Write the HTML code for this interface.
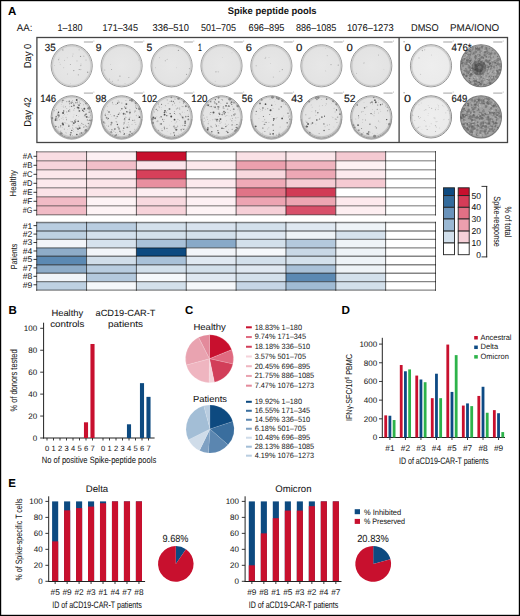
<!DOCTYPE html>
<html><head><meta charset="utf-8"><style>
html,body{margin:0;padding:0;background:#fff;width:520px;height:616px;overflow:hidden;}
svg{display:block;font-family:"Liberation Sans", sans-serif;text-rendering:geometricPrecision;}
</style></head><body>
<svg width="520" height="616" viewBox="0 0 520 616">
<defs><radialGradient id="pg"><stop offset="0" stop-color="#e7e7e7"/><stop offset="0.85" stop-color="#e3e3e3"/><stop offset="1" stop-color="#dadada"/></radialGradient><radialGradient id="pg2"><stop offset="0" stop-color="#eeeeee"/><stop offset="0.85" stop-color="#ebebeb"/><stop offset="1" stop-color="#e0e0e0"/></radialGradient><filter id="bl" x="-10%" y="-10%" width="120%" height="120%"><feGaussianBlur stdDeviation="0.5"/></filter><filter id="bl2" x="-10%" y="-10%" width="120%" height="120%"><feGaussianBlur stdDeviation="0.6"/></filter></defs>
<rect x="0" y="0" width="520" height="616" fill="#fff"/>
<rect x="0.60" y="0.60" width="518.80" height="614.80" fill="none" stroke="#000" stroke-width="1.2" />
<text x="7.90" y="15.10" font-size="11.5" text-anchor="start" fill="#000" font-weight="bold" >A</text>
<text x="227.70" y="14.20" font-size="9.6" text-anchor="start" fill="#151515" font-weight="bold" textLength="88.9" lengthAdjust="spacingAndGlyphs" >Spike peptide pools</text>
<text x="16.80" y="30.60" font-size="9.9" text-anchor="start" fill="#151515" stroke="#151515" stroke-width="0.05" textLength="15.6" lengthAdjust="spacingAndGlyphs" >AA:</text>
<text x="70.00" y="31.00" font-size="9.9" text-anchor="middle" fill="#151515" stroke="#151515" stroke-width="0.05" textLength="25" lengthAdjust="spacingAndGlyphs" >1–180</text>
<text x="120.25" y="31.00" font-size="9.9" text-anchor="middle" fill="#151515" stroke="#151515" stroke-width="0.05" textLength="35.5" lengthAdjust="spacingAndGlyphs" >171–345</text>
<text x="170.75" y="31.00" font-size="9.9" text-anchor="middle" fill="#151515" stroke="#151515" stroke-width="0.05" textLength="36.5" lengthAdjust="spacingAndGlyphs" >336–510</text>
<text x="218.50" y="31.00" font-size="9.9" text-anchor="middle" fill="#151515" stroke="#151515" stroke-width="0.05" textLength="35" lengthAdjust="spacingAndGlyphs" >501–705</text>
<text x="266.50" y="31.00" font-size="9.9" text-anchor="middle" fill="#151515" stroke="#151515" stroke-width="0.05" textLength="35.8" lengthAdjust="spacingAndGlyphs" >696–895</text>
<text x="316.20" y="31.00" font-size="9.9" text-anchor="middle" fill="#151515" stroke="#151515" stroke-width="0.05" textLength="40.4" lengthAdjust="spacingAndGlyphs" >886–1085</text>
<text x="370.30" y="31.00" font-size="9.9" text-anchor="middle" fill="#151515" stroke="#151515" stroke-width="0.05" textLength="46.8" lengthAdjust="spacingAndGlyphs" >1076–1273</text>
<text x="424.80" y="31.00" font-size="9.9" text-anchor="middle" fill="#151515" stroke="#151515" stroke-width="0.05" textLength="27.6" lengthAdjust="spacingAndGlyphs" >DMSO</text>
<text x="474.60" y="31.00" font-size="9.9" text-anchor="middle" fill="#151515" stroke="#151515" stroke-width="0.05" textLength="49.2" lengthAdjust="spacingAndGlyphs" >PMA/IONO</text>
<rect x="36.90" y="37.50" width="470.60" height="105.00" fill="none" stroke="#444" stroke-width="1.3" />
<line x1="399.10" y1="37.50" x2="399.10" y2="142.50" stroke="#444" stroke-width="1.3"/>
<text x="31.20" y="56.00" font-size="10" text-anchor="middle" fill="#151515" stroke="#151515" stroke-width="0.05" textLength="24.5" lengthAdjust="spacingAndGlyphs" transform="rotate(-90 31.20 56.00)" >Day 0</text>
<text x="31.20" y="112.00" font-size="10" text-anchor="middle" fill="#151515" stroke="#151515" stroke-width="0.05" textLength="29.5" lengthAdjust="spacingAndGlyphs" transform="rotate(-90 31.20 112.00)" >Day 42</text>
<ellipse cx="71.70" cy="65.80" rx="20.55" ry="21.05" fill="url(#pg)" stroke="#969696" stroke-width="1.0"/>
<ellipse cx="71.70" cy="65.80" rx="19.45" ry="19.95" fill="none" stroke="#cbcbcb" stroke-width="1.3"/>
<g filter="url(#bl)"><circle cx="67.19" cy="57.71" r="0.47" fill="rgb(182,182,182)"/><circle cx="67.50" cy="74.02" r="0.45" fill="rgb(167,167,167)"/><circle cx="63.73" cy="67.79" r="0.48" fill="rgb(177,177,177)"/><circle cx="59.05" cy="58.03" r="0.51" fill="rgb(192,192,192)"/><circle cx="83.80" cy="56.20" r="0.64" fill="rgb(188,188,188)"/><circle cx="73.76" cy="70.62" r="0.69" fill="rgb(158,158,158)"/><circle cx="73.06" cy="53.99" r="0.47" fill="rgb(177,177,177)"/><circle cx="59.76" cy="62.34" r="0.39" fill="rgb(193,193,193)"/><circle cx="64.63" cy="60.21" r="0.42" fill="rgb(154,154,154)"/><circle cx="79.11" cy="49.84" r="0.62" fill="rgb(185,185,185)"/><circle cx="70.31" cy="83.65" r="0.38" fill="rgb(190,190,190)"/><circle cx="62.82" cy="49.94" r="0.65" fill="rgb(152,152,152)"/><circle cx="58.67" cy="59.64" r="0.60" fill="rgb(169,169,169)"/><circle cx="54.33" cy="65.57" r="0.36" fill="rgb(161,161,161)"/><circle cx="80.54" cy="56.39" r="0.66" fill="rgb(151,151,151)"/><circle cx="86.02" cy="59.98" r="0.57" fill="rgb(176,176,176)"/><circle cx="60.24" cy="64.22" r="0.55" fill="rgb(195,195,195)"/><circle cx="80.85" cy="65.57" r="0.58" fill="rgb(167,167,167)"/><circle cx="72.56" cy="56.03" r="0.62" fill="rgb(195,195,195)"/><circle cx="79.24" cy="69.52" r="0.59" fill="rgb(155,155,155)"/><circle cx="78.33" cy="74.83" r="0.57" fill="rgb(165,165,165)"/><circle cx="76.98" cy="60.99" r="0.62" fill="rgb(194,194,194)"/><circle cx="81.01" cy="63.96" r="0.43" fill="rgb(163,163,163)"/><circle cx="87.69" cy="72.22" r="0.67" fill="rgb(155,155,155)"/><circle cx="70.39" cy="64.50" r="0.60" fill="rgb(169,169,169)"/><circle cx="80.81" cy="69.57" r="0.57" fill="rgb(182,182,182)"/></g>
<line x1="83.90" y1="42.00" x2="93.00" y2="42.00" stroke="#aaaaaa" stroke-width="1.1"/>
<circle cx="93.90" cy="41.00" r="0.50" fill="#aaa" />
<ellipse cx="71.70" cy="116.90" rx="20.55" ry="21.05" fill="url(#pg)" stroke="#8a8a8a" stroke-width="1.0"/>
<ellipse cx="71.70" cy="116.90" rx="19.45" ry="19.95" fill="none" stroke="#c0c0c0" stroke-width="1.3"/>
<g filter="url(#bl)"><circle cx="62.41" cy="112.73" r="0.54" fill="rgb(143,143,143)"/><circle cx="69.55" cy="103.79" r="0.53" fill="rgb(122,122,122)"/><circle cx="84.81" cy="115.13" r="0.60" fill="rgb(108,108,108)"/><circle cx="88.26" cy="120.64" r="0.45" fill="rgb(119,119,119)"/><circle cx="86.15" cy="114.13" r="0.90" fill="rgb(142,142,142)"/><circle cx="73.90" cy="123.03" r="0.90" fill="rgb(77,77,77)"/><circle cx="70.44" cy="134.79" r="0.84" fill="rgb(125,125,125)"/><circle cx="83.73" cy="111.32" r="0.58" fill="rgb(96,96,96)"/><circle cx="77.10" cy="128.51" r="0.48" fill="rgb(77,77,77)"/><circle cx="77.60" cy="102.11" r="0.61" fill="rgb(137,137,137)"/><circle cx="85.18" cy="116.60" r="0.46" fill="rgb(98,98,98)"/><circle cx="81.45" cy="133.05" r="0.95" fill="rgb(138,138,138)"/><circle cx="78.21" cy="129.28" r="0.67" fill="rgb(139,139,139)"/><circle cx="77.57" cy="107.39" r="0.95" fill="rgb(140,140,140)"/><circle cx="85.47" cy="114.76" r="0.55" fill="rgb(105,105,105)"/><circle cx="68.74" cy="111.03" r="0.67" fill="rgb(84,84,84)"/><circle cx="88.10" cy="108.46" r="0.88" fill="rgb(124,124,124)"/><circle cx="88.39" cy="123.52" r="0.73" fill="rgb(140,140,140)"/><circle cx="83.78" cy="127.02" r="0.62" fill="rgb(132,132,132)"/><circle cx="55.83" cy="126.56" r="0.71" fill="rgb(110,110,110)"/><circle cx="71.82" cy="130.37" r="0.67" fill="rgb(71,71,71)"/><circle cx="80.19" cy="103.60" r="0.51" fill="rgb(127,127,127)"/><circle cx="69.33" cy="101.49" r="0.87" fill="rgb(136,136,136)"/><circle cx="78.76" cy="108.00" r="0.74" fill="rgb(70,70,70)"/><circle cx="62.68" cy="123.56" r="0.94" fill="rgb(93,93,93)"/><circle cx="69.70" cy="109.46" r="0.46" fill="rgb(137,137,137)"/><circle cx="58.02" cy="115.12" r="0.81" fill="rgb(99,99,99)"/><circle cx="79.85" cy="133.84" r="0.61" fill="rgb(144,144,144)"/><circle cx="70.94" cy="132.86" r="0.76" fill="rgb(83,83,83)"/><circle cx="78.11" cy="107.70" r="0.80" fill="rgb(73,73,73)"/><circle cx="60.75" cy="125.86" r="0.56" fill="rgb(91,91,91)"/><circle cx="79.01" cy="105.26" r="0.91" fill="rgb(122,122,122)"/><circle cx="76.59" cy="115.46" r="0.47" fill="rgb(88,88,88)"/><circle cx="82.69" cy="110.36" r="0.80" fill="rgb(96,96,96)"/><circle cx="71.25" cy="103.01" r="0.76" fill="rgb(95,95,95)"/><circle cx="79.39" cy="110.90" r="0.88" fill="rgb(111,111,111)"/><circle cx="72.17" cy="121.66" r="0.77" fill="rgb(143,143,143)"/><circle cx="68.83" cy="126.08" r="0.86" fill="rgb(123,123,123)"/><circle cx="58.50" cy="112.36" r="0.79" fill="rgb(72,72,72)"/><circle cx="72.81" cy="124.99" r="0.52" fill="rgb(145,145,145)"/><circle cx="87.38" cy="119.93" r="0.64" fill="rgb(139,139,139)"/><circle cx="74.67" cy="120.89" r="0.55" fill="rgb(100,100,100)"/><circle cx="55.80" cy="118.53" r="0.94" fill="rgb(145,145,145)"/><circle cx="63.65" cy="110.90" r="0.76" fill="rgb(111,111,111)"/><circle cx="89.14" cy="112.19" r="0.61" fill="rgb(106,106,106)"/><circle cx="55.53" cy="119.99" r="0.99" fill="rgb(95,95,95)"/><circle cx="75.88" cy="102.82" r="0.78" fill="rgb(140,140,140)"/><circle cx="79.38" cy="101.99" r="0.48" fill="rgb(138,138,138)"/><circle cx="78.17" cy="121.26" r="0.80" fill="rgb(77,77,77)"/><circle cx="71.65" cy="106.32" r="0.67" fill="rgb(100,100,100)"/><circle cx="79.75" cy="128.08" r="0.87" fill="rgb(79,79,79)"/><circle cx="75.27" cy="122.11" r="0.75" fill="rgb(72,72,72)"/><circle cx="89.70" cy="120.33" r="0.71" fill="rgb(132,132,132)"/><circle cx="58.91" cy="115.83" r="0.88" fill="rgb(113,113,113)"/><circle cx="56.25" cy="116.61" r="0.90" fill="rgb(139,139,139)"/><circle cx="62.91" cy="100.39" r="0.67" fill="rgb(106,106,106)"/><circle cx="86.72" cy="116.88" r="0.93" fill="rgb(91,91,91)"/><circle cx="73.95" cy="105.33" r="0.72" fill="rgb(114,114,114)"/><circle cx="63.14" cy="112.99" r="0.99" fill="rgb(92,92,92)"/><circle cx="84.35" cy="108.80" r="0.94" fill="rgb(85,85,85)"/><circle cx="77.92" cy="128.73" r="0.98" fill="rgb(123,123,123)"/><circle cx="73.96" cy="105.77" r="0.82" fill="rgb(131,131,131)"/><circle cx="76.83" cy="134.47" r="0.78" fill="rgb(78,78,78)"/><circle cx="63.13" cy="124.60" r="0.90" fill="rgb(83,83,83)"/><circle cx="76.70" cy="99.99" r="0.94" fill="rgb(81,81,81)"/><circle cx="72.32" cy="128.14" r="0.35" fill="rgb(158,158,158)"/><circle cx="63.69" cy="107.16" r="0.63" fill="rgb(199,199,199)"/><circle cx="56.73" cy="109.54" r="0.48" fill="rgb(154,154,154)"/><circle cx="72.64" cy="127.47" r="0.36" fill="rgb(164,164,164)"/><circle cx="74.96" cy="101.31" r="0.41" fill="rgb(200,200,200)"/><circle cx="70.39" cy="132.23" r="0.37" fill="rgb(175,175,175)"/><circle cx="69.77" cy="125.05" r="0.34" fill="rgb(158,158,158)"/><circle cx="57.68" cy="115.83" r="0.33" fill="rgb(172,172,172)"/><circle cx="72.41" cy="135.51" r="0.51" fill="rgb(183,183,183)"/><circle cx="78.43" cy="116.49" r="0.41" fill="rgb(197,197,197)"/><circle cx="63.61" cy="100.34" r="0.57" fill="rgb(157,157,157)"/><circle cx="57.58" cy="115.18" r="0.54" fill="rgb(157,157,157)"/><circle cx="77.93" cy="123.31" r="0.37" fill="rgb(194,194,194)"/><circle cx="65.88" cy="132.39" r="0.52" fill="rgb(195,195,195)"/><circle cx="90.35" cy="115.43" r="0.54" fill="rgb(171,171,171)"/><circle cx="60.47" cy="127.01" r="0.48" fill="rgb(152,152,152)"/><circle cx="69.71" cy="111.62" r="0.39" fill="rgb(185,185,185)"/><circle cx="57.86" cy="113.43" r="0.56" fill="rgb(167,167,167)"/><circle cx="75.76" cy="119.63" r="0.60" fill="rgb(176,176,176)"/><circle cx="64.15" cy="129.11" r="0.52" fill="rgb(184,184,184)"/><circle cx="89.15" cy="117.00" r="0.56" fill="rgb(163,163,163)"/><circle cx="60.69" cy="131.68" r="0.54" fill="rgb(151,151,151)"/><circle cx="81.47" cy="123.24" r="0.46" fill="rgb(151,151,151)"/><circle cx="58.90" cy="127.46" r="0.41" fill="rgb(164,164,164)"/><circle cx="70.48" cy="121.23" r="0.51" fill="rgb(197,197,197)"/><circle cx="70.03" cy="128.51" r="0.45" fill="rgb(198,198,198)"/><circle cx="56.79" cy="118.91" r="0.56" fill="rgb(155,155,155)"/><circle cx="77.74" cy="104.04" r="0.52" fill="rgb(164,164,164)"/><circle cx="58.62" cy="129.09" r="0.44" fill="rgb(196,196,196)"/><circle cx="61.26" cy="118.60" r="0.36" fill="rgb(155,155,155)"/><circle cx="76.62" cy="121.19" r="0.45" fill="rgb(197,197,197)"/><circle cx="56.94" cy="120.17" r="0.60" fill="rgb(158,158,158)"/><circle cx="63.88" cy="115.36" r="0.31" fill="rgb(175,175,175)"/><circle cx="63.83" cy="105.40" r="0.30" fill="rgb(188,188,188)"/><circle cx="84.85" cy="126.77" r="0.48" fill="rgb(174,174,174)"/><circle cx="78.12" cy="127.60" r="0.34" fill="rgb(151,151,151)"/><circle cx="78.78" cy="125.66" r="0.64" fill="rgb(187,187,187)"/><circle cx="73.57" cy="103.37" r="0.58" fill="rgb(200,200,200)"/><circle cx="58.97" cy="114.51" r="0.52" fill="rgb(151,151,151)"/><circle cx="77.92" cy="131.63" r="0.42" fill="rgb(165,165,165)"/><circle cx="79.18" cy="126.63" r="0.40" fill="rgb(164,164,164)"/><circle cx="85.20" cy="125.02" r="0.57" fill="rgb(192,192,192)"/><circle cx="73.97" cy="114.79" r="0.38" fill="rgb(189,189,189)"/><circle cx="83.51" cy="104.75" r="0.50" fill="rgb(178,178,178)"/><circle cx="69.91" cy="106.83" r="0.47" fill="rgb(159,159,159)"/><circle cx="79.97" cy="100.30" r="0.46" fill="rgb(193,193,193)"/><circle cx="73.49" cy="131.65" r="0.38" fill="rgb(151,151,151)"/><circle cx="66.20" cy="133.18" r="0.46" fill="rgb(188,188,188)"/><circle cx="83.98" cy="116.67" r="0.36" fill="rgb(187,187,187)"/><circle cx="57.17" cy="118.12" r="0.63" fill="rgb(180,180,180)"/><circle cx="85.75" cy="126.78" r="0.58" fill="rgb(191,191,191)"/><circle cx="85.14" cy="116.69" r="0.56" fill="rgb(200,200,200)"/><circle cx="58.49" cy="126.98" r="0.51" fill="rgb(152,152,152)"/><circle cx="73.79" cy="110.02" r="0.61" fill="rgb(183,183,183)"/><circle cx="66.82" cy="108.47" r="0.42" fill="rgb(163,163,163)"/><circle cx="80.87" cy="125.00" r="0.55" fill="rgb(179,179,179)"/><circle cx="58.58" cy="117.58" r="0.57" fill="rgb(178,178,178)"/><circle cx="67.41" cy="114.36" r="0.44" fill="rgb(194,194,194)"/><circle cx="73.74" cy="104.01" r="0.57" fill="rgb(156,156,156)"/><circle cx="67.43" cy="129.31" r="0.41" fill="rgb(186,186,186)"/><circle cx="81.69" cy="108.95" r="0.34" fill="rgb(173,173,173)"/><circle cx="64.60" cy="114.54" r="0.50" fill="rgb(195,195,195)"/><circle cx="66.76" cy="111.89" r="0.55" fill="rgb(165,165,165)"/><circle cx="86.04" cy="110.72" r="0.40" fill="rgb(175,175,175)"/><circle cx="63.01" cy="106.74" r="0.31" fill="rgb(162,162,162)"/><circle cx="85.72" cy="125.56" r="0.56" fill="rgb(166,166,166)"/><circle cx="73.16" cy="116.88" r="0.34" fill="rgb(151,151,151)"/><circle cx="83.14" cy="124.48" r="0.58" fill="rgb(150,150,150)"/><circle cx="89.35" cy="110.63" r="0.54" fill="rgb(200,200,200)"/><circle cx="76.18" cy="127.25" r="0.40" fill="rgb(157,157,157)"/><circle cx="69.73" cy="110.75" r="0.56" fill="rgb(183,183,183)"/><circle cx="71.07" cy="98.48" r="0.33" fill="rgb(160,160,160)"/><circle cx="62.13" cy="101.88" r="0.62" fill="rgb(155,155,155)"/><circle cx="74.57" cy="108.56" r="0.48" fill="rgb(154,154,154)"/><circle cx="86.74" cy="126.56" r="0.62" fill="rgb(150,150,150)"/><circle cx="68.58" cy="124.38" r="0.37" fill="rgb(178,178,178)"/><circle cx="57.44" cy="112.56" r="0.53" fill="rgb(200,200,200)"/><circle cx="72.81" cy="122.84" r="0.37" fill="rgb(157,157,157)"/><circle cx="60.87" cy="130.51" r="0.43" fill="rgb(185,185,185)"/><circle cx="64.33" cy="122.67" r="0.43" fill="rgb(169,169,169)"/><circle cx="70.00" cy="111.80" r="0.36" fill="rgb(167,167,167)"/><circle cx="66.60" cy="119.96" r="0.44" fill="rgb(170,170,170)"/><circle cx="81.88" cy="123.30" r="0.58" fill="rgb(163,163,163)"/><circle cx="78.57" cy="109.02" r="0.53" fill="rgb(184,184,184)"/><circle cx="79.80" cy="104.96" r="0.40" fill="rgb(154,154,154)"/><circle cx="65.47" cy="106.80" r="0.50" fill="rgb(151,151,151)"/><circle cx="88.83" cy="117.65" r="0.47" fill="rgb(153,153,153)"/><circle cx="64.45" cy="129.16" r="0.54" fill="rgb(189,189,189)"/><circle cx="81.71" cy="108.38" r="0.58" fill="rgb(191,191,191)"/><circle cx="66.44" cy="119.26" r="0.53" fill="rgb(151,151,151)"/><circle cx="59.37" cy="119.67" r="0.53" fill="rgb(178,178,178)"/><circle cx="72.58" cy="102.47" r="0.61" fill="rgb(158,158,158)"/><circle cx="72.68" cy="100.69" r="0.47" fill="rgb(150,150,150)"/><circle cx="61.11" cy="106.26" r="0.30" fill="rgb(192,192,192)"/><circle cx="75.88" cy="127.79" r="0.45" fill="rgb(155,155,155)"/><circle cx="65.90" cy="123.20" r="0.40" fill="rgb(187,187,187)"/><circle cx="66.77" cy="101.59" r="0.61" fill="rgb(159,159,159)"/><circle cx="70.62" cy="135.43" r="0.36" fill="rgb(157,157,157)"/><circle cx="65.66" cy="122.91" r="0.55" fill="rgb(199,199,199)"/><circle cx="61.20" cy="104.34" r="0.33" fill="rgb(161,161,161)"/><circle cx="73.51" cy="129.67" r="0.45" fill="rgb(166,166,166)"/><circle cx="63.32" cy="106.14" r="0.30" fill="rgb(192,192,192)"/><circle cx="66.03" cy="117.29" r="0.51" fill="rgb(166,166,166)"/><circle cx="75.50" cy="120.37" r="0.51" fill="rgb(174,174,174)"/><circle cx="63.19" cy="119.51" r="0.43" fill="rgb(182,182,182)"/><circle cx="71.67" cy="101.74" r="0.63" fill="rgb(191,191,191)"/><circle cx="72.94" cy="128.34" r="0.40" fill="rgb(162,162,162)"/><circle cx="62.99" cy="117.76" r="0.57" fill="rgb(187,187,187)"/><circle cx="62.22" cy="127.33" r="0.53" fill="rgb(194,194,194)"/><circle cx="62.69" cy="116.50" r="0.30" fill="rgb(195,195,195)"/><circle cx="79.78" cy="133.12" r="0.63" fill="rgb(193,193,193)"/><circle cx="65.10" cy="134.22" r="0.36" fill="rgb(193,193,193)"/><circle cx="74.68" cy="123.25" r="0.37" fill="rgb(180,180,180)"/><circle cx="54.44" cy="110.64" r="0.58" fill="rgb(175,175,175)"/><circle cx="67.17" cy="123.79" r="0.35" fill="rgb(182,182,182)"/><circle cx="69.93" cy="109.66" r="0.40" fill="rgb(177,177,177)"/><path d="M51.60,118.90 A20.10,20.10 0 0 0 91.80,118.90" fill="none" stroke="#9a9a9a" stroke-width="1.4" opacity="0.8"/><circle cx="61.22" cy="133.46" r="1.33" fill="#8a8a8a"/><circle cx="90.94" cy="120.62" r="0.83" fill="#8a8a8a"/><circle cx="89.23" cy="108.13" r="1.45" fill="#8a8a8a"/><circle cx="85.92" cy="130.39" r="1.38" fill="#8a8a8a"/><circle cx="52.13" cy="118.07" r="1.18" fill="#8a8a8a"/><circle cx="85.93" cy="103.42" r="0.86" fill="#8a8a8a"/></g>
<line x1="83.90" y1="93.10" x2="93.00" y2="93.10" stroke="#aaaaaa" stroke-width="1.1"/>
<circle cx="93.90" cy="92.10" r="0.50" fill="#aaa" />
<ellipse cx="121.60" cy="65.80" rx="20.55" ry="21.05" fill="url(#pg)" stroke="#969696" stroke-width="1.0"/>
<ellipse cx="121.60" cy="65.80" rx="19.45" ry="19.95" fill="none" stroke="#cbcbcb" stroke-width="1.3"/>
<g filter="url(#bl)"><circle cx="125.00" cy="83.51" r="0.42" fill="rgb(181,181,181)"/><circle cx="138.45" cy="60.02" r="0.45" fill="rgb(191,191,191)"/><circle cx="111.53" cy="69.53" r="0.52" fill="rgb(163,163,163)"/><circle cx="112.44" cy="81.35" r="0.57" fill="rgb(190,190,190)"/><circle cx="104.80" cy="70.02" r="0.53" fill="rgb(172,172,172)"/><circle cx="119.92" cy="76.07" r="0.66" fill="rgb(156,156,156)"/><circle cx="110.45" cy="64.37" r="0.41" fill="rgb(183,183,183)"/><circle cx="128.83" cy="77.52" r="0.60" fill="rgb(173,173,173)"/><circle cx="118.12" cy="79.89" r="0.50" fill="rgb(167,167,167)"/><circle cx="109.53" cy="79.02" r="0.64" fill="rgb(184,184,184)"/></g>
<line x1="133.80" y1="42.00" x2="142.90" y2="42.00" stroke="#aaaaaa" stroke-width="1.1"/>
<circle cx="143.80" cy="41.00" r="0.50" fill="#aaa" />
<ellipse cx="121.60" cy="116.90" rx="20.55" ry="21.05" fill="url(#pg)" stroke="#8a8a8a" stroke-width="1.0"/>
<ellipse cx="121.60" cy="116.90" rx="19.45" ry="19.95" fill="none" stroke="#c0c0c0" stroke-width="1.3"/>
<g filter="url(#bl)"><circle cx="132.80" cy="120.32" r="0.56" fill="rgb(118,118,118)"/><circle cx="139.47" cy="117.18" r="0.92" fill="rgb(72,72,72)"/><circle cx="111.90" cy="129.78" r="0.59" fill="rgb(92,92,92)"/><circle cx="116.59" cy="134.70" r="0.54" fill="rgb(86,86,86)"/><circle cx="114.78" cy="129.01" r="0.85" fill="rgb(120,120,120)"/><circle cx="111.13" cy="131.93" r="0.74" fill="rgb(89,89,89)"/><circle cx="128.23" cy="122.62" r="0.48" fill="rgb(136,136,136)"/><circle cx="124.80" cy="107.00" r="0.51" fill="rgb(87,87,87)"/><circle cx="125.69" cy="108.21" r="0.82" fill="rgb(102,102,102)"/><circle cx="129.98" cy="112.39" r="0.93" fill="rgb(119,119,119)"/><circle cx="118.34" cy="114.45" r="0.59" fill="rgb(87,87,87)"/><circle cx="124.03" cy="134.45" r="0.52" fill="rgb(88,88,88)"/><circle cx="117.55" cy="103.17" r="0.61" fill="rgb(76,76,76)"/><circle cx="124.68" cy="119.02" r="0.69" fill="rgb(75,75,75)"/><circle cx="129.91" cy="100.29" r="0.68" fill="rgb(116,116,116)"/><circle cx="129.17" cy="119.51" r="0.72" fill="rgb(91,91,91)"/><circle cx="114.19" cy="115.81" r="0.75" fill="rgb(134,134,134)"/><circle cx="126.36" cy="104.10" r="0.97" fill="rgb(83,83,83)"/><circle cx="124.12" cy="122.88" r="0.61" fill="rgb(104,104,104)"/><circle cx="135.69" cy="111.08" r="0.45" fill="rgb(86,86,86)"/><circle cx="105.39" cy="115.54" r="0.73" fill="rgb(143,143,143)"/><circle cx="123.66" cy="113.64" r="0.99" fill="rgb(96,96,96)"/><circle cx="119.88" cy="131.17" r="0.71" fill="rgb(112,112,112)"/><circle cx="123.72" cy="128.13" r="0.70" fill="rgb(80,80,80)"/><circle cx="108.32" cy="118.47" r="0.61" fill="rgb(101,101,101)"/><circle cx="126.82" cy="111.74" r="0.66" fill="rgb(79,79,79)"/><circle cx="111.59" cy="122.75" r="0.97" fill="rgb(130,130,130)"/><circle cx="118.89" cy="113.95" r="0.50" fill="rgb(142,142,142)"/><circle cx="121.87" cy="108.77" r="0.66" fill="rgb(86,86,86)"/><circle cx="120.27" cy="132.00" r="0.48" fill="rgb(135,135,135)"/><circle cx="127.25" cy="127.37" r="0.89" fill="rgb(136,136,136)"/><circle cx="118.94" cy="102.18" r="0.62" fill="rgb(128,128,128)"/><circle cx="103.60" cy="122.08" r="0.94" fill="rgb(139,139,139)"/><circle cx="136.56" cy="108.40" r="0.69" fill="rgb(137,137,137)"/><circle cx="106.63" cy="117.72" r="0.91" fill="rgb(144,144,144)"/><circle cx="111.03" cy="124.71" r="0.67" fill="rgb(129,129,129)"/><circle cx="130.37" cy="131.76" r="0.74" fill="rgb(118,118,118)"/><circle cx="119.05" cy="128.77" r="0.88" fill="rgb(142,142,142)"/><circle cx="109.02" cy="112.05" r="0.74" fill="rgb(75,75,75)"/><circle cx="104.84" cy="123.11" r="0.57" fill="rgb(133,133,133)"/><circle cx="118.17" cy="127.17" r="0.76" fill="rgb(125,125,125)"/><circle cx="117.34" cy="116.51" r="0.83" fill="rgb(144,144,144)"/><circle cx="117.39" cy="124.52" r="0.71" fill="rgb(87,87,87)"/><circle cx="124.40" cy="133.74" r="0.65" fill="rgb(110,110,110)"/><circle cx="129.79" cy="109.90" r="0.60" fill="rgb(179,179,179)"/><circle cx="124.25" cy="119.67" r="0.61" fill="rgb(167,167,167)"/><circle cx="106.30" cy="125.78" r="0.43" fill="rgb(185,185,185)"/><circle cx="116.16" cy="121.56" r="0.59" fill="rgb(179,179,179)"/><circle cx="126.68" cy="117.21" r="0.48" fill="rgb(182,182,182)"/><circle cx="130.82" cy="117.10" r="0.40" fill="rgb(177,177,177)"/><circle cx="115.64" cy="104.54" r="0.38" fill="rgb(167,167,167)"/><circle cx="125.09" cy="116.97" r="0.47" fill="rgb(152,152,152)"/><circle cx="124.91" cy="120.91" r="0.57" fill="rgb(182,182,182)"/><circle cx="123.06" cy="130.72" r="0.54" fill="rgb(159,159,159)"/><circle cx="131.50" cy="101.83" r="0.38" fill="rgb(168,168,168)"/><circle cx="138.39" cy="115.31" r="0.43" fill="rgb(164,164,164)"/><circle cx="107.71" cy="119.05" r="0.59" fill="rgb(152,152,152)"/><circle cx="123.83" cy="132.61" r="0.32" fill="rgb(156,156,156)"/><circle cx="123.04" cy="116.03" r="0.31" fill="rgb(169,169,169)"/><circle cx="127.73" cy="111.93" r="0.61" fill="rgb(155,155,155)"/><circle cx="105.45" cy="114.03" r="0.53" fill="rgb(163,163,163)"/><circle cx="128.77" cy="124.89" r="0.60" fill="rgb(195,195,195)"/><circle cx="120.48" cy="110.50" r="0.57" fill="rgb(196,196,196)"/><circle cx="109.52" cy="129.34" r="0.40" fill="rgb(177,177,177)"/><circle cx="126.94" cy="124.03" r="0.32" fill="rgb(159,159,159)"/><circle cx="119.03" cy="127.58" r="0.65" fill="rgb(192,192,192)"/><circle cx="135.76" cy="105.94" r="0.63" fill="rgb(167,167,167)"/><circle cx="134.94" cy="122.25" r="0.50" fill="rgb(175,175,175)"/><circle cx="126.95" cy="133.48" r="0.46" fill="rgb(190,190,190)"/><circle cx="119.82" cy="113.79" r="0.58" fill="rgb(175,175,175)"/><circle cx="112.44" cy="102.35" r="0.60" fill="rgb(166,166,166)"/><circle cx="116.00" cy="118.50" r="0.50" fill="rgb(158,158,158)"/><circle cx="124.38" cy="106.60" r="0.43" fill="rgb(166,166,166)"/><circle cx="107.27" cy="106.74" r="0.37" fill="rgb(164,164,164)"/><circle cx="130.07" cy="131.63" r="0.64" fill="rgb(173,173,173)"/><circle cx="121.82" cy="103.04" r="0.55" fill="rgb(158,158,158)"/><circle cx="121.74" cy="112.50" r="0.36" fill="rgb(182,182,182)"/><circle cx="123.62" cy="124.24" r="0.57" fill="rgb(182,182,182)"/><circle cx="140.38" cy="118.30" r="0.37" fill="rgb(161,161,161)"/><circle cx="108.14" cy="121.75" r="0.37" fill="rgb(194,194,194)"/><circle cx="104.93" cy="114.40" r="0.44" fill="rgb(151,151,151)"/><circle cx="129.78" cy="113.66" r="0.62" fill="rgb(164,164,164)"/><circle cx="116.13" cy="116.88" r="0.48" fill="rgb(177,177,177)"/><circle cx="118.70" cy="134.74" r="0.32" fill="rgb(152,152,152)"/><circle cx="135.79" cy="124.49" r="0.53" fill="rgb(182,182,182)"/><circle cx="125.77" cy="100.61" r="0.47" fill="rgb(160,160,160)"/><circle cx="125.35" cy="117.31" r="0.54" fill="rgb(185,185,185)"/><circle cx="126.86" cy="100.56" r="0.31" fill="rgb(169,169,169)"/><circle cx="129.45" cy="118.18" r="0.65" fill="rgb(167,167,167)"/><circle cx="134.55" cy="111.90" r="0.53" fill="rgb(172,172,172)"/><circle cx="131.99" cy="124.42" r="0.64" fill="rgb(198,198,198)"/><circle cx="115.22" cy="128.59" r="0.54" fill="rgb(153,153,153)"/><circle cx="136.41" cy="115.51" r="0.64" fill="rgb(192,192,192)"/><circle cx="126.85" cy="107.00" r="0.49" fill="rgb(172,172,172)"/><circle cx="118.17" cy="100.74" r="0.54" fill="rgb(183,183,183)"/><circle cx="111.29" cy="116.35" r="0.43" fill="rgb(193,193,193)"/><circle cx="119.26" cy="112.69" r="0.48" fill="rgb(157,157,157)"/><circle cx="107.44" cy="110.72" r="0.65" fill="rgb(198,198,198)"/><circle cx="107.95" cy="114.52" r="0.45" fill="rgb(160,160,160)"/><circle cx="110.60" cy="114.43" r="0.39" fill="rgb(153,153,153)"/><circle cx="129.22" cy="126.71" r="0.48" fill="rgb(174,174,174)"/><circle cx="134.98" cy="110.56" r="0.45" fill="rgb(167,167,167)"/><circle cx="138.51" cy="109.38" r="0.41" fill="rgb(161,161,161)"/><circle cx="112.47" cy="103.86" r="0.39" fill="rgb(154,154,154)"/><circle cx="135.79" cy="107.58" r="0.59" fill="rgb(175,175,175)"/><circle cx="116.19" cy="104.44" r="0.51" fill="rgb(173,173,173)"/><circle cx="115.37" cy="132.51" r="0.48" fill="rgb(166,166,166)"/><circle cx="108.47" cy="126.19" r="0.59" fill="rgb(161,161,161)"/><circle cx="124.32" cy="126.72" r="0.37" fill="rgb(198,198,198)"/><circle cx="117.06" cy="132.88" r="0.38" fill="rgb(154,154,154)"/><circle cx="113.87" cy="131.07" r="0.64" fill="rgb(182,182,182)"/><circle cx="112.54" cy="132.45" r="0.36" fill="rgb(154,154,154)"/><circle cx="116.74" cy="121.92" r="0.50" fill="rgb(160,160,160)"/><circle cx="129.41" cy="134.06" r="0.47" fill="rgb(196,196,196)"/><circle cx="137.88" cy="118.03" r="0.38" fill="rgb(193,193,193)"/><circle cx="134.40" cy="129.16" r="0.41" fill="rgb(153,153,153)"/><circle cx="113.15" cy="104.62" r="0.44" fill="rgb(177,177,177)"/><circle cx="134.61" cy="120.19" r="0.65" fill="rgb(180,180,180)"/><circle cx="128.90" cy="127.46" r="0.41" fill="rgb(169,169,169)"/><circle cx="125.39" cy="114.07" r="0.61" fill="rgb(151,151,151)"/><circle cx="115.24" cy="128.54" r="0.55" fill="rgb(189,189,189)"/><circle cx="120.86" cy="132.81" r="0.36" fill="rgb(150,150,150)"/><path d="M101.50,118.90 A20.10,20.10 0 0 0 141.70,118.90" fill="none" stroke="#9a9a9a" stroke-width="1.4" opacity="0.8"/><circle cx="131.93" cy="100.24" r="1.40" fill="#8a8a8a"/><circle cx="131.95" cy="133.54" r="0.80" fill="#8a8a8a"/><circle cx="115.53" cy="135.54" r="1.06" fill="#8a8a8a"/><circle cx="129.47" cy="134.85" r="1.01" fill="#8a8a8a"/><circle cx="139.42" cy="108.74" r="1.29" fill="#8a8a8a"/><circle cx="135.72" cy="103.30" r="0.94" fill="#8a8a8a"/></g>
<line x1="133.80" y1="93.10" x2="142.90" y2="93.10" stroke="#aaaaaa" stroke-width="1.1"/>
<circle cx="143.80" cy="92.10" r="0.50" fill="#aaa" />
<ellipse cx="171.60" cy="65.80" rx="20.55" ry="21.05" fill="url(#pg)" stroke="#969696" stroke-width="1.0"/>
<ellipse cx="171.60" cy="65.80" rx="19.45" ry="19.95" fill="none" stroke="#cbcbcb" stroke-width="1.3"/>
<g filter="url(#bl)"><circle cx="186.53" cy="74.39" r="0.62" fill="rgb(169,169,169)"/><circle cx="159.35" cy="57.75" r="0.41" fill="rgb(159,159,159)"/><circle cx="167.11" cy="59.35" r="0.59" fill="rgb(189,189,189)"/><circle cx="189.48" cy="68.54" r="0.61" fill="rgb(177,177,177)"/><circle cx="155.42" cy="67.83" r="0.41" fill="rgb(150,150,150)"/><circle cx="165.26" cy="60.77" r="0.54" fill="rgb(163,163,163)"/><circle cx="176.48" cy="67.80" r="0.43" fill="rgb(192,192,192)"/><circle cx="178.42" cy="50.33" r="0.68" fill="rgb(150,150,150)"/></g>
<line x1="183.80" y1="42.00" x2="192.90" y2="42.00" stroke="#aaaaaa" stroke-width="1.1"/>
<circle cx="193.80" cy="41.00" r="0.50" fill="#aaa" />
<ellipse cx="171.60" cy="116.90" rx="20.55" ry="21.05" fill="url(#pg)" stroke="#8a8a8a" stroke-width="1.0"/>
<ellipse cx="171.60" cy="116.90" rx="19.45" ry="19.95" fill="none" stroke="#c0c0c0" stroke-width="1.3"/>
<g filter="url(#bl)"><circle cx="153.28" cy="117.46" r="0.85" fill="rgb(87,87,87)"/><circle cx="161.55" cy="104.27" r="0.57" fill="rgb(90,90,90)"/><circle cx="164.58" cy="114.65" r="0.90" fill="rgb(71,71,71)"/><circle cx="161.29" cy="116.76" r="0.52" fill="rgb(109,109,109)"/><circle cx="153.04" cy="118.84" r="0.64" fill="rgb(74,74,74)"/><circle cx="156.26" cy="109.26" r="0.61" fill="rgb(85,85,85)"/><circle cx="174.37" cy="113.53" r="0.50" fill="rgb(91,91,91)"/><circle cx="174.55" cy="119.73" r="0.89" fill="rgb(78,78,78)"/><circle cx="161.10" cy="116.67" r="0.74" fill="rgb(133,133,133)"/><circle cx="162.64" cy="119.50" r="0.63" fill="rgb(131,131,131)"/><circle cx="174.50" cy="135.16" r="0.59" fill="rgb(79,79,79)"/><circle cx="174.69" cy="111.49" r="0.45" fill="rgb(121,121,121)"/><circle cx="158.38" cy="103.94" r="0.47" fill="rgb(119,119,119)"/><circle cx="164.54" cy="128.70" r="0.57" fill="rgb(86,86,86)"/><circle cx="164.40" cy="112.42" r="0.78" fill="rgb(94,94,94)"/><circle cx="184.95" cy="125.48" r="0.74" fill="rgb(108,108,108)"/><circle cx="169.51" cy="108.92" r="0.97" fill="rgb(129,129,129)"/><circle cx="177.74" cy="108.09" r="0.61" fill="rgb(141,141,141)"/><circle cx="185.17" cy="121.52" r="0.93" fill="rgb(117,117,117)"/><circle cx="181.10" cy="129.55" r="0.56" fill="rgb(101,101,101)"/><circle cx="187.52" cy="110.47" r="0.45" fill="rgb(117,117,117)"/><circle cx="185.81" cy="116.77" r="0.63" fill="rgb(122,122,122)"/><circle cx="166.77" cy="115.65" r="0.66" fill="rgb(91,91,91)"/><circle cx="183.76" cy="129.32" r="0.55" fill="rgb(75,75,75)"/><circle cx="175.00" cy="127.93" r="0.61" fill="rgb(108,108,108)"/><circle cx="185.84" cy="106.25" r="0.97" fill="rgb(126,126,126)"/><circle cx="157.83" cy="120.98" r="0.58" fill="rgb(116,116,116)"/><circle cx="173.87" cy="132.80" r="0.82" fill="rgb(139,139,139)"/><circle cx="161.13" cy="123.89" r="0.90" fill="rgb(122,122,122)"/><circle cx="174.10" cy="126.18" r="0.61" fill="rgb(117,117,117)"/><circle cx="171.55" cy="101.13" r="0.54" fill="rgb(101,101,101)"/><circle cx="164.97" cy="110.84" r="0.90" fill="rgb(84,84,84)"/><circle cx="188.12" cy="116.39" r="0.72" fill="rgb(93,93,93)"/><circle cx="176.20" cy="129.70" r="0.99" fill="rgb(99,99,99)"/><circle cx="185.82" cy="116.23" r="0.52" fill="rgb(116,116,116)"/><circle cx="171.23" cy="116.49" r="0.95" fill="rgb(71,71,71)"/><circle cx="185.16" cy="123.12" r="0.95" fill="rgb(119,119,119)"/><circle cx="183.30" cy="103.42" r="0.48" fill="rgb(136,136,136)"/><circle cx="170.10" cy="113.58" r="0.58" fill="rgb(75,75,75)"/><circle cx="182.68" cy="117.40" r="0.90" fill="rgb(108,108,108)"/><circle cx="155.13" cy="118.17" r="0.96" fill="rgb(105,105,105)"/><circle cx="164.31" cy="127.23" r="0.66" fill="rgb(145,145,145)"/><circle cx="188.34" cy="119.46" r="0.91" fill="rgb(136,136,136)"/><circle cx="173.33" cy="101.48" r="0.65" fill="rgb(119,119,119)"/><circle cx="162.06" cy="130.62" r="0.55" fill="rgb(126,126,126)"/><circle cx="187.66" cy="116.40" r="0.49" fill="rgb(193,193,193)"/><circle cx="188.24" cy="114.24" r="0.42" fill="rgb(183,183,183)"/><circle cx="180.22" cy="115.25" r="0.37" fill="rgb(156,156,156)"/><circle cx="175.02" cy="99.13" r="0.63" fill="rgb(177,177,177)"/><circle cx="175.19" cy="122.98" r="0.57" fill="rgb(200,200,200)"/><circle cx="175.72" cy="105.83" r="0.47" fill="rgb(187,187,187)"/><circle cx="164.27" cy="119.62" r="0.35" fill="rgb(183,183,183)"/><circle cx="168.08" cy="103.34" r="0.63" fill="rgb(193,193,193)"/><circle cx="174.03" cy="126.46" r="0.45" fill="rgb(186,186,186)"/><circle cx="182.34" cy="129.62" r="0.39" fill="rgb(195,195,195)"/><circle cx="177.37" cy="129.77" r="0.48" fill="rgb(153,153,153)"/><circle cx="179.58" cy="107.98" r="0.62" fill="rgb(191,191,191)"/><circle cx="171.62" cy="121.37" r="0.49" fill="rgb(176,176,176)"/><circle cx="181.47" cy="115.92" r="0.51" fill="rgb(179,179,179)"/><circle cx="167.22" cy="100.49" r="0.45" fill="rgb(190,190,190)"/><circle cx="159.51" cy="123.76" r="0.37" fill="rgb(178,178,178)"/><circle cx="161.57" cy="109.24" r="0.40" fill="rgb(199,199,199)"/><circle cx="158.46" cy="105.97" r="0.33" fill="rgb(155,155,155)"/><circle cx="167.22" cy="99.67" r="0.58" fill="rgb(188,188,188)"/><circle cx="163.64" cy="121.30" r="0.63" fill="rgb(155,155,155)"/><circle cx="183.02" cy="118.68" r="0.55" fill="rgb(166,166,166)"/><circle cx="167.21" cy="131.70" r="0.33" fill="rgb(197,197,197)"/><circle cx="179.74" cy="102.17" r="0.64" fill="rgb(198,198,198)"/><circle cx="165.40" cy="106.01" r="0.36" fill="rgb(174,174,174)"/><circle cx="180.65" cy="125.98" r="0.36" fill="rgb(190,190,190)"/><circle cx="170.73" cy="133.82" r="0.65" fill="rgb(187,187,187)"/><circle cx="184.48" cy="118.98" r="0.32" fill="rgb(166,166,166)"/><circle cx="182.93" cy="106.60" r="0.59" fill="rgb(158,158,158)"/><circle cx="159.12" cy="106.66" r="0.57" fill="rgb(194,194,194)"/><circle cx="166.82" cy="128.41" r="0.41" fill="rgb(160,160,160)"/><circle cx="159.92" cy="117.67" r="0.61" fill="rgb(193,193,193)"/><circle cx="166.99" cy="128.32" r="0.62" fill="rgb(151,151,151)"/><circle cx="176.43" cy="108.92" r="0.60" fill="rgb(176,176,176)"/><circle cx="154.88" cy="116.59" r="0.38" fill="rgb(197,197,197)"/><circle cx="156.79" cy="116.86" r="0.54" fill="rgb(199,199,199)"/><circle cx="178.78" cy="133.16" r="0.37" fill="rgb(191,191,191)"/><circle cx="182.92" cy="125.21" r="0.58" fill="rgb(179,179,179)"/><circle cx="176.62" cy="121.79" r="0.64" fill="rgb(190,190,190)"/><circle cx="181.14" cy="130.07" r="0.60" fill="rgb(151,151,151)"/><circle cx="180.66" cy="113.31" r="0.36" fill="rgb(171,171,171)"/><circle cx="157.18" cy="121.51" r="0.64" fill="rgb(165,165,165)"/><circle cx="166.23" cy="112.58" r="0.63" fill="rgb(194,194,194)"/><circle cx="181.88" cy="106.20" r="0.52" fill="rgb(192,192,192)"/><circle cx="180.35" cy="114.54" r="0.54" fill="rgb(162,162,162)"/><circle cx="159.42" cy="124.88" r="0.38" fill="rgb(191,191,191)"/><circle cx="157.58" cy="110.51" r="0.64" fill="rgb(177,177,177)"/><circle cx="173.38" cy="126.70" r="0.51" fill="rgb(151,151,151)"/><circle cx="179.44" cy="120.62" r="0.43" fill="rgb(167,167,167)"/><circle cx="167.98" cy="115.13" r="0.31" fill="rgb(175,175,175)"/><circle cx="177.60" cy="126.14" r="0.63" fill="rgb(182,182,182)"/><circle cx="167.64" cy="110.66" r="0.44" fill="rgb(168,168,168)"/><circle cx="179.68" cy="113.61" r="0.61" fill="rgb(173,173,173)"/><circle cx="184.46" cy="112.54" r="0.39" fill="rgb(197,197,197)"/><circle cx="182.36" cy="112.20" r="0.61" fill="rgb(198,198,198)"/><circle cx="179.71" cy="108.96" r="0.56" fill="rgb(156,156,156)"/><circle cx="175.42" cy="114.13" r="0.43" fill="rgb(173,173,173)"/><circle cx="174.35" cy="98.83" r="0.35" fill="rgb(185,185,185)"/><circle cx="177.83" cy="119.41" r="0.56" fill="rgb(185,185,185)"/><circle cx="176.73" cy="127.22" r="0.58" fill="rgb(154,154,154)"/><circle cx="164.19" cy="128.93" r="0.44" fill="rgb(166,166,166)"/><circle cx="161.27" cy="107.65" r="0.46" fill="rgb(186,186,186)"/><circle cx="157.63" cy="121.24" r="0.50" fill="rgb(195,195,195)"/><circle cx="169.47" cy="125.10" r="0.46" fill="rgb(185,185,185)"/><circle cx="159.50" cy="107.61" r="0.62" fill="rgb(196,196,196)"/><circle cx="182.07" cy="128.45" r="0.39" fill="rgb(151,151,151)"/><circle cx="154.31" cy="111.88" r="0.58" fill="rgb(181,181,181)"/><circle cx="175.46" cy="130.13" r="0.39" fill="rgb(199,199,199)"/><circle cx="181.36" cy="131.04" r="0.55" fill="rgb(189,189,189)"/><circle cx="184.21" cy="128.54" r="0.45" fill="rgb(194,194,194)"/><circle cx="165.36" cy="105.57" r="0.49" fill="rgb(160,160,160)"/><circle cx="161.91" cy="128.79" r="0.38" fill="rgb(156,156,156)"/><circle cx="182.70" cy="125.63" r="0.33" fill="rgb(166,166,166)"/><circle cx="166.06" cy="112.10" r="0.57" fill="rgb(156,156,156)"/><circle cx="172.74" cy="104.46" r="0.46" fill="rgb(156,156,156)"/><circle cx="174.54" cy="103.09" r="0.59" fill="rgb(156,156,156)"/><circle cx="172.30" cy="105.26" r="0.53" fill="rgb(194,194,194)"/><circle cx="170.09" cy="101.17" r="0.54" fill="rgb(154,154,154)"/><circle cx="164.53" cy="119.46" r="0.39" fill="rgb(180,180,180)"/><circle cx="173.22" cy="112.00" r="0.33" fill="rgb(194,194,194)"/><circle cx="158.64" cy="130.40" r="0.56" fill="rgb(161,161,161)"/><circle cx="177.60" cy="126.19" r="0.41" fill="rgb(158,158,158)"/><path d="M151.50,118.90 A20.10,20.10 0 0 0 191.70,118.90" fill="none" stroke="#9a9a9a" stroke-width="1.4" opacity="0.8"/><circle cx="178.53" cy="98.57" r="1.29" fill="#8a8a8a"/><circle cx="152.14" cy="119.22" r="1.14" fill="#8a8a8a"/><circle cx="183.89" cy="101.63" r="1.03" fill="#8a8a8a"/><circle cx="171.37" cy="97.30" r="0.86" fill="#8a8a8a"/><circle cx="152.94" cy="122.90" r="1.12" fill="#8a8a8a"/><circle cx="188.50" cy="106.97" r="0.80" fill="#8a8a8a"/></g>
<line x1="183.80" y1="93.10" x2="192.90" y2="93.10" stroke="#aaaaaa" stroke-width="1.1"/>
<circle cx="193.80" cy="92.10" r="0.50" fill="#aaa" />
<ellipse cx="221.50" cy="65.80" rx="20.55" ry="21.05" fill="url(#pg)" stroke="#969696" stroke-width="1.0"/>
<ellipse cx="221.50" cy="65.80" rx="19.45" ry="19.95" fill="none" stroke="#cbcbcb" stroke-width="1.3"/>
<g filter="url(#bl)"><circle cx="222.28" cy="57.60" r="0.39" fill="rgb(185,185,185)"/><circle cx="215.20" cy="81.31" r="0.44" fill="rgb(181,181,181)"/><circle cx="218.23" cy="71.86" r="0.69" fill="rgb(190,190,190)"/><circle cx="231.97" cy="52.86" r="0.36" fill="rgb(162,162,162)"/><circle cx="215.95" cy="71.84" r="0.60" fill="rgb(158,158,158)"/></g>
<line x1="233.70" y1="42.00" x2="242.80" y2="42.00" stroke="#aaaaaa" stroke-width="1.1"/>
<circle cx="243.70" cy="41.00" r="0.50" fill="#aaa" />
<ellipse cx="221.50" cy="116.90" rx="20.55" ry="21.05" fill="url(#pg)" stroke="#8a8a8a" stroke-width="1.0"/>
<ellipse cx="221.50" cy="116.90" rx="19.45" ry="19.95" fill="none" stroke="#c0c0c0" stroke-width="1.3"/>
<g filter="url(#bl)"><circle cx="218.43" cy="132.92" r="0.83" fill="rgb(71,71,71)"/><circle cx="208.12" cy="105.17" r="0.96" fill="rgb(93,93,93)"/><circle cx="227.03" cy="103.21" r="0.74" fill="rgb(94,94,94)"/><circle cx="219.06" cy="113.35" r="0.78" fill="rgb(139,139,139)"/><circle cx="213.52" cy="112.43" r="0.99" fill="rgb(82,82,82)"/><circle cx="223.82" cy="128.60" r="0.51" fill="rgb(115,115,115)"/><circle cx="217.95" cy="106.58" r="0.64" fill="rgb(108,108,108)"/><circle cx="218.62" cy="106.99" r="0.88" fill="rgb(132,132,132)"/><circle cx="215.10" cy="107.20" r="0.97" fill="rgb(131,131,131)"/><circle cx="218.84" cy="101.93" r="0.72" fill="rgb(92,92,92)"/><circle cx="232.13" cy="124.85" r="0.56" fill="rgb(93,93,93)"/><circle cx="216.57" cy="104.01" r="0.80" fill="rgb(113,113,113)"/><circle cx="226.06" cy="105.75" r="0.76" fill="rgb(87,87,87)"/><circle cx="211.82" cy="131.80" r="0.78" fill="rgb(98,98,98)"/><circle cx="211.21" cy="106.48" r="0.68" fill="rgb(121,121,121)"/><circle cx="223.22" cy="106.73" r="0.50" fill="rgb(92,92,92)"/><circle cx="219.97" cy="114.01" r="0.53" fill="rgb(129,129,129)"/><circle cx="236.30" cy="127.41" r="0.70" fill="rgb(107,107,107)"/><circle cx="218.19" cy="108.93" r="0.57" fill="rgb(118,118,118)"/><circle cx="222.07" cy="99.50" r="0.56" fill="rgb(142,142,142)"/><circle cx="214.98" cy="103.03" r="0.66" fill="rgb(118,118,118)"/><circle cx="219.53" cy="114.14" r="0.63" fill="rgb(80,80,80)"/><circle cx="234.13" cy="114.74" r="1.00" fill="rgb(144,144,144)"/><circle cx="236.95" cy="124.58" r="0.57" fill="rgb(79,79,79)"/><circle cx="225.21" cy="112.36" r="0.60" fill="rgb(76,76,76)"/><circle cx="225.88" cy="126.61" r="0.64" fill="rgb(82,82,82)"/><circle cx="216.63" cy="119.77" r="0.90" fill="rgb(126,126,126)"/><circle cx="231.52" cy="102.26" r="0.96" fill="rgb(117,117,117)"/><circle cx="214.33" cy="101.81" r="0.55" fill="rgb(126,126,126)"/><circle cx="233.99" cy="102.74" r="0.86" fill="rgb(142,142,142)"/><circle cx="207.70" cy="129.71" r="0.87" fill="rgb(81,81,81)"/><circle cx="224.41" cy="113.63" r="0.84" fill="rgb(128,128,128)"/><circle cx="230.71" cy="103.22" r="0.46" fill="rgb(122,122,122)"/><circle cx="210.86" cy="112.57" r="0.53" fill="rgb(109,109,109)"/><circle cx="217.60" cy="119.35" r="0.71" fill="rgb(99,99,99)"/><circle cx="216.93" cy="120.97" r="0.75" fill="rgb(145,145,145)"/><circle cx="215.30" cy="99.64" r="0.56" fill="rgb(77,77,77)"/><circle cx="228.71" cy="106.21" r="0.87" fill="rgb(74,74,74)"/><circle cx="219.49" cy="120.89" r="0.75" fill="rgb(131,131,131)"/><circle cx="231.74" cy="104.41" r="0.61" fill="rgb(119,119,119)"/><circle cx="220.49" cy="119.09" r="0.95" fill="rgb(82,82,82)"/><circle cx="233.70" cy="109.15" r="0.94" fill="rgb(143,143,143)"/><circle cx="226.88" cy="131.44" r="0.58" fill="rgb(96,96,96)"/><circle cx="225.98" cy="105.88" r="0.67" fill="rgb(115,115,115)"/><circle cx="216.40" cy="125.99" r="0.73" fill="rgb(118,118,118)"/><circle cx="207.86" cy="127.96" r="0.93" fill="rgb(135,135,135)"/><circle cx="223.98" cy="111.72" r="0.85" fill="rgb(110,110,110)"/><circle cx="210.76" cy="101.68" r="0.62" fill="rgb(100,100,100)"/><circle cx="231.74" cy="115.71" r="0.55" fill="rgb(130,130,130)"/><circle cx="222.12" cy="114.60" r="0.66" fill="rgb(93,93,93)"/><circle cx="221.98" cy="128.30" r="0.76" fill="rgb(70,70,70)"/><circle cx="227.83" cy="132.54" r="0.81" fill="rgb(100,100,100)"/><circle cx="223.09" cy="107.93" r="0.46" fill="rgb(70,70,70)"/><circle cx="217.90" cy="130.55" r="0.67" fill="rgb(106,106,106)"/><circle cx="225.28" cy="116.08" r="0.60" fill="rgb(185,185,185)"/><circle cx="216.53" cy="125.81" r="0.34" fill="rgb(171,171,171)"/><circle cx="205.62" cy="120.06" r="0.45" fill="rgb(185,185,185)"/><circle cx="216.29" cy="108.95" r="0.39" fill="rgb(177,177,177)"/><circle cx="212.26" cy="127.35" r="0.40" fill="rgb(153,153,153)"/><circle cx="230.21" cy="119.12" r="0.41" fill="rgb(150,150,150)"/><circle cx="203.55" cy="115.15" r="0.55" fill="rgb(176,176,176)"/><circle cx="213.22" cy="106.86" r="0.57" fill="rgb(169,169,169)"/><circle cx="212.10" cy="108.89" r="0.40" fill="rgb(172,172,172)"/><circle cx="228.98" cy="115.94" r="0.37" fill="rgb(179,179,179)"/><circle cx="235.04" cy="125.27" r="0.60" fill="rgb(200,200,200)"/><circle cx="227.48" cy="112.19" r="0.39" fill="rgb(199,199,199)"/><circle cx="207.61" cy="119.58" r="0.46" fill="rgb(156,156,156)"/><circle cx="211.13" cy="102.33" r="0.33" fill="rgb(199,199,199)"/><circle cx="215.14" cy="119.96" r="0.36" fill="rgb(196,196,196)"/><circle cx="215.20" cy="119.12" r="0.59" fill="rgb(153,153,153)"/><circle cx="217.43" cy="107.49" r="0.41" fill="rgb(175,175,175)"/><circle cx="209.41" cy="113.89" r="0.49" fill="rgb(186,186,186)"/><circle cx="218.43" cy="98.27" r="0.55" fill="rgb(167,167,167)"/><circle cx="222.23" cy="115.07" r="0.48" fill="rgb(166,166,166)"/><circle cx="231.84" cy="103.37" r="0.35" fill="rgb(193,193,193)"/><circle cx="236.78" cy="117.96" r="0.33" fill="rgb(169,169,169)"/><circle cx="225.62" cy="131.26" r="0.32" fill="rgb(173,173,173)"/><circle cx="222.74" cy="100.57" r="0.46" fill="rgb(156,156,156)"/><circle cx="210.00" cy="106.61" r="0.54" fill="rgb(150,150,150)"/><circle cx="226.97" cy="125.37" r="0.63" fill="rgb(185,185,185)"/><circle cx="227.80" cy="112.40" r="0.31" fill="rgb(194,194,194)"/><circle cx="211.26" cy="126.90" r="0.61" fill="rgb(166,166,166)"/><circle cx="227.62" cy="109.61" r="0.33" fill="rgb(180,180,180)"/><circle cx="227.80" cy="109.01" r="0.53" fill="rgb(155,155,155)"/><circle cx="203.59" cy="121.49" r="0.39" fill="rgb(189,189,189)"/><circle cx="231.74" cy="124.92" r="0.53" fill="rgb(181,181,181)"/><circle cx="218.98" cy="109.11" r="0.33" fill="rgb(160,160,160)"/><circle cx="238.17" cy="117.24" r="0.36" fill="rgb(156,156,156)"/><circle cx="210.36" cy="114.40" r="0.41" fill="rgb(150,150,150)"/><circle cx="225.21" cy="124.04" r="0.45" fill="rgb(152,152,152)"/><circle cx="232.61" cy="102.34" r="0.50" fill="rgb(175,175,175)"/><circle cx="222.55" cy="113.10" r="0.48" fill="rgb(166,166,166)"/><circle cx="235.10" cy="120.53" r="0.38" fill="rgb(155,155,155)"/><circle cx="216.96" cy="135.10" r="0.63" fill="rgb(189,189,189)"/><circle cx="228.27" cy="106.13" r="0.65" fill="rgb(184,184,184)"/><circle cx="209.22" cy="104.17" r="0.40" fill="rgb(173,173,173)"/><circle cx="224.45" cy="112.68" r="0.50" fill="rgb(184,184,184)"/><circle cx="234.47" cy="114.80" r="0.54" fill="rgb(199,199,199)"/><circle cx="228.83" cy="112.82" r="0.38" fill="rgb(163,163,163)"/><circle cx="233.00" cy="122.52" r="0.31" fill="rgb(160,160,160)"/><circle cx="218.75" cy="125.74" r="0.57" fill="rgb(190,190,190)"/><circle cx="215.64" cy="124.23" r="0.56" fill="rgb(183,183,183)"/><circle cx="204.21" cy="118.16" r="0.54" fill="rgb(179,179,179)"/><circle cx="220.05" cy="105.47" r="0.31" fill="rgb(182,182,182)"/><circle cx="219.66" cy="112.00" r="0.37" fill="rgb(150,150,150)"/><circle cx="215.62" cy="119.40" r="0.30" fill="rgb(186,186,186)"/><circle cx="226.83" cy="115.53" r="0.63" fill="rgb(189,189,189)"/><circle cx="232.30" cy="106.79" r="0.43" fill="rgb(174,174,174)"/><circle cx="208.27" cy="123.73" r="0.63" fill="rgb(179,179,179)"/><circle cx="237.84" cy="109.64" r="0.53" fill="rgb(199,199,199)"/><circle cx="218.02" cy="131.88" r="0.48" fill="rgb(199,199,199)"/><circle cx="237.88" cy="117.51" r="0.41" fill="rgb(193,193,193)"/><circle cx="231.87" cy="120.71" r="0.39" fill="rgb(150,150,150)"/><circle cx="220.90" cy="103.15" r="0.37" fill="rgb(158,158,158)"/><circle cx="222.19" cy="112.59" r="0.36" fill="rgb(159,159,159)"/><circle cx="206.94" cy="117.09" r="0.52" fill="rgb(170,170,170)"/><circle cx="206.98" cy="105.27" r="0.60" fill="rgb(153,153,153)"/><circle cx="226.35" cy="131.10" r="0.47" fill="rgb(180,180,180)"/><circle cx="211.03" cy="126.48" r="0.51" fill="rgb(173,173,173)"/><circle cx="239.24" cy="122.69" r="0.34" fill="rgb(178,178,178)"/><circle cx="232.67" cy="118.03" r="0.39" fill="rgb(189,189,189)"/><circle cx="228.64" cy="124.18" r="0.40" fill="rgb(159,159,159)"/><circle cx="219.85" cy="107.49" r="0.37" fill="rgb(191,191,191)"/><circle cx="221.16" cy="99.11" r="0.47" fill="rgb(187,187,187)"/><circle cx="230.39" cy="110.39" r="0.63" fill="rgb(189,189,189)"/><circle cx="220.00" cy="123.23" r="0.61" fill="rgb(187,187,187)"/><circle cx="231.88" cy="120.86" r="0.55" fill="rgb(159,159,159)"/><circle cx="216.85" cy="103.98" r="0.34" fill="rgb(197,197,197)"/><circle cx="232.19" cy="129.43" r="0.59" fill="rgb(155,155,155)"/><circle cx="206.73" cy="128.40" r="0.49" fill="rgb(199,199,199)"/><circle cx="235.51" cy="114.02" r="0.60" fill="rgb(182,182,182)"/><circle cx="226.50" cy="120.77" r="0.39" fill="rgb(166,166,166)"/><circle cx="210.03" cy="120.50" r="0.40" fill="rgb(190,190,190)"/><circle cx="221.51" cy="122.10" r="0.45" fill="rgb(175,175,175)"/><circle cx="232.39" cy="118.54" r="0.55" fill="rgb(172,172,172)"/><circle cx="212.84" cy="119.85" r="0.50" fill="rgb(180,180,180)"/><circle cx="208.62" cy="121.84" r="0.45" fill="rgb(174,174,174)"/><circle cx="228.47" cy="129.86" r="0.40" fill="rgb(175,175,175)"/><circle cx="219.12" cy="133.29" r="0.63" fill="rgb(197,197,197)"/><circle cx="204.33" cy="121.64" r="0.48" fill="rgb(179,179,179)"/><circle cx="229.95" cy="100.94" r="0.53" fill="rgb(181,181,181)"/><circle cx="227.31" cy="109.30" r="0.59" fill="rgb(183,183,183)"/><circle cx="228.62" cy="105.79" r="0.52" fill="rgb(158,158,158)"/><circle cx="233.24" cy="111.27" r="0.40" fill="rgb(176,176,176)"/><circle cx="224.00" cy="108.31" r="0.57" fill="rgb(168,168,168)"/><circle cx="210.93" cy="126.10" r="0.61" fill="rgb(178,178,178)"/><circle cx="218.73" cy="116.46" r="0.57" fill="rgb(199,199,199)"/><circle cx="234.93" cy="113.94" r="0.65" fill="rgb(152,152,152)"/><circle cx="235.59" cy="117.84" r="0.63" fill="rgb(181,181,181)"/><circle cx="212.93" cy="114.84" r="0.35" fill="rgb(173,173,173)"/><path d="M201.40,118.90 A20.10,20.10 0 0 0 241.60,118.90" fill="none" stroke="#9a9a9a" stroke-width="1.4" opacity="0.8"/><circle cx="237.77" cy="105.96" r="1.32" fill="#8a8a8a"/><circle cx="235.03" cy="131.08" r="0.96" fill="#8a8a8a"/><circle cx="236.08" cy="130.00" r="1.11" fill="#8a8a8a"/><circle cx="218.61" cy="97.51" r="0.98" fill="#8a8a8a"/><circle cx="229.80" cy="99.14" r="1.46" fill="#8a8a8a"/><circle cx="237.49" cy="128.23" r="0.97" fill="#8a8a8a"/></g>
<line x1="233.70" y1="93.10" x2="242.80" y2="93.10" stroke="#aaaaaa" stroke-width="1.1"/>
<circle cx="243.70" cy="92.10" r="0.50" fill="#aaa" />
<ellipse cx="271.40" cy="65.80" rx="20.55" ry="21.05" fill="url(#pg)" stroke="#969696" stroke-width="1.0"/>
<ellipse cx="271.40" cy="65.80" rx="19.45" ry="19.95" fill="none" stroke="#cbcbcb" stroke-width="1.3"/>
<g filter="url(#bl)"><circle cx="269.03" cy="57.65" r="0.45" fill="rgb(176,176,176)"/><circle cx="282.30" cy="69.52" r="0.63" fill="rgb(162,162,162)"/><circle cx="265.10" cy="58.57" r="0.47" fill="rgb(158,158,158)"/><circle cx="256.17" cy="65.68" r="0.54" fill="rgb(170,170,170)"/><circle cx="265.70" cy="57.27" r="0.53" fill="rgb(185,185,185)"/><circle cx="270.63" cy="63.66" r="0.37" fill="rgb(181,181,181)"/><circle cx="273.37" cy="77.09" r="0.62" fill="rgb(186,186,186)"/><circle cx="279.81" cy="71.20" r="0.45" fill="rgb(167,167,167)"/></g>
<line x1="283.60" y1="42.00" x2="292.70" y2="42.00" stroke="#aaaaaa" stroke-width="1.1"/>
<circle cx="293.60" cy="41.00" r="0.50" fill="#aaa" />
<ellipse cx="271.40" cy="116.90" rx="20.55" ry="21.05" fill="url(#pg)" stroke="#8a8a8a" stroke-width="1.0"/>
<ellipse cx="271.40" cy="116.90" rx="19.45" ry="19.95" fill="none" stroke="#c0c0c0" stroke-width="1.3"/>
<g filter="url(#bl)"><circle cx="260.03" cy="103.38" r="0.90" fill="rgb(104,104,104)"/><circle cx="269.79" cy="114.48" r="0.48" fill="rgb(71,71,71)"/><circle cx="267.83" cy="108.68" r="0.49" fill="rgb(95,95,95)"/><circle cx="273.01" cy="124.89" r="0.70" fill="rgb(81,81,81)"/><circle cx="289.07" cy="116.09" r="0.50" fill="rgb(112,112,112)"/><circle cx="270.26" cy="134.05" r="0.87" fill="rgb(143,143,143)"/><circle cx="276.31" cy="135.00" r="0.45" fill="rgb(130,130,130)"/><circle cx="273.40" cy="130.33" r="0.69" fill="rgb(114,114,114)"/><circle cx="262.86" cy="128.01" r="0.59" fill="rgb(78,78,78)"/><circle cx="262.93" cy="108.02" r="0.77" fill="rgb(96,96,96)"/><circle cx="273.84" cy="118.83" r="0.95" fill="rgb(87,87,87)"/><circle cx="273.50" cy="120.36" r="0.53" fill="rgb(83,83,83)"/><circle cx="282.14" cy="118.45" r="0.89" fill="rgb(80,80,80)"/><circle cx="281.20" cy="106.81" r="0.67" fill="rgb(79,79,79)"/><circle cx="287.16" cy="122.82" r="0.81" fill="rgb(130,130,130)"/><circle cx="287.98" cy="113.24" r="0.76" fill="rgb(133,133,133)"/><circle cx="270.58" cy="110.15" r="0.99" fill="rgb(79,79,79)"/><circle cx="263.40" cy="116.57" r="0.51" fill="rgb(95,95,95)"/><circle cx="264.30" cy="124.25" r="0.60" fill="rgb(90,90,90)"/><circle cx="271.75" cy="105.23" r="0.65" fill="rgb(76,76,76)"/><circle cx="289.74" cy="119.16" r="0.59" fill="rgb(112,112,112)"/><circle cx="255.75" cy="126.30" r="0.91" fill="rgb(94,94,94)"/><circle cx="273.10" cy="133.83" r="0.91" fill="rgb(87,87,87)"/><circle cx="256.28" cy="111.48" r="0.61" fill="rgb(112,112,112)"/><circle cx="265.51" cy="104.13" r="0.85" fill="rgb(77,77,77)"/><circle cx="275.76" cy="104.71" r="0.36" fill="rgb(190,190,190)"/><circle cx="277.03" cy="117.48" r="0.49" fill="rgb(176,176,176)"/><circle cx="276.05" cy="118.82" r="0.46" fill="rgb(159,159,159)"/><circle cx="264.97" cy="131.51" r="0.54" fill="rgb(161,161,161)"/><circle cx="258.96" cy="118.29" r="0.39" fill="rgb(162,162,162)"/><circle cx="287.41" cy="126.40" r="0.55" fill="rgb(182,182,182)"/><circle cx="255.89" cy="114.23" r="0.57" fill="rgb(185,185,185)"/><circle cx="274.37" cy="101.38" r="0.34" fill="rgb(192,192,192)"/><circle cx="260.59" cy="109.53" r="0.37" fill="rgb(150,150,150)"/><circle cx="289.07" cy="121.11" r="0.49" fill="rgb(158,158,158)"/><circle cx="273.77" cy="135.28" r="0.45" fill="rgb(180,180,180)"/><circle cx="264.71" cy="119.75" r="0.54" fill="rgb(169,169,169)"/><circle cx="262.16" cy="110.57" r="0.44" fill="rgb(154,154,154)"/><circle cx="273.02" cy="108.50" r="0.57" fill="rgb(194,194,194)"/><circle cx="285.62" cy="104.54" r="0.53" fill="rgb(172,172,172)"/><circle cx="283.65" cy="104.11" r="0.51" fill="rgb(196,196,196)"/><circle cx="271.26" cy="110.67" r="0.42" fill="rgb(166,166,166)"/><circle cx="262.51" cy="109.87" r="0.58" fill="rgb(191,191,191)"/><circle cx="264.87" cy="119.04" r="0.31" fill="rgb(179,179,179)"/><circle cx="265.24" cy="109.28" r="0.42" fill="rgb(169,169,169)"/><circle cx="288.63" cy="117.46" r="0.43" fill="rgb(173,173,173)"/><circle cx="265.25" cy="122.35" r="0.55" fill="rgb(160,160,160)"/><circle cx="271.99" cy="111.12" r="0.31" fill="rgb(189,189,189)"/><circle cx="283.68" cy="116.03" r="0.43" fill="rgb(180,180,180)"/><circle cx="268.80" cy="127.70" r="0.50" fill="rgb(186,186,186)"/><circle cx="269.56" cy="132.17" r="0.31" fill="rgb(177,177,177)"/><circle cx="265.58" cy="124.37" r="0.42" fill="rgb(163,163,163)"/><circle cx="280.11" cy="127.01" r="0.46" fill="rgb(162,162,162)"/><circle cx="262.66" cy="132.94" r="0.48" fill="rgb(179,179,179)"/><circle cx="278.95" cy="109.07" r="0.62" fill="rgb(154,154,154)"/><circle cx="263.12" cy="121.18" r="0.51" fill="rgb(195,195,195)"/><circle cx="262.16" cy="121.61" r="0.49" fill="rgb(195,195,195)"/><circle cx="270.00" cy="99.10" r="0.54" fill="rgb(190,190,190)"/><circle cx="266.43" cy="122.45" r="0.58" fill="rgb(164,164,164)"/><circle cx="260.52" cy="111.45" r="0.31" fill="rgb(189,189,189)"/><circle cx="274.61" cy="119.08" r="0.40" fill="rgb(167,167,167)"/><circle cx="268.92" cy="122.50" r="0.61" fill="rgb(192,192,192)"/><circle cx="259.69" cy="108.57" r="0.34" fill="rgb(163,163,163)"/><circle cx="264.28" cy="131.67" r="0.38" fill="rgb(151,151,151)"/><circle cx="271.89" cy="116.50" r="0.35" fill="rgb(167,167,167)"/><circle cx="267.70" cy="128.91" r="0.49" fill="rgb(180,180,180)"/><circle cx="276.28" cy="99.63" r="0.31" fill="rgb(193,193,193)"/><circle cx="279.11" cy="133.16" r="0.61" fill="rgb(165,165,165)"/><circle cx="287.07" cy="110.06" r="0.32" fill="rgb(194,194,194)"/><path d="M251.30,118.90 A20.10,20.10 0 0 0 291.50,118.90" fill="none" stroke="#9a9a9a" stroke-width="1.4" opacity="0.8"/><circle cx="279.10" cy="134.92" r="0.82" fill="#8a8a8a"/><circle cx="276.87" cy="98.08" r="0.96" fill="#8a8a8a"/><circle cx="282.37" cy="100.66" r="1.28" fill="#8a8a8a"/><circle cx="261.79" cy="99.82" r="0.93" fill="#8a8a8a"/><circle cx="272.49" cy="97.33" r="1.48" fill="#8a8a8a"/><circle cx="278.52" cy="98.64" r="1.29" fill="#8a8a8a"/></g>
<line x1="283.60" y1="93.10" x2="292.70" y2="93.10" stroke="#aaaaaa" stroke-width="1.1"/>
<circle cx="293.60" cy="92.10" r="0.50" fill="#aaa" />
<ellipse cx="321.40" cy="65.80" rx="20.55" ry="21.05" fill="url(#pg)" stroke="#969696" stroke-width="1.0"/>
<ellipse cx="321.40" cy="65.80" rx="19.45" ry="19.95" fill="none" stroke="#cbcbcb" stroke-width="1.3"/>
<g filter="url(#bl)"><circle cx="338.23" cy="65.10" r="0.59" fill="rgb(154,154,154)"/><circle cx="327.20" cy="55.64" r="0.49" fill="rgb(152,152,152)"/><circle cx="325.34" cy="48.61" r="0.48" fill="rgb(183,183,183)"/><circle cx="331.00" cy="64.60" r="0.56" fill="rgb(165,165,165)"/><circle cx="325.70" cy="70.96" r="0.37" fill="rgb(164,164,164)"/></g>
<line x1="333.60" y1="42.00" x2="342.70" y2="42.00" stroke="#aaaaaa" stroke-width="1.1"/>
<circle cx="343.60" cy="41.00" r="0.50" fill="#aaa" />
<ellipse cx="321.40" cy="116.90" rx="20.55" ry="21.05" fill="url(#pg)" stroke="#8a8a8a" stroke-width="1.0"/>
<ellipse cx="321.40" cy="116.90" rx="19.45" ry="19.95" fill="none" stroke="#c0c0c0" stroke-width="1.3"/>
<g filter="url(#bl)"><circle cx="321.87" cy="117.03" r="0.86" fill="rgb(116,116,116)"/><circle cx="337.79" cy="117.06" r="0.55" fill="rgb(124,124,124)"/><circle cx="335.27" cy="118.95" r="0.50" fill="rgb(137,137,137)"/><circle cx="319.59" cy="119.04" r="0.52" fill="rgb(77,77,77)"/><circle cx="306.96" cy="122.21" r="0.56" fill="rgb(105,105,105)"/><circle cx="336.53" cy="109.89" r="0.65" fill="rgb(71,71,71)"/><circle cx="326.59" cy="99.13" r="0.78" fill="rgb(121,121,121)"/><circle cx="317.85" cy="112.71" r="0.71" fill="rgb(111,111,111)"/><circle cx="324.54" cy="116.15" r="0.53" fill="rgb(76,76,76)"/><circle cx="339.93" cy="114.17" r="0.95" fill="rgb(129,129,129)"/><circle cx="306.96" cy="126.58" r="0.95" fill="rgb(71,71,71)"/><circle cx="306.38" cy="126.47" r="0.85" fill="rgb(100,100,100)"/><circle cx="308.05" cy="123.91" r="0.99" fill="rgb(95,95,95)"/><circle cx="328.99" cy="129.46" r="0.45" fill="rgb(106,106,106)"/><circle cx="316.81" cy="120.02" r="0.80" fill="rgb(84,84,84)"/><circle cx="312.49" cy="122.96" r="0.82" fill="rgb(84,84,84)"/><circle cx="316.90" cy="99.57" r="0.79" fill="rgb(137,137,137)"/><circle cx="324.08" cy="130.55" r="0.75" fill="rgb(92,92,92)"/><circle cx="323.82" cy="123.91" r="0.55" fill="rgb(103,103,103)"/><circle cx="319.76" cy="109.16" r="0.39" fill="rgb(193,193,193)"/><circle cx="325.67" cy="105.33" r="0.42" fill="rgb(176,176,176)"/><circle cx="315.75" cy="115.20" r="0.57" fill="rgb(188,188,188)"/><circle cx="322.31" cy="105.40" r="0.41" fill="rgb(152,152,152)"/><circle cx="309.10" cy="118.24" r="0.61" fill="rgb(151,151,151)"/><circle cx="329.52" cy="124.79" r="0.49" fill="rgb(162,162,162)"/><circle cx="337.32" cy="117.48" r="0.57" fill="rgb(176,176,176)"/><circle cx="312.16" cy="107.30" r="0.56" fill="rgb(198,198,198)"/><circle cx="308.42" cy="126.20" r="0.34" fill="rgb(197,197,197)"/><circle cx="334.12" cy="108.21" r="0.56" fill="rgb(189,189,189)"/><circle cx="327.37" cy="125.13" r="0.62" fill="rgb(190,190,190)"/><circle cx="319.34" cy="119.39" r="0.58" fill="rgb(179,179,179)"/><circle cx="319.14" cy="133.55" r="0.65" fill="rgb(172,172,172)"/><circle cx="310.15" cy="117.89" r="0.63" fill="rgb(194,194,194)"/><circle cx="305.80" cy="114.75" r="0.56" fill="rgb(159,159,159)"/><circle cx="311.92" cy="111.73" r="0.37" fill="rgb(178,178,178)"/><circle cx="335.14" cy="111.92" r="0.60" fill="rgb(191,191,191)"/><circle cx="324.97" cy="126.75" r="0.50" fill="rgb(183,183,183)"/><circle cx="319.30" cy="105.98" r="0.43" fill="rgb(179,179,179)"/><circle cx="331.98" cy="116.46" r="0.33" fill="rgb(183,183,183)"/><circle cx="311.28" cy="123.90" r="0.64" fill="rgb(175,175,175)"/><circle cx="332.90" cy="117.59" r="0.60" fill="rgb(190,190,190)"/><circle cx="315.61" cy="110.78" r="0.63" fill="rgb(160,160,160)"/><circle cx="326.28" cy="103.80" r="0.63" fill="rgb(186,186,186)"/><circle cx="315.47" cy="111.95" r="0.43" fill="rgb(176,176,176)"/><circle cx="331.72" cy="103.72" r="0.36" fill="rgb(195,195,195)"/><circle cx="324.29" cy="123.95" r="0.53" fill="rgb(169,169,169)"/><circle cx="315.94" cy="123.98" r="0.44" fill="rgb(174,174,174)"/><circle cx="305.84" cy="121.02" r="0.57" fill="rgb(187,187,187)"/><circle cx="336.96" cy="122.41" r="0.50" fill="rgb(170,170,170)"/><circle cx="311.11" cy="104.89" r="0.37" fill="rgb(153,153,153)"/><circle cx="336.28" cy="119.16" r="0.52" fill="rgb(167,167,167)"/><circle cx="321.43" cy="99.35" r="0.44" fill="rgb(171,171,171)"/><circle cx="333.92" cy="126.90" r="0.37" fill="rgb(173,173,173)"/><path d="M301.30,118.90 A20.10,20.10 0 0 0 341.50,118.90" fill="none" stroke="#9a9a9a" stroke-width="1.4" opacity="0.8"/><circle cx="315.92" cy="98.08" r="1.02" fill="#8a8a8a"/><circle cx="333.14" cy="101.21" r="1.05" fill="#8a8a8a"/><circle cx="336.45" cy="104.34" r="1.14" fill="#8a8a8a"/><circle cx="309.19" cy="101.56" r="1.01" fill="#8a8a8a"/><circle cx="318.21" cy="97.56" r="1.36" fill="#8a8a8a"/><circle cx="309.79" cy="132.69" r="0.90" fill="#8a8a8a"/></g>
<line x1="333.60" y1="93.10" x2="342.70" y2="93.10" stroke="#aaaaaa" stroke-width="1.1"/>
<circle cx="343.60" cy="92.10" r="0.50" fill="#aaa" />
<ellipse cx="371.30" cy="65.80" rx="20.55" ry="21.05" fill="url(#pg)" stroke="#969696" stroke-width="1.0"/>
<ellipse cx="371.30" cy="65.80" rx="19.45" ry="19.95" fill="none" stroke="#cbcbcb" stroke-width="1.3"/>
<g filter="url(#bl)"><circle cx="356.53" cy="73.37" r="0.51" fill="rgb(189,189,189)"/><circle cx="363.93" cy="63.43" r="0.37" fill="rgb(150,150,150)"/><circle cx="378.46" cy="54.93" r="0.52" fill="rgb(171,171,171)"/><circle cx="364.04" cy="62.56" r="0.49" fill="rgb(177,177,177)"/><circle cx="383.91" cy="69.50" r="0.36" fill="rgb(176,176,176)"/></g>
<line x1="383.50" y1="42.00" x2="392.60" y2="42.00" stroke="#aaaaaa" stroke-width="1.1"/>
<circle cx="393.50" cy="41.00" r="0.50" fill="#aaa" />
<ellipse cx="371.30" cy="116.90" rx="20.55" ry="21.05" fill="url(#pg)" stroke="#8a8a8a" stroke-width="1.0"/>
<ellipse cx="371.30" cy="116.90" rx="19.45" ry="19.95" fill="none" stroke="#c0c0c0" stroke-width="1.3"/>
<g filter="url(#bl)"><circle cx="387.22" cy="107.19" r="0.52" fill="rgb(136,136,136)"/><circle cx="358.55" cy="115.76" r="0.50" fill="rgb(75,75,75)"/><circle cx="367.27" cy="133.64" r="0.94" fill="rgb(118,118,118)"/><circle cx="380.54" cy="104.77" r="0.75" fill="rgb(89,89,89)"/><circle cx="387.56" cy="110.78" r="0.56" fill="rgb(131,131,131)"/><circle cx="368.75" cy="131.92" r="0.76" fill="rgb(86,86,86)"/><circle cx="361.65" cy="128.57" r="0.50" fill="rgb(123,123,123)"/><circle cx="365.55" cy="120.00" r="0.46" fill="rgb(111,111,111)"/><circle cx="375.77" cy="102.31" r="0.95" fill="rgb(93,93,93)"/><circle cx="358.04" cy="125.13" r="0.82" fill="rgb(70,70,70)"/><circle cx="382.41" cy="104.08" r="0.62" fill="rgb(135,135,135)"/><circle cx="358.71" cy="130.21" r="0.87" fill="rgb(122,122,122)"/><circle cx="370.41" cy="102.80" r="0.61" fill="rgb(131,131,131)"/><circle cx="371.98" cy="102.14" r="0.93" fill="rgb(132,132,132)"/><circle cx="371.05" cy="113.60" r="0.65" fill="rgb(91,91,91)"/><circle cx="357.22" cy="105.06" r="0.71" fill="rgb(100,100,100)"/><circle cx="369.94" cy="124.21" r="0.82" fill="rgb(125,125,125)"/><circle cx="377.76" cy="105.02" r="0.50" fill="rgb(98,98,98)"/><circle cx="376.39" cy="127.93" r="0.60" fill="rgb(132,132,132)"/><circle cx="386.68" cy="119.62" r="0.70" fill="rgb(71,71,71)"/><circle cx="374.84" cy="100.16" r="0.91" fill="rgb(78,78,78)"/><circle cx="368.52" cy="134.04" r="0.85" fill="rgb(118,118,118)"/><circle cx="364.61" cy="107.86" r="0.83" fill="rgb(126,126,126)"/><circle cx="388.60" cy="123.84" r="0.53" fill="rgb(165,165,165)"/><circle cx="377.25" cy="109.38" r="0.55" fill="rgb(154,154,154)"/><circle cx="357.95" cy="130.22" r="0.63" fill="rgb(185,185,185)"/><circle cx="358.48" cy="118.06" r="0.64" fill="rgb(196,196,196)"/><circle cx="369.35" cy="131.53" r="0.50" fill="rgb(186,186,186)"/><circle cx="359.04" cy="117.07" r="0.39" fill="rgb(166,166,166)"/><circle cx="370.32" cy="124.38" r="0.57" fill="rgb(184,184,184)"/><circle cx="378.46" cy="121.15" r="0.50" fill="rgb(192,192,192)"/><circle cx="378.24" cy="100.06" r="0.40" fill="rgb(173,173,173)"/><circle cx="386.88" cy="123.52" r="0.34" fill="rgb(163,163,163)"/><circle cx="378.55" cy="120.37" r="0.31" fill="rgb(168,168,168)"/><circle cx="372.63" cy="133.50" r="0.41" fill="rgb(200,200,200)"/><circle cx="374.71" cy="99.86" r="0.54" fill="rgb(181,181,181)"/><circle cx="361.56" cy="111.92" r="0.55" fill="rgb(181,181,181)"/><circle cx="378.53" cy="102.39" r="0.33" fill="rgb(155,155,155)"/><circle cx="364.00" cy="102.61" r="0.49" fill="rgb(199,199,199)"/><circle cx="368.97" cy="135.24" r="0.57" fill="rgb(198,198,198)"/><circle cx="370.24" cy="132.12" r="0.35" fill="rgb(168,168,168)"/><circle cx="362.84" cy="119.77" r="0.42" fill="rgb(150,150,150)"/><circle cx="383.17" cy="102.67" r="0.32" fill="rgb(185,185,185)"/><circle cx="374.39" cy="111.23" r="0.39" fill="rgb(151,151,151)"/><circle cx="363.30" cy="132.85" r="0.49" fill="rgb(164,164,164)"/><circle cx="372.48" cy="103.89" r="0.53" fill="rgb(194,194,194)"/><circle cx="379.99" cy="109.53" r="0.32" fill="rgb(154,154,154)"/><circle cx="372.68" cy="114.41" r="0.46" fill="rgb(177,177,177)"/><circle cx="372.64" cy="109.51" r="0.36" fill="rgb(156,156,156)"/><circle cx="372.20" cy="102.56" r="0.56" fill="rgb(171,171,171)"/><circle cx="377.20" cy="133.17" r="0.48" fill="rgb(197,197,197)"/><circle cx="378.53" cy="113.04" r="0.47" fill="rgb(174,174,174)"/><circle cx="362.69" cy="122.51" r="0.46" fill="rgb(189,189,189)"/><circle cx="363.04" cy="111.58" r="0.46" fill="rgb(152,152,152)"/><circle cx="374.39" cy="113.07" r="0.59" fill="rgb(190,190,190)"/><circle cx="385.73" cy="105.95" r="0.56" fill="rgb(167,167,167)"/><circle cx="355.86" cy="119.08" r="0.46" fill="rgb(165,165,165)"/><circle cx="358.61" cy="129.47" r="0.53" fill="rgb(190,190,190)"/><circle cx="380.77" cy="111.24" r="0.41" fill="rgb(176,176,176)"/><circle cx="375.35" cy="126.64" r="0.61" fill="rgb(180,180,180)"/><circle cx="373.97" cy="115.81" r="0.52" fill="rgb(182,182,182)"/><circle cx="379.87" cy="122.02" r="0.42" fill="rgb(194,194,194)"/><circle cx="365.25" cy="114.55" r="0.41" fill="rgb(165,165,165)"/><circle cx="366.83" cy="106.75" r="0.54" fill="rgb(178,178,178)"/><path d="M351.20,118.90 A20.10,20.10 0 0 0 391.40,118.90" fill="none" stroke="#9a9a9a" stroke-width="1.4" opacity="0.8"/><circle cx="374.61" cy="136.22" r="1.49" fill="#8a8a8a"/><circle cx="354.74" cy="127.38" r="0.88" fill="#8a8a8a"/><circle cx="389.49" cy="124.20" r="1.21" fill="#8a8a8a"/><circle cx="353.49" cy="125.08" r="0.93" fill="#8a8a8a"/><circle cx="361.83" cy="134.06" r="0.87" fill="#8a8a8a"/><circle cx="373.76" cy="97.46" r="0.81" fill="#8a8a8a"/></g>
<line x1="383.50" y1="93.10" x2="392.60" y2="93.10" stroke="#aaaaaa" stroke-width="1.1"/>
<circle cx="393.50" cy="92.10" r="0.50" fill="#aaa" />
<ellipse cx="431.00" cy="65.80" rx="20.55" ry="21.05" fill="url(#pg2)" stroke="#969696" stroke-width="1.0"/>
<ellipse cx="431.00" cy="65.80" rx="19.45" ry="19.95" fill="none" stroke="#cbcbcb" stroke-width="1.3"/>
<g filter="url(#bl)"><circle cx="431.53" cy="55.07" r="0.47" fill="rgb(185,185,185)"/><circle cx="420.60" cy="74.22" r="0.50" fill="rgb(188,188,188)"/><circle cx="422.38" cy="50.56" r="0.70" fill="rgb(176,176,176)"/><circle cx="424.65" cy="49.87" r="0.69" fill="rgb(191,191,191)"/><circle cx="418.99" cy="57.92" r="0.61" fill="rgb(190,190,190)"/></g>
<line x1="443.20" y1="42.00" x2="452.30" y2="42.00" stroke="#aaaaaa" stroke-width="1.1"/>
<circle cx="453.20" cy="41.00" r="0.50" fill="#aaa" />
<ellipse cx="431.00" cy="116.90" rx="20.55" ry="21.05" fill="url(#pg2)" stroke="#8a8a8a" stroke-width="1.0"/>
<ellipse cx="431.00" cy="116.90" rx="19.45" ry="19.95" fill="none" stroke="#c0c0c0" stroke-width="1.3"/>
<g filter="url(#bl)"><circle cx="443.75" cy="119.78" r="0.37" fill="rgb(188,188,188)"/><circle cx="418.49" cy="116.66" r="0.60" fill="rgb(175,175,175)"/><circle cx="429.32" cy="107.55" r="0.52" fill="rgb(191,191,191)"/><circle cx="438.37" cy="105.65" r="0.53" fill="rgb(205,205,205)"/><circle cx="437.28" cy="104.17" r="0.41" fill="rgb(208,208,208)"/><circle cx="428.03" cy="115.18" r="0.45" fill="rgb(203,203,203)"/><circle cx="436.14" cy="121.65" r="0.65" fill="rgb(205,205,205)"/><circle cx="418.96" cy="104.80" r="0.55" fill="rgb(204,204,204)"/><circle cx="435.51" cy="131.46" r="0.54" fill="rgb(175,175,175)"/><circle cx="447.26" cy="110.36" r="0.47" fill="rgb(178,178,178)"/><circle cx="434.98" cy="118.67" r="0.47" fill="rgb(178,178,178)"/><circle cx="419.19" cy="108.92" r="0.38" fill="rgb(206,206,206)"/><circle cx="420.46" cy="117.51" r="0.43" fill="rgb(185,185,185)"/><circle cx="425.54" cy="121.57" r="0.31" fill="rgb(186,186,186)"/><circle cx="419.43" cy="118.51" r="0.52" fill="rgb(207,207,207)"/><circle cx="448.76" cy="119.60" r="0.62" fill="rgb(195,195,195)"/><circle cx="444.16" cy="119.32" r="0.47" fill="rgb(207,207,207)"/><circle cx="437.38" cy="121.66" r="0.31" fill="rgb(194,194,194)"/><circle cx="426.03" cy="126.11" r="0.52" fill="rgb(176,176,176)"/><circle cx="436.33" cy="127.11" r="0.55" fill="rgb(198,198,198)"/><circle cx="434.07" cy="117.86" r="0.58" fill="rgb(190,190,190)"/><circle cx="435.42" cy="125.68" r="0.57" fill="rgb(183,183,183)"/><circle cx="431.13" cy="123.82" r="0.46" fill="rgb(178,178,178)"/><circle cx="427.18" cy="129.51" r="0.61" fill="rgb(176,176,176)"/><circle cx="418.37" cy="127.44" r="0.57" fill="rgb(188,188,188)"/><circle cx="435.93" cy="108.01" r="0.50" fill="rgb(209,209,209)"/><circle cx="425.83" cy="109.63" r="0.54" fill="rgb(190,190,190)"/><circle cx="428.17" cy="105.65" r="0.49" fill="rgb(198,198,198)"/><circle cx="412.46" cy="114.90" r="0.57" fill="rgb(189,189,189)"/><circle cx="449.47" cy="113.20" r="0.34" fill="rgb(177,177,177)"/><circle cx="438.18" cy="109.28" r="0.58" fill="rgb(194,194,194)"/><circle cx="443.88" cy="106.18" r="0.34" fill="rgb(187,187,187)"/><circle cx="424.35" cy="120.41" r="0.59" fill="rgb(207,207,207)"/><circle cx="424.33" cy="110.21" r="0.58" fill="rgb(206,206,206)"/><circle cx="428.29" cy="113.57" r="0.44" fill="rgb(195,195,195)"/><circle cx="414.74" cy="120.56" r="0.51" fill="rgb(195,195,195)"/><circle cx="439.68" cy="127.96" r="0.47" fill="rgb(195,195,195)"/><circle cx="435.05" cy="117.44" r="0.36" fill="rgb(208,208,208)"/><circle cx="429.83" cy="126.14" r="0.38" fill="rgb(194,194,194)"/><circle cx="435.47" cy="109.67" r="0.61" fill="rgb(192,192,192)"/><circle cx="421.21" cy="102.99" r="0.47" fill="rgb(190,190,190)"/><circle cx="417.04" cy="128.17" r="0.58" fill="rgb(189,189,189)"/><circle cx="421.90" cy="129.28" r="0.34" fill="rgb(194,194,194)"/><circle cx="414.36" cy="108.05" r="0.46" fill="rgb(192,192,192)"/><circle cx="442.52" cy="105.18" r="0.53" fill="rgb(207,207,207)"/><circle cx="438.82" cy="107.09" r="0.38" fill="rgb(178,178,178)"/><circle cx="419.97" cy="126.79" r="0.34" fill="rgb(175,175,175)"/><circle cx="431.68" cy="108.36" r="0.57" fill="rgb(177,177,177)"/><circle cx="412.83" cy="115.60" r="0.62" fill="rgb(190,190,190)"/><circle cx="445.80" cy="112.87" r="0.51" fill="rgb(200,200,200)"/></g>
<line x1="443.20" y1="93.10" x2="452.30" y2="93.10" stroke="#aaaaaa" stroke-width="1.1"/>
<circle cx="453.20" cy="92.10" r="0.50" fill="#aaa" />
<ellipse cx="481.00" cy="65.80" rx="20.50" ry="21.00" fill="#a2a2a2" stroke="#7a7a7a" stroke-width="1.1"/>
<g filter="url(#bl2)"><circle cx="469.30" cy="70.43" r="0.79" fill="rgb(117,117,117)" opacity="0.75"/><circle cx="477.47" cy="82.06" r="1.16" fill="rgb(102,102,102)" opacity="0.75"/><circle cx="462.63" cy="60.96" r="1.39" fill="rgb(97,97,97)" opacity="0.75"/><circle cx="490.75" cy="67.19" r="0.94" fill="rgb(113,113,113)" opacity="0.75"/><circle cx="479.21" cy="67.19" r="1.15" fill="rgb(115,115,115)" opacity="0.75"/><circle cx="480.96" cy="70.92" r="1.12" fill="rgb(94,94,94)" opacity="0.75"/><circle cx="486.17" cy="60.46" r="1.28" fill="rgb(98,98,98)" opacity="0.75"/><circle cx="468.05" cy="73.20" r="1.07" fill="rgb(90,90,90)" opacity="0.75"/><circle cx="474.54" cy="69.84" r="1.30" fill="rgb(122,122,122)" opacity="0.75"/><circle cx="495.51" cy="76.98" r="0.65" fill="rgb(113,113,113)" opacity="0.75"/><circle cx="479.71" cy="75.17" r="1.25" fill="rgb(121,121,121)" opacity="0.75"/><circle cx="479.72" cy="58.56" r="1.39" fill="rgb(131,131,131)" opacity="0.75"/><circle cx="478.41" cy="66.17" r="1.19" fill="rgb(102,102,102)" opacity="0.75"/><circle cx="495.91" cy="64.51" r="1.22" fill="rgb(137,137,137)" opacity="0.75"/><circle cx="487.69" cy="61.78" r="1.39" fill="rgb(100,100,100)" opacity="0.75"/><circle cx="484.57" cy="55.33" r="0.87" fill="rgb(122,122,122)" opacity="0.75"/><circle cx="498.07" cy="67.65" r="0.89" fill="rgb(137,137,137)" opacity="0.75"/><circle cx="480.78" cy="67.36" r="0.98" fill="rgb(131,131,131)" opacity="0.75"/><circle cx="470.00" cy="60.96" r="1.33" fill="rgb(90,90,90)" opacity="0.75"/><circle cx="471.65" cy="61.09" r="0.79" fill="rgb(128,128,128)" opacity="0.75"/><circle cx="493.33" cy="76.93" r="0.88" fill="rgb(95,95,95)" opacity="0.75"/><circle cx="491.43" cy="66.64" r="0.86" fill="rgb(94,94,94)" opacity="0.75"/><circle cx="476.14" cy="57.86" r="1.34" fill="rgb(103,103,103)" opacity="0.75"/><circle cx="478.10" cy="85.35" r="0.95" fill="rgb(106,106,106)" opacity="0.75"/><circle cx="497.55" cy="56.47" r="0.68" fill="rgb(99,99,99)" opacity="0.75"/><circle cx="477.24" cy="68.90" r="1.36" fill="rgb(140,140,140)" opacity="0.75"/><circle cx="476.71" cy="69.28" r="0.96" fill="rgb(109,109,109)" opacity="0.75"/><circle cx="489.61" cy="48.49" r="0.57" fill="rgb(107,107,107)" opacity="0.75"/><circle cx="480.15" cy="48.51" r="1.04" fill="rgb(116,116,116)" opacity="0.75"/><circle cx="490.71" cy="69.19" r="1.01" fill="rgb(90,90,90)" opacity="0.75"/><circle cx="490.59" cy="56.42" r="1.19" fill="rgb(111,111,111)" opacity="0.75"/><circle cx="471.19" cy="52.65" r="1.27" fill="rgb(137,137,137)" opacity="0.75"/><circle cx="479.52" cy="55.28" r="1.23" fill="rgb(110,110,110)" opacity="0.75"/><circle cx="492.14" cy="50.57" r="0.74" fill="rgb(128,128,128)" opacity="0.75"/><circle cx="478.40" cy="57.28" r="0.77" fill="rgb(140,140,140)" opacity="0.75"/><circle cx="478.72" cy="84.58" r="0.80" fill="rgb(98,98,98)" opacity="0.75"/><circle cx="473.66" cy="53.43" r="0.91" fill="rgb(134,134,134)" opacity="0.75"/><circle cx="498.25" cy="59.76" r="1.18" fill="rgb(104,104,104)" opacity="0.75"/><circle cx="466.69" cy="64.15" r="0.93" fill="rgb(113,113,113)" opacity="0.75"/><circle cx="482.28" cy="57.34" r="1.31" fill="rgb(118,118,118)" opacity="0.75"/><circle cx="493.97" cy="79.62" r="1.01" fill="rgb(140,140,140)" opacity="0.75"/><circle cx="490.30" cy="66.53" r="1.25" fill="rgb(117,117,117)" opacity="0.75"/><circle cx="462.28" cy="60.59" r="1.25" fill="rgb(116,116,116)" opacity="0.75"/><circle cx="468.60" cy="78.58" r="0.52" fill="rgb(140,140,140)" opacity="0.75"/><circle cx="478.29" cy="82.82" r="1.39" fill="rgb(130,130,130)" opacity="0.75"/><circle cx="479.15" cy="83.08" r="1.02" fill="rgb(99,99,99)" opacity="0.75"/><circle cx="489.19" cy="67.18" r="0.91" fill="rgb(131,131,131)" opacity="0.75"/><circle cx="476.42" cy="48.39" r="1.26" fill="rgb(94,94,94)" opacity="0.75"/><circle cx="490.46" cy="60.07" r="0.86" fill="rgb(128,128,128)" opacity="0.75"/><circle cx="469.73" cy="74.66" r="0.52" fill="rgb(90,90,90)" opacity="0.75"/><circle cx="483.59" cy="79.86" r="1.03" fill="rgb(136,136,136)" opacity="0.75"/><circle cx="486.18" cy="75.77" r="0.96" fill="rgb(135,135,135)" opacity="0.75"/><circle cx="478.59" cy="59.24" r="1.21" fill="rgb(117,117,117)" opacity="0.75"/><circle cx="476.94" cy="73.09" r="1.34" fill="rgb(99,99,99)" opacity="0.75"/><circle cx="478.44" cy="56.65" r="0.82" fill="rgb(138,138,138)" opacity="0.75"/><circle cx="478.89" cy="61.55" r="0.91" fill="rgb(111,111,111)" opacity="0.75"/><circle cx="496.90" cy="65.97" r="1.01" fill="rgb(104,104,104)" opacity="0.75"/><circle cx="480.30" cy="52.61" r="0.88" fill="rgb(115,115,115)" opacity="0.75"/><circle cx="475.73" cy="55.67" r="0.66" fill="rgb(101,101,101)" opacity="0.75"/><circle cx="468.18" cy="67.96" r="0.93" fill="rgb(133,133,133)" opacity="0.75"/><circle cx="483.15" cy="80.05" r="0.61" fill="rgb(126,126,126)" opacity="0.75"/><circle cx="484.87" cy="68.14" r="0.95" fill="rgb(126,126,126)" opacity="0.75"/><circle cx="467.48" cy="59.38" r="1.35" fill="rgb(139,139,139)" opacity="0.75"/><circle cx="493.47" cy="77.62" r="0.62" fill="rgb(134,134,134)" opacity="0.75"/><circle cx="463.70" cy="57.61" r="1.00" fill="rgb(117,117,117)" opacity="0.75"/><circle cx="478.20" cy="54.90" r="1.09" fill="rgb(118,118,118)" opacity="0.75"/><circle cx="477.24" cy="74.46" r="0.86" fill="rgb(102,102,102)" opacity="0.75"/><circle cx="475.87" cy="66.25" r="1.29" fill="rgb(134,134,134)" opacity="0.75"/><circle cx="498.02" cy="64.24" r="1.25" fill="rgb(117,117,117)" opacity="0.75"/><circle cx="488.90" cy="79.96" r="0.89" fill="rgb(100,100,100)" opacity="0.75"/><circle cx="488.53" cy="61.82" r="0.82" fill="rgb(109,109,109)" opacity="0.75"/><circle cx="489.74" cy="80.69" r="0.89" fill="rgb(130,130,130)" opacity="0.75"/><circle cx="484.55" cy="52.05" r="1.09" fill="rgb(113,113,113)" opacity="0.75"/><circle cx="476.52" cy="49.56" r="0.66" fill="rgb(139,139,139)" opacity="0.75"/><circle cx="475.41" cy="59.12" r="0.79" fill="rgb(117,117,117)" opacity="0.75"/><circle cx="481.27" cy="80.72" r="0.71" fill="rgb(131,131,131)" opacity="0.75"/><circle cx="463.04" cy="65.82" r="1.31" fill="rgb(127,127,127)" opacity="0.75"/><circle cx="481.64" cy="83.74" r="1.09" fill="rgb(129,129,129)" opacity="0.75"/><circle cx="462.13" cy="60.66" r="1.18" fill="rgb(136,136,136)" opacity="0.75"/><circle cx="482.93" cy="64.99" r="0.60" fill="rgb(111,111,111)" opacity="0.75"/><circle cx="470.85" cy="61.79" r="1.25" fill="rgb(90,90,90)" opacity="0.75"/><circle cx="467.14" cy="56.88" r="1.39" fill="rgb(136,136,136)" opacity="0.75"/><circle cx="479.76" cy="63.09" r="0.88" fill="rgb(119,119,119)" opacity="0.75"/><circle cx="493.60" cy="78.17" r="0.59" fill="rgb(112,112,112)" opacity="0.75"/><circle cx="479.48" cy="78.86" r="1.39" fill="rgb(137,137,137)" opacity="0.75"/><circle cx="474.78" cy="63.13" r="1.30" fill="rgb(126,126,126)" opacity="0.75"/><circle cx="496.80" cy="60.68" r="1.12" fill="rgb(102,102,102)" opacity="0.75"/><circle cx="469.18" cy="62.30" r="1.10" fill="rgb(117,117,117)" opacity="0.75"/><circle cx="477.53" cy="71.41" r="0.64" fill="rgb(118,118,118)" opacity="0.75"/><circle cx="467.37" cy="73.20" r="0.82" fill="rgb(125,125,125)" opacity="0.75"/><circle cx="479.85" cy="50.11" r="0.85" fill="rgb(115,115,115)" opacity="0.75"/><circle cx="485.72" cy="47.72" r="0.98" fill="rgb(94,94,94)" opacity="0.75"/><circle cx="494.17" cy="66.89" r="1.33" fill="rgb(120,120,120)" opacity="0.75"/><circle cx="470.42" cy="82.05" r="1.17" fill="rgb(116,116,116)" opacity="0.75"/><circle cx="486.89" cy="69.00" r="0.61" fill="rgb(130,130,130)" opacity="0.75"/><circle cx="474.21" cy="69.52" r="0.80" fill="rgb(116,116,116)" opacity="0.75"/><circle cx="479.39" cy="48.93" r="1.39" fill="rgb(103,103,103)" opacity="0.75"/><circle cx="465.79" cy="53.33" r="0.80" fill="rgb(98,98,98)" opacity="0.75"/><circle cx="476.25" cy="47.85" r="1.13" fill="rgb(103,103,103)" opacity="0.75"/><circle cx="496.49" cy="67.73" r="1.02" fill="rgb(126,126,126)" opacity="0.75"/><circle cx="477.76" cy="85.02" r="0.58" fill="rgb(108,108,108)" opacity="0.75"/><circle cx="489.83" cy="67.16" r="0.76" fill="rgb(131,131,131)" opacity="0.75"/><circle cx="472.71" cy="67.44" r="0.70" fill="rgb(108,108,108)" opacity="0.75"/><circle cx="494.78" cy="60.86" r="0.78" fill="rgb(125,125,125)" opacity="0.75"/><circle cx="485.46" cy="51.76" r="1.25" fill="rgb(100,100,100)" opacity="0.75"/><circle cx="490.13" cy="71.41" r="0.79" fill="rgb(127,127,127)" opacity="0.75"/><circle cx="484.04" cy="80.36" r="0.70" fill="rgb(117,117,117)" opacity="0.75"/><circle cx="496.35" cy="63.96" r="1.29" fill="rgb(95,95,95)" opacity="0.75"/><circle cx="498.91" cy="66.30" r="0.62" fill="rgb(137,137,137)" opacity="0.75"/><circle cx="462.17" cy="63.35" r="1.02" fill="rgb(113,113,113)" opacity="0.75"/><circle cx="476.37" cy="79.95" r="1.24" fill="rgb(103,103,103)" opacity="0.75"/><circle cx="484.59" cy="54.58" r="0.57" fill="rgb(98,98,98)" opacity="0.75"/><circle cx="487.31" cy="53.23" r="0.88" fill="rgb(112,112,112)" opacity="0.75"/><circle cx="471.27" cy="69.96" r="0.66" fill="rgb(115,115,115)" opacity="0.75"/><circle cx="477.10" cy="79.19" r="0.92" fill="rgb(140,140,140)" opacity="0.75"/><circle cx="490.04" cy="83.34" r="1.06" fill="rgb(91,91,91)" opacity="0.75"/><circle cx="493.34" cy="61.72" r="0.95" fill="rgb(138,138,138)" opacity="0.75"/><circle cx="467.17" cy="60.45" r="1.15" fill="rgb(93,93,93)" opacity="0.75"/><circle cx="468.79" cy="65.41" r="0.50" fill="rgb(126,126,126)" opacity="0.75"/><circle cx="491.08" cy="76.36" r="0.94" fill="rgb(106,106,106)" opacity="0.75"/><circle cx="463.74" cy="74.38" r="1.24" fill="rgb(91,91,91)" opacity="0.75"/><circle cx="482.67" cy="60.08" r="0.79" fill="rgb(106,106,106)" opacity="0.75"/><circle cx="466.74" cy="73.05" r="0.79" fill="rgb(114,114,114)" opacity="0.75"/><circle cx="483.12" cy="64.92" r="0.54" fill="rgb(137,137,137)" opacity="0.75"/><circle cx="467.09" cy="52.34" r="0.67" fill="rgb(103,103,103)" opacity="0.75"/><circle cx="494.74" cy="73.74" r="1.04" fill="rgb(113,113,113)" opacity="0.75"/><circle cx="481.83" cy="56.34" r="0.71" fill="rgb(114,114,114)" opacity="0.75"/><circle cx="483.09" cy="74.64" r="0.59" fill="rgb(91,91,91)" opacity="0.75"/><circle cx="490.13" cy="57.89" r="0.98" fill="rgb(137,137,137)" opacity="0.75"/><circle cx="483.78" cy="84.94" r="0.76" fill="rgb(100,100,100)" opacity="0.75"/><circle cx="491.26" cy="53.61" r="1.13" fill="rgb(92,92,92)" opacity="0.75"/><circle cx="472.04" cy="64.67" r="0.98" fill="rgb(114,114,114)" opacity="0.75"/><circle cx="487.12" cy="65.38" r="0.69" fill="rgb(114,114,114)" opacity="0.75"/><circle cx="491.99" cy="52.05" r="0.73" fill="rgb(126,126,126)" opacity="0.75"/><circle cx="474.97" cy="73.40" r="1.37" fill="rgb(123,123,123)" opacity="0.75"/><circle cx="470.23" cy="50.70" r="1.34" fill="rgb(98,98,98)" opacity="0.75"/><circle cx="481.04" cy="61.91" r="0.94" fill="rgb(107,107,107)" opacity="0.75"/><circle cx="471.77" cy="64.72" r="0.81" fill="rgb(128,128,128)" opacity="0.75"/><circle cx="474.70" cy="75.07" r="1.33" fill="rgb(135,135,135)" opacity="0.75"/><circle cx="491.95" cy="59.26" r="0.67" fill="rgb(94,94,94)" opacity="0.75"/><circle cx="490.44" cy="53.89" r="1.03" fill="rgb(116,116,116)" opacity="0.75"/><circle cx="481.43" cy="57.82" r="0.54" fill="rgb(98,98,98)" opacity="0.75"/><circle cx="482.41" cy="47.44" r="0.92" fill="rgb(123,123,123)" opacity="0.75"/><circle cx="494.63" cy="63.48" r="0.88" fill="rgb(140,140,140)" opacity="0.75"/><circle cx="489.29" cy="57.66" r="1.37" fill="rgb(121,121,121)" opacity="0.75"/><circle cx="492.35" cy="72.01" r="0.87" fill="rgb(111,111,111)" opacity="0.75"/><circle cx="480.43" cy="57.28" r="0.68" fill="rgb(123,123,123)" opacity="0.75"/><circle cx="476.84" cy="70.74" r="1.19" fill="rgb(130,130,130)" opacity="0.75"/><circle cx="476.64" cy="72.78" r="0.94" fill="rgb(130,130,130)" opacity="0.75"/><circle cx="498.43" cy="73.32" r="1.32" fill="rgb(101,101,101)" opacity="0.75"/><circle cx="479.19" cy="49.75" r="0.54" fill="rgb(95,95,95)" opacity="0.75"/><circle cx="489.46" cy="82.18" r="1.30" fill="rgb(132,132,132)" opacity="0.75"/><circle cx="470.28" cy="76.33" r="0.50" fill="rgb(114,114,114)" opacity="0.75"/><circle cx="481.12" cy="62.39" r="1.08" fill="rgb(117,117,117)" opacity="0.75"/><circle cx="468.69" cy="51.07" r="1.07" fill="rgb(107,107,107)" opacity="0.75"/><circle cx="464.35" cy="71.22" r="1.11" fill="rgb(102,102,102)" opacity="0.75"/><circle cx="475.06" cy="73.88" r="1.32" fill="rgb(124,124,124)" opacity="0.75"/><circle cx="476.45" cy="62.49" r="0.51" fill="rgb(134,134,134)" opacity="0.75"/><circle cx="482.94" cy="66.54" r="1.16" fill="rgb(127,127,127)" opacity="0.75"/><circle cx="483.90" cy="80.40" r="1.16" fill="rgb(138,138,138)" opacity="0.75"/><circle cx="477.88" cy="48.93" r="0.79" fill="rgb(94,94,94)" opacity="0.75"/><circle cx="471.92" cy="68.61" r="1.25" fill="rgb(138,138,138)" opacity="0.75"/><circle cx="486.56" cy="54.92" r="0.84" fill="rgb(139,139,139)" opacity="0.75"/><circle cx="474.65" cy="81.58" r="1.06" fill="rgb(133,133,133)" opacity="0.75"/><circle cx="461.76" cy="68.79" r="1.16" fill="rgb(114,114,114)" opacity="0.75"/><circle cx="482.57" cy="58.46" r="0.98" fill="rgb(131,131,131)" opacity="0.75"/><circle cx="486.68" cy="68.19" r="0.85" fill="rgb(134,134,134)" opacity="0.75"/><circle cx="480.78" cy="51.17" r="0.62" fill="rgb(126,126,126)" opacity="0.75"/><circle cx="481.11" cy="77.04" r="1.10" fill="rgb(111,111,111)" opacity="0.75"/><circle cx="488.53" cy="67.20" r="1.37" fill="rgb(96,96,96)" opacity="0.75"/><circle cx="473.17" cy="82.33" r="0.93" fill="rgb(113,113,113)" opacity="0.75"/><circle cx="487.20" cy="79.42" r="0.66" fill="rgb(100,100,100)" opacity="0.75"/><circle cx="484.58" cy="84.22" r="0.57" fill="rgb(133,133,133)" opacity="0.75"/><circle cx="475.84" cy="51.75" r="1.38" fill="rgb(113,113,113)" opacity="0.75"/><circle cx="487.38" cy="73.22" r="0.75" fill="rgb(128,128,128)" opacity="0.75"/><circle cx="465.77" cy="64.33" r="0.91" fill="rgb(121,121,121)" opacity="0.75"/><circle cx="496.52" cy="70.40" r="0.82" fill="rgb(113,113,113)" opacity="0.75"/><circle cx="485.05" cy="52.03" r="0.60" fill="rgb(122,122,122)" opacity="0.75"/><circle cx="461.71" cy="61.46" r="0.83" fill="rgb(101,101,101)" opacity="0.75"/><circle cx="496.09" cy="67.35" r="0.88" fill="rgb(133,133,133)" opacity="0.75"/><circle cx="482.17" cy="80.90" r="1.25" fill="rgb(128,128,128)" opacity="0.75"/><circle cx="490.82" cy="58.06" r="0.56" fill="rgb(107,107,107)" opacity="0.75"/><circle cx="500.24" cy="66.63" r="0.90" fill="rgb(115,115,115)" opacity="0.75"/><circle cx="474.80" cy="61.37" r="1.08" fill="rgb(111,111,111)" opacity="0.75"/><circle cx="494.66" cy="62.56" r="0.67" fill="rgb(98,98,98)" opacity="0.75"/><circle cx="476.33" cy="82.16" r="1.04" fill="rgb(136,136,136)" opacity="0.75"/><circle cx="470.99" cy="69.70" r="1.32" fill="rgb(94,94,94)" opacity="0.75"/><circle cx="475.50" cy="49.19" r="0.53" fill="rgb(118,118,118)" opacity="0.75"/><circle cx="474.52" cy="53.57" r="1.25" fill="rgb(135,135,135)" opacity="0.75"/><circle cx="471.16" cy="59.20" r="0.63" fill="rgb(99,99,99)" opacity="0.75"/><circle cx="475.93" cy="64.76" r="0.82" fill="rgb(122,122,122)" opacity="0.75"/><circle cx="476.35" cy="65.84" r="0.60" fill="rgb(118,118,118)" opacity="0.75"/><circle cx="497.08" cy="77.21" r="1.05" fill="rgb(119,119,119)" opacity="0.75"/><circle cx="466.05" cy="63.46" r="0.81" fill="rgb(103,103,103)" opacity="0.75"/><circle cx="472.84" cy="47.85" r="1.24" fill="rgb(129,129,129)" opacity="0.75"/><circle cx="467.29" cy="69.17" r="0.52" fill="rgb(131,131,131)" opacity="0.75"/><circle cx="485.70" cy="60.88" r="0.52" fill="rgb(122,122,122)" opacity="0.75"/><circle cx="478.35" cy="73.85" r="0.91" fill="rgb(93,93,93)" opacity="0.75"/><circle cx="477.15" cy="74.23" r="0.51" fill="rgb(122,122,122)" opacity="0.75"/><circle cx="475.18" cy="69.58" r="1.02" fill="rgb(94,94,94)" opacity="0.75"/><circle cx="483.44" cy="78.28" r="1.13" fill="rgb(126,126,126)" opacity="0.75"/><circle cx="483.03" cy="80.95" r="0.87" fill="rgb(134,134,134)" opacity="0.75"/><circle cx="485.80" cy="64.94" r="0.56" fill="rgb(101,101,101)" opacity="0.75"/><circle cx="492.57" cy="79.05" r="0.95" fill="rgb(123,123,123)" opacity="0.75"/><circle cx="474.12" cy="52.37" r="1.02" fill="rgb(133,133,133)" opacity="0.75"/><circle cx="486.15" cy="84.92" r="1.16" fill="rgb(124,124,124)" opacity="0.75"/><circle cx="474.01" cy="83.87" r="1.16" fill="rgb(111,111,111)" opacity="0.75"/><circle cx="480.82" cy="84.54" r="1.14" fill="rgb(100,100,100)" opacity="0.75"/><circle cx="490.87" cy="56.83" r="1.17" fill="rgb(113,113,113)" opacity="0.75"/><circle cx="474.62" cy="78.08" r="1.12" fill="rgb(126,126,126)" opacity="0.75"/><circle cx="475.20" cy="64.89" r="1.03" fill="rgb(91,91,91)" opacity="0.75"/><circle cx="487.24" cy="50.97" r="0.84" fill="rgb(100,100,100)" opacity="0.75"/><circle cx="487.13" cy="71.29" r="0.71" fill="rgb(117,117,117)" opacity="0.75"/><circle cx="492.63" cy="67.31" r="1.19" fill="rgb(131,131,131)" opacity="0.75"/><circle cx="497.33" cy="72.32" r="1.28" fill="rgb(132,132,132)" opacity="0.75"/><circle cx="466.36" cy="75.98" r="1.22" fill="rgb(90,90,90)" opacity="0.75"/><circle cx="490.80" cy="77.17" r="1.24" fill="rgb(93,93,93)" opacity="0.75"/><circle cx="478.21" cy="50.53" r="0.51" fill="rgb(101,101,101)" opacity="0.75"/><circle cx="475.48" cy="56.14" r="0.98" fill="rgb(105,105,105)" opacity="0.75"/><circle cx="494.87" cy="53.45" r="1.24" fill="rgb(119,119,119)" opacity="0.75"/><circle cx="490.81" cy="64.84" r="0.87" fill="rgb(128,128,128)" opacity="0.75"/><circle cx="465.81" cy="68.96" r="0.90" fill="rgb(100,100,100)" opacity="0.75"/><circle cx="468.66" cy="76.37" r="1.02" fill="rgb(139,139,139)" opacity="0.75"/><circle cx="488.53" cy="52.60" r="1.13" fill="rgb(128,128,128)" opacity="0.75"/><circle cx="492.02" cy="79.47" r="1.19" fill="rgb(111,111,111)" opacity="0.75"/><circle cx="489.00" cy="49.43" r="1.02" fill="rgb(119,119,119)" opacity="0.75"/><circle cx="484.82" cy="54.32" r="1.34" fill="rgb(130,130,130)" opacity="0.75"/><circle cx="483.22" cy="58.09" r="0.98" fill="rgb(100,100,100)" opacity="0.75"/><circle cx="475.73" cy="48.99" r="0.73" fill="rgb(128,128,128)" opacity="0.75"/><circle cx="466.43" cy="53.47" r="0.56" fill="rgb(103,103,103)" opacity="0.75"/><circle cx="477.19" cy="71.74" r="1.20" fill="rgb(133,133,133)" opacity="0.75"/><circle cx="462.90" cy="60.64" r="0.77" fill="rgb(133,133,133)" opacity="0.75"/><circle cx="478.07" cy="67.32" r="1.21" fill="rgb(139,139,139)" opacity="0.75"/><circle cx="489.27" cy="76.69" r="0.56" fill="rgb(103,103,103)" opacity="0.75"/><circle cx="470.20" cy="76.44" r="0.59" fill="rgb(136,136,136)" opacity="0.75"/><circle cx="486.69" cy="48.83" r="1.30" fill="rgb(107,107,107)" opacity="0.75"/><circle cx="498.50" cy="59.23" r="1.16" fill="rgb(98,98,98)" opacity="0.75"/><circle cx="484.90" cy="66.74" r="1.15" fill="rgb(124,124,124)" opacity="0.75"/><circle cx="466.72" cy="71.21" r="1.19" fill="rgb(111,111,111)" opacity="0.75"/><circle cx="477.41" cy="70.72" r="0.70" fill="rgb(114,114,114)" opacity="0.75"/><circle cx="498.48" cy="58.72" r="1.09" fill="rgb(124,124,124)" opacity="0.75"/><circle cx="468.23" cy="54.66" r="1.18" fill="rgb(112,112,112)" opacity="0.75"/><circle cx="475.29" cy="57.28" r="1.26" fill="rgb(118,118,118)" opacity="0.75"/><circle cx="489.04" cy="52.35" r="0.68" fill="rgb(130,130,130)" opacity="0.75"/><circle cx="464.68" cy="71.07" r="1.38" fill="rgb(127,127,127)" opacity="0.75"/><circle cx="484.37" cy="83.14" r="0.73" fill="rgb(116,116,116)" opacity="0.75"/><circle cx="499.61" cy="69.52" r="1.00" fill="rgb(100,100,100)" opacity="0.75"/><circle cx="474.23" cy="81.24" r="1.32" fill="rgb(102,102,102)" opacity="0.75"/><circle cx="469.92" cy="76.28" r="0.62" fill="rgb(105,105,105)" opacity="0.75"/><circle cx="477.67" cy="67.40" r="0.91" fill="rgb(129,129,129)" opacity="0.75"/><circle cx="477.98" cy="73.06" r="0.79" fill="rgb(120,120,120)" opacity="0.75"/><circle cx="483.04" cy="62.40" r="0.70" fill="rgb(133,133,133)" opacity="0.75"/><circle cx="474.21" cy="78.17" r="0.76" fill="rgb(122,122,122)" opacity="0.75"/><circle cx="463.73" cy="57.65" r="0.91" fill="rgb(134,134,134)" opacity="0.75"/><circle cx="469.84" cy="63.20" r="0.88" fill="rgb(105,105,105)" opacity="0.75"/><circle cx="467.40" cy="74.49" r="0.89" fill="rgb(114,114,114)" opacity="0.75"/><circle cx="495.56" cy="62.86" r="0.81" fill="rgb(125,125,125)" opacity="0.75"/><circle cx="468.31" cy="64.79" r="0.83" fill="rgb(103,103,103)" opacity="0.75"/><circle cx="465.74" cy="55.31" r="0.65" fill="rgb(113,113,113)" opacity="0.75"/><circle cx="480.76" cy="51.68" r="1.05" fill="rgb(122,122,122)" opacity="0.75"/><circle cx="496.84" cy="74.25" r="1.21" fill="rgb(121,121,121)" opacity="0.75"/><circle cx="475.69" cy="84.21" r="1.23" fill="rgb(98,98,98)" opacity="0.75"/><circle cx="483.98" cy="62.09" r="1.37" fill="rgb(134,134,134)" opacity="0.75"/><circle cx="494.64" cy="78.94" r="0.56" fill="rgb(116,116,116)" opacity="0.75"/><circle cx="486.08" cy="57.37" r="0.64" fill="rgb(127,127,127)" opacity="0.75"/><circle cx="494.75" cy="68.76" r="0.67" fill="rgb(120,120,120)" opacity="0.75"/><circle cx="485.72" cy="65.94" r="0.61" fill="rgb(113,113,113)" opacity="0.75"/><circle cx="462.10" cy="63.61" r="0.96" fill="rgb(91,91,91)" opacity="0.75"/><circle cx="465.67" cy="62.67" r="1.35" fill="rgb(136,136,136)" opacity="0.75"/><circle cx="467.85" cy="60.17" r="1.27" fill="rgb(105,105,105)" opacity="0.75"/><circle cx="474.84" cy="77.95" r="0.89" fill="rgb(123,123,123)" opacity="0.75"/><circle cx="461.85" cy="61.21" r="1.19" fill="rgb(123,123,123)" opacity="0.75"/><circle cx="481.53" cy="74.05" r="1.01" fill="rgb(132,132,132)" opacity="0.75"/><circle cx="470.57" cy="82.08" r="0.66" fill="rgb(101,101,101)" opacity="0.75"/><circle cx="478.67" cy="75.39" r="1.33" fill="rgb(138,138,138)" opacity="0.75"/><circle cx="466.24" cy="68.82" r="1.09" fill="rgb(138,138,138)" opacity="0.75"/><circle cx="477.07" cy="49.92" r="1.09" fill="rgb(119,119,119)" opacity="0.75"/><circle cx="488.51" cy="61.82" r="1.08" fill="rgb(115,115,115)" opacity="0.75"/><circle cx="489.27" cy="57.92" r="1.10" fill="rgb(137,137,137)" opacity="0.75"/><circle cx="489.19" cy="73.91" r="1.18" fill="rgb(131,131,131)" opacity="0.75"/><circle cx="495.31" cy="62.46" r="0.69" fill="rgb(93,93,93)" opacity="0.75"/><circle cx="471.51" cy="59.25" r="0.72" fill="rgb(136,136,136)" opacity="0.75"/><circle cx="498.67" cy="64.63" r="1.24" fill="rgb(122,122,122)" opacity="0.75"/><circle cx="474.54" cy="78.31" r="1.12" fill="rgb(104,104,104)" opacity="0.75"/><circle cx="475.89" cy="55.90" r="0.69" fill="rgb(116,116,116)" opacity="0.75"/><circle cx="469.63" cy="67.54" r="1.16" fill="rgb(93,93,93)" opacity="0.75"/><circle cx="480.53" cy="67.44" r="0.97" fill="rgb(112,112,112)" opacity="0.75"/><circle cx="495.37" cy="72.98" r="0.66" fill="rgb(96,96,96)" opacity="0.75"/><circle cx="475.29" cy="73.93" r="0.78" fill="rgb(108,108,108)" opacity="0.75"/><circle cx="470.24" cy="54.61" r="1.05" fill="rgb(105,105,105)" opacity="0.75"/><circle cx="496.74" cy="66.92" r="0.68" fill="rgb(121,121,121)" opacity="0.75"/><circle cx="468.94" cy="64.30" r="0.90" fill="rgb(91,91,91)" opacity="0.75"/><circle cx="468.88" cy="61.20" r="0.90" fill="rgb(125,125,125)" opacity="0.75"/><circle cx="484.75" cy="55.86" r="1.19" fill="rgb(115,115,115)" opacity="0.75"/><circle cx="490.13" cy="64.21" r="1.14" fill="rgb(100,100,100)" opacity="0.75"/><circle cx="496.61" cy="75.97" r="1.13" fill="rgb(119,119,119)" opacity="0.75"/><circle cx="473.49" cy="53.41" r="0.89" fill="rgb(109,109,109)" opacity="0.75"/><circle cx="462.51" cy="61.72" r="0.97" fill="rgb(90,90,90)" opacity="0.75"/><circle cx="468.89" cy="72.11" r="1.11" fill="rgb(100,100,100)" opacity="0.75"/><circle cx="479.66" cy="73.02" r="1.34" fill="rgb(90,90,90)" opacity="0.75"/><circle cx="463.62" cy="60.57" r="1.13" fill="rgb(137,137,137)" opacity="0.75"/><circle cx="488.19" cy="74.06" r="0.96" fill="rgb(115,115,115)" opacity="0.75"/><circle cx="481.30" cy="82.54" r="1.34" fill="rgb(118,118,118)" opacity="0.75"/><circle cx="481.19" cy="63.86" r="0.61" fill="rgb(114,114,114)" opacity="0.75"/><circle cx="470.00" cy="51.67" r="0.63" fill="rgb(92,92,92)" opacity="0.75"/><circle cx="498.60" cy="70.39" r="1.15" fill="rgb(125,125,125)" opacity="0.75"/><circle cx="477.35" cy="71.34" r="0.93" fill="rgb(124,124,124)" opacity="0.75"/><circle cx="476.42" cy="47.53" r="1.38" fill="rgb(104,104,104)" opacity="0.75"/><circle cx="472.13" cy="68.83" r="1.16" fill="rgb(101,101,101)" opacity="0.75"/><circle cx="469.56" cy="70.65" r="0.57" fill="rgb(133,133,133)" opacity="0.75"/><circle cx="483.76" cy="63.99" r="1.38" fill="rgb(93,93,93)" opacity="0.75"/><circle cx="482.60" cy="64.37" r="0.53" fill="rgb(133,133,133)" opacity="0.75"/><circle cx="484.47" cy="84.32" r="0.82" fill="rgb(106,106,106)" opacity="0.75"/><circle cx="468.96" cy="66.19" r="1.27" fill="rgb(126,126,126)" opacity="0.75"/><circle cx="467.74" cy="56.12" r="0.85" fill="rgb(139,139,139)" opacity="0.75"/><circle cx="472.70" cy="54.36" r="0.51" fill="rgb(112,112,112)" opacity="0.75"/><circle cx="472.75" cy="75.20" r="0.50" fill="rgb(131,131,131)" opacity="0.75"/><circle cx="467.01" cy="59.48" r="0.85" fill="rgb(126,126,126)" opacity="0.75"/><circle cx="479.14" cy="63.04" r="1.02" fill="rgb(97,97,97)" opacity="0.75"/><circle cx="470.42" cy="75.90" r="1.30" fill="rgb(135,135,135)" opacity="0.75"/><circle cx="462.84" cy="61.98" r="1.08" fill="rgb(110,110,110)" opacity="0.75"/><circle cx="469.70" cy="78.60" r="0.75" fill="rgb(91,91,91)" opacity="0.75"/><circle cx="498.33" cy="63.09" r="1.17" fill="rgb(127,127,127)" opacity="0.75"/><circle cx="491.15" cy="68.13" r="0.65" fill="rgb(119,119,119)" opacity="0.75"/><circle cx="493.99" cy="73.55" r="0.75" fill="rgb(124,124,124)" opacity="0.75"/><circle cx="473.16" cy="72.23" r="0.62" fill="rgb(120,120,120)" opacity="0.75"/><circle cx="487.39" cy="69.51" r="1.14" fill="rgb(103,103,103)" opacity="0.75"/><circle cx="480.30" cy="82.50" r="0.92" fill="rgb(102,102,102)" opacity="0.75"/><circle cx="493.92" cy="61.56" r="1.03" fill="rgb(133,133,133)" opacity="0.75"/><circle cx="488.58" cy="73.36" r="0.57" fill="rgb(125,125,125)" opacity="0.75"/><circle cx="491.98" cy="64.60" r="0.91" fill="rgb(138,138,138)" opacity="0.75"/><circle cx="482.90" cy="73.24" r="0.71" fill="rgb(115,115,115)" opacity="0.75"/><circle cx="469.68" cy="63.95" r="1.13" fill="rgb(94,94,94)" opacity="0.75"/><circle cx="472.82" cy="72.46" r="0.81" fill="rgb(124,124,124)" opacity="0.75"/><circle cx="489.05" cy="53.99" r="1.21" fill="rgb(123,123,123)" opacity="0.75"/><circle cx="489.34" cy="60.34" r="0.81" fill="rgb(93,93,93)" opacity="0.75"/><circle cx="469.59" cy="57.19" r="1.16" fill="rgb(133,133,133)" opacity="0.75"/><circle cx="500.30" cy="64.46" r="1.38" fill="rgb(126,126,126)" opacity="0.75"/><circle cx="493.54" cy="70.85" r="0.87" fill="rgb(136,136,136)" opacity="0.75"/><circle cx="490.50" cy="63.81" r="0.77" fill="rgb(101,101,101)" opacity="0.75"/><circle cx="500.17" cy="69.98" r="0.85" fill="rgb(100,100,100)" opacity="0.75"/><circle cx="469.52" cy="57.00" r="0.62" fill="rgb(122,122,122)" opacity="0.75"/><circle cx="465.57" cy="69.61" r="0.76" fill="rgb(113,113,113)" opacity="0.75"/><circle cx="486.86" cy="64.53" r="0.63" fill="rgb(139,139,139)" opacity="0.75"/><circle cx="483.61" cy="65.22" r="0.86" fill="rgb(121,121,121)" opacity="0.75"/><circle cx="479.35" cy="59.44" r="1.26" fill="rgb(93,93,93)" opacity="0.75"/><circle cx="498.27" cy="60.48" r="0.95" fill="rgb(129,129,129)" opacity="0.75"/><circle cx="492.81" cy="50.14" r="0.67" fill="rgb(117,117,117)" opacity="0.75"/><circle cx="491.54" cy="82.15" r="0.96" fill="rgb(138,138,138)" opacity="0.75"/><circle cx="475.32" cy="80.62" r="0.98" fill="rgb(112,112,112)" opacity="0.75"/><circle cx="499.24" cy="66.55" r="0.92" fill="rgb(134,134,134)" opacity="0.75"/><circle cx="476.37" cy="65.73" r="0.66" fill="rgb(128,128,128)" opacity="0.75"/><circle cx="470.08" cy="55.32" r="0.58" fill="rgb(122,122,122)" opacity="0.75"/><circle cx="492.05" cy="62.78" r="1.24" fill="rgb(95,95,95)" opacity="0.75"/><circle cx="470.09" cy="74.30" r="0.83" fill="rgb(116,116,116)" opacity="0.75"/><circle cx="475.94" cy="80.95" r="0.58" fill="rgb(103,103,103)" opacity="0.75"/><circle cx="478.94" cy="58.85" r="1.11" fill="rgb(131,131,131)" opacity="0.75"/><circle cx="469.35" cy="80.57" r="0.72" fill="rgb(110,110,110)" opacity="0.75"/><circle cx="491.41" cy="65.06" r="0.99" fill="rgb(113,113,113)" opacity="0.75"/><circle cx="496.02" cy="60.28" r="1.23" fill="rgb(140,140,140)" opacity="0.75"/><circle cx="484.95" cy="49.31" r="0.76" fill="rgb(123,123,123)" opacity="0.75"/><circle cx="488.98" cy="77.33" r="1.04" fill="rgb(135,135,135)" opacity="0.75"/><circle cx="471.50" cy="74.37" r="1.18" fill="rgb(101,101,101)" opacity="0.75"/><circle cx="495.88" cy="63.59" r="0.58" fill="rgb(104,104,104)" opacity="0.75"/><circle cx="487.82" cy="83.33" r="0.56" fill="rgb(117,117,117)" opacity="0.75"/><circle cx="480.41" cy="51.12" r="1.37" fill="rgb(139,139,139)" opacity="0.75"/><circle cx="474.92" cy="76.74" r="0.81" fill="rgb(103,103,103)" opacity="0.75"/><circle cx="473.68" cy="68.52" r="1.26" fill="rgb(115,115,115)" opacity="0.75"/><circle cx="474.57" cy="74.93" r="0.51" fill="rgb(122,122,122)" opacity="0.75"/><circle cx="493.15" cy="56.99" r="0.73" fill="rgb(97,97,97)" opacity="0.75"/><circle cx="469.74" cy="58.59" r="0.64" fill="rgb(94,94,94)" opacity="0.75"/><circle cx="482.19" cy="46.63" r="0.98" fill="rgb(111,111,111)" opacity="0.75"/><circle cx="466.86" cy="62.38" r="1.03" fill="rgb(108,108,108)" opacity="0.75"/><circle cx="468.42" cy="72.00" r="0.68" fill="rgb(128,128,128)" opacity="0.75"/><circle cx="467.77" cy="55.72" r="0.90" fill="rgb(134,134,134)" opacity="0.75"/><circle cx="464.71" cy="56.31" r="0.84" fill="rgb(128,128,128)" opacity="0.75"/><circle cx="469.84" cy="66.70" r="0.71" fill="rgb(115,115,115)" opacity="0.75"/><circle cx="476.88" cy="81.13" r="0.89" fill="rgb(96,96,96)" opacity="0.75"/><circle cx="482.19" cy="47.16" r="1.32" fill="rgb(119,119,119)" opacity="0.75"/><circle cx="464.47" cy="63.67" r="1.10" fill="rgb(124,124,124)" opacity="0.75"/><circle cx="489.26" cy="76.09" r="0.55" fill="rgb(91,91,91)" opacity="0.75"/><circle cx="479.24" cy="83.24" r="1.40" fill="rgb(90,90,90)" opacity="0.75"/><circle cx="475.77" cy="84.32" r="0.62" fill="rgb(103,103,103)" opacity="0.75"/><circle cx="471.11" cy="74.08" r="0.96" fill="rgb(97,97,97)" opacity="0.75"/><circle cx="476.29" cy="72.29" r="0.87" fill="rgb(131,131,131)" opacity="0.75"/><circle cx="487.86" cy="60.69" r="0.79" fill="rgb(124,124,124)" opacity="0.75"/><circle cx="484.45" cy="82.09" r="0.83" fill="rgb(99,99,99)" opacity="0.75"/><circle cx="481.44" cy="65.56" r="0.66" fill="rgb(138,138,138)" opacity="0.75"/><circle cx="473.01" cy="49.93" r="1.23" fill="rgb(111,111,111)" opacity="0.75"/><circle cx="492.26" cy="69.68" r="0.75" fill="rgb(130,130,130)" opacity="0.75"/><circle cx="486.44" cy="56.67" r="0.79" fill="rgb(92,92,92)" opacity="0.75"/><circle cx="483.85" cy="66.71" r="0.73" fill="rgb(118,118,118)" opacity="0.75"/><circle cx="489.51" cy="71.61" r="1.12" fill="rgb(134,134,134)" opacity="0.75"/><circle cx="495.31" cy="76.26" r="0.70" fill="rgb(117,117,117)" opacity="0.75"/><circle cx="464.56" cy="58.71" r="0.98" fill="rgb(91,91,91)" opacity="0.75"/><circle cx="497.35" cy="71.51" r="1.18" fill="rgb(97,97,97)" opacity="0.75"/><circle cx="490.13" cy="83.27" r="1.31" fill="rgb(110,110,110)" opacity="0.75"/><circle cx="489.94" cy="63.52" r="1.31" fill="rgb(94,94,94)" opacity="0.75"/><circle cx="467.03" cy="63.54" r="0.55" fill="rgb(133,133,133)" opacity="0.75"/><circle cx="470.53" cy="75.45" r="0.95" fill="rgb(107,107,107)" opacity="0.75"/><circle cx="468.57" cy="76.58" r="0.56" fill="rgb(192,192,192)" opacity="0.7"/><circle cx="464.29" cy="57.29" r="0.81" fill="rgb(186,186,186)" opacity="0.7"/><circle cx="468.21" cy="51.33" r="0.50" fill="rgb(193,193,193)" opacity="0.7"/><circle cx="479.48" cy="62.13" r="0.84" fill="rgb(189,189,189)" opacity="0.7"/><circle cx="483.80" cy="50.70" r="0.99" fill="rgb(181,181,181)" opacity="0.7"/><circle cx="471.54" cy="69.62" r="0.87" fill="rgb(189,189,189)" opacity="0.7"/><circle cx="485.47" cy="47.88" r="0.61" fill="rgb(166,166,166)" opacity="0.7"/><circle cx="463.08" cy="61.49" r="0.63" fill="rgb(190,190,190)" opacity="0.7"/><circle cx="498.78" cy="68.20" r="0.91" fill="rgb(173,173,173)" opacity="0.7"/><circle cx="492.64" cy="59.68" r="0.89" fill="rgb(173,173,173)" opacity="0.7"/><circle cx="490.64" cy="71.06" r="0.41" fill="rgb(190,190,190)" opacity="0.7"/><circle cx="484.81" cy="71.03" r="0.61" fill="rgb(167,167,167)" opacity="0.7"/><circle cx="477.62" cy="64.91" r="0.75" fill="rgb(195,195,195)" opacity="0.7"/><circle cx="483.46" cy="61.21" r="0.73" fill="rgb(172,172,172)" opacity="0.7"/><circle cx="469.47" cy="52.59" r="0.71" fill="rgb(170,170,170)" opacity="0.7"/><circle cx="485.05" cy="82.78" r="0.86" fill="rgb(169,169,169)" opacity="0.7"/><circle cx="495.67" cy="74.71" r="0.82" fill="rgb(191,191,191)" opacity="0.7"/><circle cx="480.67" cy="82.16" r="0.64" fill="rgb(195,195,195)" opacity="0.7"/><circle cx="474.80" cy="77.74" r="0.98" fill="rgb(186,186,186)" opacity="0.7"/><circle cx="496.29" cy="68.73" r="0.59" fill="rgb(183,183,183)" opacity="0.7"/><circle cx="489.31" cy="77.81" r="0.91" fill="rgb(171,171,171)" opacity="0.7"/><circle cx="489.04" cy="49.67" r="0.98" fill="rgb(168,168,168)" opacity="0.7"/><circle cx="484.91" cy="82.90" r="0.85" fill="rgb(180,180,180)" opacity="0.7"/><circle cx="477.69" cy="56.97" r="0.47" fill="rgb(184,184,184)" opacity="0.7"/><circle cx="488.68" cy="53.83" r="0.48" fill="rgb(185,185,185)" opacity="0.7"/><circle cx="478.89" cy="71.12" r="0.66" fill="rgb(165,165,165)" opacity="0.7"/><circle cx="480.40" cy="49.02" r="0.69" fill="rgb(166,166,166)" opacity="0.7"/><circle cx="469.02" cy="74.00" r="0.41" fill="rgb(173,173,173)" opacity="0.7"/><circle cx="498.59" cy="67.62" r="0.57" fill="rgb(180,180,180)" opacity="0.7"/><circle cx="478.98" cy="75.10" r="0.71" fill="rgb(183,183,183)" opacity="0.7"/><circle cx="489.79" cy="56.02" r="0.68" fill="rgb(169,169,169)" opacity="0.7"/><circle cx="483.76" cy="49.97" r="0.83" fill="rgb(176,176,176)" opacity="0.7"/><circle cx="479.55" cy="69.57" r="0.52" fill="rgb(189,189,189)" opacity="0.7"/><circle cx="496.21" cy="64.14" r="0.99" fill="rgb(165,165,165)" opacity="0.7"/><circle cx="496.00" cy="66.85" r="0.87" fill="rgb(185,185,185)" opacity="0.7"/><circle cx="472.46" cy="69.87" r="0.95" fill="rgb(176,176,176)" opacity="0.7"/><circle cx="499.52" cy="62.25" r="0.76" fill="rgb(181,181,181)" opacity="0.7"/><circle cx="491.74" cy="62.89" r="0.82" fill="rgb(174,174,174)" opacity="0.7"/><circle cx="490.32" cy="70.05" r="0.75" fill="rgb(167,167,167)" opacity="0.7"/><circle cx="478.61" cy="83.76" r="1.00" fill="rgb(173,173,173)" opacity="0.7"/><circle cx="491.84" cy="70.05" r="0.75" fill="rgb(168,168,168)" opacity="0.7"/><circle cx="473.55" cy="81.65" r="0.48" fill="rgb(184,184,184)" opacity="0.7"/><circle cx="462.44" cy="63.05" r="0.42" fill="rgb(171,171,171)" opacity="0.7"/><circle cx="478.38" cy="55.24" r="0.66" fill="rgb(181,181,181)" opacity="0.7"/><circle cx="495.39" cy="58.91" r="0.50" fill="rgb(195,195,195)" opacity="0.7"/><circle cx="489.28" cy="58.35" r="0.90" fill="rgb(176,176,176)" opacity="0.7"/><circle cx="468.80" cy="63.71" r="0.96" fill="rgb(194,194,194)" opacity="0.7"/><circle cx="498.04" cy="59.24" r="0.45" fill="rgb(195,195,195)" opacity="0.7"/><circle cx="488.79" cy="71.55" r="0.93" fill="rgb(193,193,193)" opacity="0.7"/><circle cx="484.60" cy="56.30" r="0.44" fill="rgb(187,187,187)" opacity="0.7"/><circle cx="494.21" cy="74.06" r="0.89" fill="rgb(176,176,176)" opacity="0.7"/><circle cx="464.66" cy="66.92" r="0.46" fill="rgb(170,170,170)" opacity="0.7"/><circle cx="485.18" cy="50.55" r="0.68" fill="rgb(190,190,190)" opacity="0.7"/><circle cx="483.74" cy="70.85" r="0.56" fill="rgb(175,175,175)" opacity="0.7"/><circle cx="473.29" cy="50.32" r="0.99" fill="rgb(172,172,172)" opacity="0.7"/><circle cx="465.21" cy="56.89" r="0.56" fill="rgb(171,171,171)" opacity="0.7"/><circle cx="491.58" cy="59.89" r="0.89" fill="rgb(171,171,171)" opacity="0.7"/><circle cx="482.73" cy="59.42" r="0.91" fill="rgb(179,179,179)" opacity="0.7"/><circle cx="467.20" cy="74.11" r="0.70" fill="rgb(187,187,187)" opacity="0.7"/><circle cx="477.57" cy="80.67" r="0.83" fill="rgb(195,195,195)" opacity="0.7"/><circle cx="469.68" cy="64.32" r="0.76" fill="rgb(189,189,189)" opacity="0.7"/><circle cx="473.12" cy="75.65" r="0.58" fill="rgb(168,168,168)" opacity="0.7"/><circle cx="490.80" cy="76.86" r="0.76" fill="rgb(194,194,194)" opacity="0.7"/><circle cx="486.64" cy="80.84" r="0.77" fill="rgb(190,190,190)" opacity="0.7"/><circle cx="471.48" cy="61.60" r="0.57" fill="rgb(193,193,193)" opacity="0.7"/><circle cx="471.68" cy="77.18" r="0.50" fill="rgb(184,184,184)" opacity="0.7"/><circle cx="484.58" cy="75.28" r="0.62" fill="rgb(187,187,187)" opacity="0.7"/><circle cx="489.50" cy="74.08" r="0.96" fill="rgb(179,179,179)" opacity="0.7"/><circle cx="486.87" cy="58.61" r="0.47" fill="rgb(188,188,188)" opacity="0.7"/><circle cx="492.10" cy="79.61" r="0.41" fill="rgb(168,168,168)" opacity="0.7"/><circle cx="474.74" cy="68.27" r="0.62" fill="rgb(166,166,166)" opacity="0.7"/><circle cx="488.50" cy="58.65" r="0.86" fill="rgb(172,172,172)" opacity="0.7"/><circle cx="481.34" cy="52.43" r="0.58" fill="rgb(191,191,191)" opacity="0.7"/><circle cx="463.90" cy="57.56" r="0.91" fill="rgb(177,177,177)" opacity="0.7"/><circle cx="491.67" cy="56.56" r="0.96" fill="rgb(190,190,190)" opacity="0.7"/><circle cx="492.15" cy="69.47" r="0.51" fill="rgb(195,195,195)" opacity="0.7"/><circle cx="474.60" cy="74.51" r="0.95" fill="rgb(184,184,184)" opacity="0.7"/><circle cx="466.31" cy="55.91" r="0.95" fill="rgb(175,175,175)" opacity="0.7"/><circle cx="479.85" cy="57.54" r="0.45" fill="rgb(186,186,186)" opacity="0.7"/><circle cx="487.50" cy="48.87" r="0.63" fill="rgb(174,174,174)" opacity="0.7"/><circle cx="470.78" cy="62.20" r="0.81" fill="rgb(178,178,178)" opacity="0.7"/><circle cx="478.65" cy="73.29" r="0.59" fill="rgb(179,179,179)" opacity="0.7"/><circle cx="471.74" cy="69.57" r="0.55" fill="rgb(188,188,188)" opacity="0.7"/><circle cx="471.87" cy="64.79" r="0.72" fill="rgb(174,174,174)" opacity="0.7"/><circle cx="473.67" cy="67.09" r="0.85" fill="rgb(176,176,176)" opacity="0.7"/><circle cx="491.58" cy="54.00" r="0.47" fill="rgb(169,169,169)" opacity="0.7"/><circle cx="484.24" cy="65.87" r="0.52" fill="rgb(173,173,173)" opacity="0.7"/><circle cx="491.99" cy="77.81" r="0.94" fill="rgb(189,189,189)" opacity="0.7"/><circle cx="484.15" cy="77.33" r="0.79" fill="rgb(187,187,187)" opacity="0.7"/><circle cx="477.40" cy="74.86" r="0.45" fill="rgb(173,173,173)" opacity="0.7"/><circle cx="476.95" cy="58.04" r="0.83" fill="rgb(178,178,178)" opacity="0.7"/><circle cx="467.07" cy="55.59" r="0.75" fill="rgb(190,190,190)" opacity="0.7"/><circle cx="473.96" cy="50.84" r="0.43" fill="rgb(184,184,184)" opacity="0.7"/><circle cx="495.34" cy="71.51" r="0.96" fill="rgb(190,190,190)" opacity="0.7"/><circle cx="498.26" cy="67.45" r="0.83" fill="rgb(167,167,167)" opacity="0.7"/><circle cx="495.56" cy="64.53" r="0.55" fill="rgb(174,174,174)" opacity="0.7"/><circle cx="477.36" cy="65.39" r="0.44" fill="rgb(192,192,192)" opacity="0.7"/><circle cx="487.34" cy="78.35" r="0.75" fill="rgb(194,194,194)" opacity="0.7"/><circle cx="496.12" cy="67.15" r="0.54" fill="rgb(175,175,175)" opacity="0.7"/><circle cx="480.18" cy="63.24" r="0.43" fill="rgb(166,166,166)" opacity="0.7"/><circle cx="465.67" cy="69.43" r="0.45" fill="rgb(187,187,187)" opacity="0.7"/><circle cx="463.74" cy="71.56" r="0.80" fill="rgb(187,187,187)" opacity="0.7"/><circle cx="475.16" cy="75.85" r="0.82" fill="rgb(176,176,176)" opacity="0.7"/><circle cx="498.56" cy="66.42" r="0.88" fill="rgb(171,171,171)" opacity="0.7"/><circle cx="462.99" cy="69.70" r="0.56" fill="rgb(182,182,182)" opacity="0.7"/><circle cx="486.42" cy="78.69" r="0.42" fill="rgb(195,195,195)" opacity="0.7"/><circle cx="492.38" cy="67.37" r="0.73" fill="rgb(180,180,180)" opacity="0.7"/><circle cx="476.48" cy="50.19" r="0.48" fill="rgb(194,194,194)" opacity="0.7"/><circle cx="470.81" cy="50.55" r="0.49" fill="rgb(168,168,168)" opacity="0.7"/><circle cx="473.42" cy="75.48" r="0.48" fill="rgb(182,182,182)" opacity="0.7"/><circle cx="492.12" cy="63.47" r="0.47" fill="rgb(194,194,194)" opacity="0.7"/><circle cx="491.06" cy="64.40" r="0.63" fill="rgb(192,192,192)" opacity="0.7"/><circle cx="480.36" cy="60.11" r="0.45" fill="rgb(176,176,176)" opacity="0.7"/><circle cx="495.21" cy="72.94" r="0.87" fill="rgb(165,165,165)" opacity="0.7"/><circle cx="477.42" cy="77.73" r="0.65" fill="rgb(193,193,193)" opacity="0.7"/><circle cx="497.57" cy="65.95" r="0.75" fill="rgb(186,186,186)" opacity="0.7"/><circle cx="488.48" cy="81.23" r="0.47" fill="rgb(181,181,181)" opacity="0.7"/><circle cx="477.98" cy="78.77" r="0.98" fill="rgb(175,175,175)" opacity="0.7"/><circle cx="487.00" cy="68.76" r="0.95" fill="rgb(180,180,180)" opacity="0.7"/><circle cx="488.41" cy="79.26" r="0.43" fill="rgb(189,189,189)" opacity="0.7"/><circle cx="493.91" cy="59.39" r="0.70" fill="rgb(176,176,176)" opacity="0.7"/><circle cx="483.30" cy="68.06" r="0.54" fill="rgb(183,183,183)" opacity="0.7"/><circle cx="462.16" cy="68.39" r="0.75" fill="rgb(183,183,183)" opacity="0.7"/><circle cx="486.68" cy="68.60" r="0.63" fill="rgb(177,177,177)" opacity="0.7"/><circle cx="483.72" cy="79.78" r="0.72" fill="rgb(189,189,189)" opacity="0.7"/><circle cx="476.43" cy="47.05" r="0.90" fill="rgb(174,174,174)" opacity="0.7"/><circle cx="488.74" cy="75.67" r="0.54" fill="rgb(172,172,172)" opacity="0.7"/><circle cx="496.09" cy="72.28" r="0.66" fill="rgb(179,179,179)" opacity="0.7"/><circle cx="492.49" cy="51.65" r="0.57" fill="rgb(175,175,175)" opacity="0.7"/><circle cx="492.66" cy="60.50" r="0.84" fill="rgb(182,182,182)" opacity="0.7"/><circle cx="490.04" cy="67.42" r="0.86" fill="rgb(173,173,173)" opacity="0.7"/><circle cx="478.60" cy="57.39" r="0.58" fill="rgb(181,181,181)" opacity="0.7"/><circle cx="478.73" cy="72.76" r="0.88" fill="rgb(189,189,189)" opacity="0.7"/><circle cx="481.27" cy="68.27" r="0.57" fill="rgb(181,181,181)" opacity="0.7"/><circle cx="495.14" cy="69.00" r="0.77" fill="rgb(189,189,189)" opacity="0.7"/><circle cx="490.56" cy="73.10" r="0.74" fill="rgb(192,192,192)" opacity="0.7"/><circle cx="464.89" cy="72.83" r="0.79" fill="rgb(166,166,166)" opacity="0.7"/><circle cx="471.08" cy="80.28" r="0.77" fill="rgb(181,181,181)" opacity="0.7"/><circle cx="488.22" cy="74.70" r="0.80" fill="rgb(167,167,167)" opacity="0.7"/><circle cx="483.50" cy="47.74" r="0.78" fill="rgb(181,181,181)" opacity="0.7"/><circle cx="491.02" cy="77.39" r="0.48" fill="rgb(181,181,181)" opacity="0.7"/><circle cx="473.70" cy="64.86" r="0.52" fill="rgb(181,181,181)" opacity="0.7"/><circle cx="478.81" cy="63.17" r="0.44" fill="rgb(188,188,188)" opacity="0.7"/><circle cx="489.90" cy="57.99" r="0.63" fill="rgb(172,172,172)" opacity="0.7"/><circle cx="491.33" cy="71.64" r="0.95" fill="rgb(176,176,176)" opacity="0.7"/><circle cx="495.86" cy="72.97" r="0.77" fill="rgb(188,188,188)" opacity="0.7"/><circle cx="479.43" cy="61.72" r="0.42" fill="rgb(165,165,165)" opacity="0.7"/><circle cx="474.47" cy="77.36" r="0.86" fill="rgb(187,187,187)" opacity="0.7"/><circle cx="481.36" cy="66.76" r="0.98" fill="rgb(194,194,194)" opacity="0.7"/><circle cx="467.66" cy="68.84" r="0.67" fill="rgb(169,169,169)" opacity="0.7"/><circle cx="473.52" cy="72.47" r="0.72" fill="rgb(174,174,174)" opacity="0.7"/><circle cx="489.69" cy="70.85" r="0.50" fill="rgb(188,188,188)" opacity="0.7"/><circle cx="478.05" cy="66.35" r="0.64" fill="rgb(179,179,179)" opacity="0.7"/><circle cx="475.72" cy="78.99" r="0.98" fill="rgb(169,169,169)" opacity="0.7"/><circle cx="489.38" cy="68.34" r="0.63" fill="rgb(177,177,177)" opacity="0.7"/><circle cx="480.48" cy="48.83" r="0.43" fill="rgb(175,175,175)" opacity="0.7"/><circle cx="492.72" cy="58.46" r="0.78" fill="rgb(165,165,165)" opacity="0.7"/><circle cx="484.45" cy="81.67" r="0.95" fill="rgb(192,192,192)" opacity="0.7"/><circle cx="478.30" cy="59.36" r="0.62" fill="rgb(169,169,169)" opacity="0.7"/><circle cx="473.13" cy="82.96" r="0.96" fill="rgb(189,189,189)" opacity="0.7"/><circle cx="479.00" cy="67.80" r="7.5" fill="#4a4a4a" opacity="0.45"/><circle cx="479.00" cy="67.80" r="4.5" fill="#333" opacity="0.45"/><circle cx="479.50" cy="67.30" r="1.8" fill="#888" opacity="0.6"/></g>
<line x1="493.20" y1="42.00" x2="502.30" y2="42.00" stroke="#aaaaaa" stroke-width="1.1"/>
<circle cx="503.20" cy="41.00" r="0.50" fill="#aaa" />
<ellipse cx="481.00" cy="116.90" rx="20.50" ry="21.00" fill="#a2a2a2" stroke="#7a7a7a" stroke-width="1.1"/>
<g filter="url(#bl2)"><circle cx="465.89" cy="127.38" r="0.82" fill="rgb(116,116,116)" opacity="0.75"/><circle cx="486.39" cy="126.89" r="1.04" fill="rgb(117,117,117)" opacity="0.75"/><circle cx="474.69" cy="119.74" r="1.25" fill="rgb(131,131,131)" opacity="0.75"/><circle cx="464.21" cy="114.86" r="0.59" fill="rgb(113,113,113)" opacity="0.75"/><circle cx="491.12" cy="119.88" r="0.82" fill="rgb(139,139,139)" opacity="0.75"/><circle cx="476.37" cy="117.79" r="0.98" fill="rgb(132,132,132)" opacity="0.75"/><circle cx="473.46" cy="127.35" r="1.14" fill="rgb(137,137,137)" opacity="0.75"/><circle cx="470.05" cy="126.68" r="1.14" fill="rgb(116,116,116)" opacity="0.75"/><circle cx="478.22" cy="115.75" r="0.97" fill="rgb(138,138,138)" opacity="0.75"/><circle cx="491.79" cy="104.63" r="1.36" fill="rgb(133,133,133)" opacity="0.75"/><circle cx="479.69" cy="126.31" r="0.60" fill="rgb(125,125,125)" opacity="0.75"/><circle cx="480.28" cy="116.46" r="1.12" fill="rgb(91,91,91)" opacity="0.75"/><circle cx="488.37" cy="117.72" r="0.90" fill="rgb(101,101,101)" opacity="0.75"/><circle cx="477.84" cy="129.57" r="0.56" fill="rgb(108,108,108)" opacity="0.75"/><circle cx="481.89" cy="130.68" r="1.21" fill="rgb(129,129,129)" opacity="0.75"/><circle cx="468.51" cy="116.37" r="0.64" fill="rgb(118,118,118)" opacity="0.75"/><circle cx="463.15" cy="117.09" r="1.34" fill="rgb(103,103,103)" opacity="0.75"/><circle cx="493.51" cy="122.32" r="0.82" fill="rgb(95,95,95)" opacity="0.75"/><circle cx="466.73" cy="128.49" r="1.32" fill="rgb(108,108,108)" opacity="0.75"/><circle cx="496.70" cy="112.49" r="0.69" fill="rgb(98,98,98)" opacity="0.75"/><circle cx="471.70" cy="126.92" r="0.93" fill="rgb(128,128,128)" opacity="0.75"/><circle cx="495.43" cy="123.50" r="1.20" fill="rgb(128,128,128)" opacity="0.75"/><circle cx="490.12" cy="113.05" r="0.51" fill="rgb(140,140,140)" opacity="0.75"/><circle cx="494.18" cy="125.62" r="0.88" fill="rgb(101,101,101)" opacity="0.75"/><circle cx="471.58" cy="108.36" r="0.85" fill="rgb(97,97,97)" opacity="0.75"/><circle cx="496.79" cy="120.41" r="0.69" fill="rgb(107,107,107)" opacity="0.75"/><circle cx="472.07" cy="107.55" r="0.79" fill="rgb(111,111,111)" opacity="0.75"/><circle cx="468.67" cy="115.67" r="1.27" fill="rgb(107,107,107)" opacity="0.75"/><circle cx="481.80" cy="102.78" r="0.74" fill="rgb(103,103,103)" opacity="0.75"/><circle cx="486.21" cy="117.20" r="0.80" fill="rgb(112,112,112)" opacity="0.75"/><circle cx="468.36" cy="111.47" r="1.33" fill="rgb(98,98,98)" opacity="0.75"/><circle cx="487.22" cy="101.38" r="0.69" fill="rgb(106,106,106)" opacity="0.75"/><circle cx="493.12" cy="105.69" r="1.11" fill="rgb(106,106,106)" opacity="0.75"/><circle cx="475.14" cy="100.67" r="0.71" fill="rgb(102,102,102)" opacity="0.75"/><circle cx="480.76" cy="99.08" r="1.30" fill="rgb(110,110,110)" opacity="0.75"/><circle cx="467.58" cy="104.47" r="0.66" fill="rgb(118,118,118)" opacity="0.75"/><circle cx="486.05" cy="131.06" r="0.82" fill="rgb(115,115,115)" opacity="0.75"/><circle cx="478.27" cy="105.81" r="1.34" fill="rgb(120,120,120)" opacity="0.75"/><circle cx="482.60" cy="136.22" r="0.68" fill="rgb(121,121,121)" opacity="0.75"/><circle cx="500.06" cy="118.09" r="0.98" fill="rgb(139,139,139)" opacity="0.75"/><circle cx="481.43" cy="112.16" r="1.01" fill="rgb(122,122,122)" opacity="0.75"/><circle cx="487.59" cy="127.86" r="1.23" fill="rgb(125,125,125)" opacity="0.75"/><circle cx="485.52" cy="124.89" r="0.97" fill="rgb(137,137,137)" opacity="0.75"/><circle cx="489.64" cy="119.14" r="1.21" fill="rgb(93,93,93)" opacity="0.75"/><circle cx="497.06" cy="114.57" r="1.33" fill="rgb(92,92,92)" opacity="0.75"/><circle cx="472.42" cy="126.65" r="0.79" fill="rgb(97,97,97)" opacity="0.75"/><circle cx="482.50" cy="122.54" r="0.70" fill="rgb(92,92,92)" opacity="0.75"/><circle cx="485.79" cy="123.29" r="0.82" fill="rgb(95,95,95)" opacity="0.75"/><circle cx="483.48" cy="100.66" r="0.58" fill="rgb(90,90,90)" opacity="0.75"/><circle cx="471.84" cy="130.53" r="1.37" fill="rgb(123,123,123)" opacity="0.75"/><circle cx="472.01" cy="132.45" r="1.07" fill="rgb(98,98,98)" opacity="0.75"/><circle cx="482.73" cy="113.42" r="0.79" fill="rgb(95,95,95)" opacity="0.75"/><circle cx="487.71" cy="123.63" r="1.21" fill="rgb(119,119,119)" opacity="0.75"/><circle cx="462.56" cy="114.49" r="0.94" fill="rgb(126,126,126)" opacity="0.75"/><circle cx="470.96" cy="99.87" r="0.89" fill="rgb(137,137,137)" opacity="0.75"/><circle cx="498.29" cy="113.26" r="1.35" fill="rgb(92,92,92)" opacity="0.75"/><circle cx="475.40" cy="107.20" r="1.34" fill="rgb(122,122,122)" opacity="0.75"/><circle cx="484.53" cy="131.73" r="0.51" fill="rgb(124,124,124)" opacity="0.75"/><circle cx="465.53" cy="123.37" r="1.16" fill="rgb(132,132,132)" opacity="0.75"/><circle cx="493.26" cy="106.50" r="0.59" fill="rgb(97,97,97)" opacity="0.75"/><circle cx="475.13" cy="99.59" r="1.01" fill="rgb(135,135,135)" opacity="0.75"/><circle cx="474.39" cy="107.67" r="1.12" fill="rgb(140,140,140)" opacity="0.75"/><circle cx="474.27" cy="129.70" r="0.60" fill="rgb(114,114,114)" opacity="0.75"/><circle cx="470.67" cy="112.78" r="0.96" fill="rgb(103,103,103)" opacity="0.75"/><circle cx="467.15" cy="127.50" r="1.21" fill="rgb(133,133,133)" opacity="0.75"/><circle cx="475.70" cy="104.33" r="1.28" fill="rgb(131,131,131)" opacity="0.75"/><circle cx="489.90" cy="131.00" r="0.86" fill="rgb(117,117,117)" opacity="0.75"/><circle cx="488.02" cy="117.02" r="1.39" fill="rgb(106,106,106)" opacity="0.75"/><circle cx="463.18" cy="116.65" r="1.16" fill="rgb(120,120,120)" opacity="0.75"/><circle cx="495.04" cy="126.00" r="0.82" fill="rgb(93,93,93)" opacity="0.75"/><circle cx="468.23" cy="109.72" r="0.72" fill="rgb(100,100,100)" opacity="0.75"/><circle cx="483.54" cy="122.31" r="0.88" fill="rgb(90,90,90)" opacity="0.75"/><circle cx="488.64" cy="102.89" r="0.66" fill="rgb(107,107,107)" opacity="0.75"/><circle cx="492.32" cy="112.64" r="0.71" fill="rgb(134,134,134)" opacity="0.75"/><circle cx="467.34" cy="103.32" r="0.60" fill="rgb(137,137,137)" opacity="0.75"/><circle cx="493.62" cy="103.15" r="1.15" fill="rgb(139,139,139)" opacity="0.75"/><circle cx="486.19" cy="105.77" r="1.26" fill="rgb(139,139,139)" opacity="0.75"/><circle cx="483.43" cy="103.78" r="0.87" fill="rgb(95,95,95)" opacity="0.75"/><circle cx="493.17" cy="121.56" r="1.13" fill="rgb(139,139,139)" opacity="0.75"/><circle cx="470.32" cy="112.00" r="1.26" fill="rgb(129,129,129)" opacity="0.75"/><circle cx="465.28" cy="110.01" r="1.09" fill="rgb(107,107,107)" opacity="0.75"/><circle cx="467.55" cy="103.76" r="0.69" fill="rgb(98,98,98)" opacity="0.75"/><circle cx="483.86" cy="98.20" r="0.57" fill="rgb(127,127,127)" opacity="0.75"/><circle cx="468.02" cy="104.92" r="1.30" fill="rgb(112,112,112)" opacity="0.75"/><circle cx="499.23" cy="112.38" r="0.66" fill="rgb(130,130,130)" opacity="0.75"/><circle cx="492.37" cy="126.44" r="1.28" fill="rgb(120,120,120)" opacity="0.75"/><circle cx="478.89" cy="97.97" r="0.73" fill="rgb(104,104,104)" opacity="0.75"/><circle cx="494.49" cy="113.34" r="1.29" fill="rgb(91,91,91)" opacity="0.75"/><circle cx="491.37" cy="108.32" r="1.27" fill="rgb(108,108,108)" opacity="0.75"/><circle cx="484.85" cy="131.78" r="1.19" fill="rgb(104,104,104)" opacity="0.75"/><circle cx="489.56" cy="120.14" r="1.35" fill="rgb(114,114,114)" opacity="0.75"/><circle cx="464.12" cy="108.56" r="0.79" fill="rgb(95,95,95)" opacity="0.75"/><circle cx="488.76" cy="99.20" r="1.23" fill="rgb(116,116,116)" opacity="0.75"/><circle cx="483.89" cy="131.25" r="0.51" fill="rgb(98,98,98)" opacity="0.75"/><circle cx="490.28" cy="125.98" r="1.02" fill="rgb(128,128,128)" opacity="0.75"/><circle cx="469.05" cy="110.16" r="1.09" fill="rgb(122,122,122)" opacity="0.75"/><circle cx="464.73" cy="108.85" r="0.52" fill="rgb(90,90,90)" opacity="0.75"/><circle cx="481.07" cy="100.97" r="1.05" fill="rgb(115,115,115)" opacity="0.75"/><circle cx="467.35" cy="123.81" r="0.50" fill="rgb(94,94,94)" opacity="0.75"/><circle cx="486.72" cy="128.29" r="1.33" fill="rgb(117,117,117)" opacity="0.75"/><circle cx="464.58" cy="114.33" r="0.70" fill="rgb(109,109,109)" opacity="0.75"/><circle cx="469.99" cy="133.30" r="0.60" fill="rgb(109,109,109)" opacity="0.75"/><circle cx="478.59" cy="104.30" r="0.81" fill="rgb(113,113,113)" opacity="0.75"/><circle cx="477.65" cy="124.50" r="0.62" fill="rgb(108,108,108)" opacity="0.75"/><circle cx="482.71" cy="103.58" r="1.15" fill="rgb(112,112,112)" opacity="0.75"/><circle cx="484.34" cy="121.32" r="0.94" fill="rgb(121,121,121)" opacity="0.75"/><circle cx="475.54" cy="120.71" r="0.74" fill="rgb(128,128,128)" opacity="0.75"/><circle cx="482.48" cy="125.80" r="1.19" fill="rgb(122,122,122)" opacity="0.75"/><circle cx="478.52" cy="100.86" r="0.71" fill="rgb(94,94,94)" opacity="0.75"/><circle cx="481.84" cy="114.15" r="0.94" fill="rgb(94,94,94)" opacity="0.75"/><circle cx="491.90" cy="120.08" r="1.15" fill="rgb(134,134,134)" opacity="0.75"/><circle cx="488.43" cy="104.04" r="1.13" fill="rgb(101,101,101)" opacity="0.75"/><circle cx="466.81" cy="113.87" r="0.92" fill="rgb(122,122,122)" opacity="0.75"/><circle cx="494.10" cy="113.62" r="1.16" fill="rgb(100,100,100)" opacity="0.75"/><circle cx="481.33" cy="97.43" r="0.53" fill="rgb(99,99,99)" opacity="0.75"/><circle cx="486.35" cy="114.61" r="0.61" fill="rgb(106,106,106)" opacity="0.75"/><circle cx="496.26" cy="107.09" r="0.52" fill="rgb(108,108,108)" opacity="0.75"/><circle cx="482.29" cy="108.21" r="0.52" fill="rgb(133,133,133)" opacity="0.75"/><circle cx="481.54" cy="119.38" r="0.66" fill="rgb(122,122,122)" opacity="0.75"/><circle cx="491.93" cy="102.32" r="0.55" fill="rgb(115,115,115)" opacity="0.75"/><circle cx="495.22" cy="105.78" r="1.04" fill="rgb(110,110,110)" opacity="0.75"/><circle cx="481.48" cy="100.37" r="1.11" fill="rgb(105,105,105)" opacity="0.75"/><circle cx="473.84" cy="129.19" r="1.08" fill="rgb(130,130,130)" opacity="0.75"/><circle cx="484.86" cy="130.29" r="1.33" fill="rgb(117,117,117)" opacity="0.75"/><circle cx="489.18" cy="121.89" r="1.00" fill="rgb(106,106,106)" opacity="0.75"/><circle cx="494.56" cy="117.68" r="0.62" fill="rgb(120,120,120)" opacity="0.75"/><circle cx="469.55" cy="103.24" r="0.60" fill="rgb(117,117,117)" opacity="0.75"/><circle cx="468.78" cy="118.59" r="0.99" fill="rgb(108,108,108)" opacity="0.75"/><circle cx="484.30" cy="115.89" r="0.65" fill="rgb(104,104,104)" opacity="0.75"/><circle cx="476.86" cy="134.69" r="0.88" fill="rgb(110,110,110)" opacity="0.75"/><circle cx="481.40" cy="117.59" r="0.95" fill="rgb(107,107,107)" opacity="0.75"/><circle cx="488.68" cy="126.77" r="0.66" fill="rgb(124,124,124)" opacity="0.75"/><circle cx="475.01" cy="132.41" r="0.84" fill="rgb(125,125,125)" opacity="0.75"/><circle cx="472.12" cy="126.69" r="0.67" fill="rgb(114,114,114)" opacity="0.75"/><circle cx="497.67" cy="126.77" r="0.59" fill="rgb(121,121,121)" opacity="0.75"/><circle cx="485.81" cy="126.94" r="1.13" fill="rgb(103,103,103)" opacity="0.75"/><circle cx="487.01" cy="102.14" r="0.58" fill="rgb(101,101,101)" opacity="0.75"/><circle cx="496.33" cy="119.72" r="0.62" fill="rgb(93,93,93)" opacity="0.75"/><circle cx="484.20" cy="103.50" r="0.93" fill="rgb(103,103,103)" opacity="0.75"/><circle cx="494.04" cy="117.40" r="1.00" fill="rgb(113,113,113)" opacity="0.75"/><circle cx="495.50" cy="104.33" r="0.57" fill="rgb(104,104,104)" opacity="0.75"/><circle cx="488.02" cy="119.39" r="0.91" fill="rgb(98,98,98)" opacity="0.75"/><circle cx="483.55" cy="123.44" r="0.97" fill="rgb(99,99,99)" opacity="0.75"/><circle cx="495.14" cy="123.32" r="0.92" fill="rgb(109,109,109)" opacity="0.75"/><circle cx="481.42" cy="123.27" r="1.20" fill="rgb(95,95,95)" opacity="0.75"/><circle cx="483.56" cy="109.80" r="0.57" fill="rgb(92,92,92)" opacity="0.75"/><circle cx="488.01" cy="116.93" r="0.56" fill="rgb(105,105,105)" opacity="0.75"/><circle cx="471.95" cy="129.07" r="0.97" fill="rgb(121,121,121)" opacity="0.75"/><circle cx="487.47" cy="114.50" r="0.64" fill="rgb(135,135,135)" opacity="0.75"/><circle cx="489.81" cy="110.11" r="1.00" fill="rgb(133,133,133)" opacity="0.75"/><circle cx="483.79" cy="127.88" r="1.09" fill="rgb(115,115,115)" opacity="0.75"/><circle cx="497.74" cy="108.97" r="0.52" fill="rgb(118,118,118)" opacity="0.75"/><circle cx="466.09" cy="115.46" r="1.02" fill="rgb(118,118,118)" opacity="0.75"/><circle cx="496.92" cy="113.93" r="1.38" fill="rgb(137,137,137)" opacity="0.75"/><circle cx="497.77" cy="127.35" r="0.84" fill="rgb(96,96,96)" opacity="0.75"/><circle cx="499.90" cy="111.72" r="1.01" fill="rgb(128,128,128)" opacity="0.75"/><circle cx="463.02" cy="116.94" r="1.17" fill="rgb(136,136,136)" opacity="0.75"/><circle cx="488.34" cy="115.02" r="0.78" fill="rgb(138,138,138)" opacity="0.75"/><circle cx="481.38" cy="101.23" r="1.37" fill="rgb(130,130,130)" opacity="0.75"/><circle cx="478.37" cy="100.77" r="0.83" fill="rgb(136,136,136)" opacity="0.75"/><circle cx="474.08" cy="123.23" r="1.18" fill="rgb(116,116,116)" opacity="0.75"/><circle cx="471.78" cy="134.42" r="0.92" fill="rgb(112,112,112)" opacity="0.75"/><circle cx="466.80" cy="114.24" r="1.07" fill="rgb(137,137,137)" opacity="0.75"/><circle cx="479.87" cy="127.18" r="1.22" fill="rgb(133,133,133)" opacity="0.75"/><circle cx="472.20" cy="116.82" r="1.27" fill="rgb(97,97,97)" opacity="0.75"/><circle cx="478.72" cy="109.60" r="0.81" fill="rgb(113,113,113)" opacity="0.75"/><circle cx="469.86" cy="123.59" r="1.39" fill="rgb(127,127,127)" opacity="0.75"/><circle cx="471.31" cy="124.23" r="1.28" fill="rgb(99,99,99)" opacity="0.75"/><circle cx="480.21" cy="132.68" r="0.72" fill="rgb(121,121,121)" opacity="0.75"/><circle cx="474.21" cy="102.05" r="0.64" fill="rgb(112,112,112)" opacity="0.75"/><circle cx="467.24" cy="111.69" r="1.02" fill="rgb(101,101,101)" opacity="0.75"/><circle cx="487.24" cy="119.19" r="1.31" fill="rgb(125,125,125)" opacity="0.75"/><circle cx="495.44" cy="113.59" r="1.37" fill="rgb(139,139,139)" opacity="0.75"/><circle cx="468.62" cy="122.75" r="0.80" fill="rgb(119,119,119)" opacity="0.75"/><circle cx="478.17" cy="117.66" r="0.95" fill="rgb(107,107,107)" opacity="0.75"/><circle cx="487.76" cy="133.12" r="0.80" fill="rgb(91,91,91)" opacity="0.75"/><circle cx="481.31" cy="131.04" r="0.67" fill="rgb(131,131,131)" opacity="0.75"/><circle cx="496.94" cy="119.00" r="0.71" fill="rgb(121,121,121)" opacity="0.75"/><circle cx="477.08" cy="110.50" r="0.83" fill="rgb(96,96,96)" opacity="0.75"/><circle cx="470.37" cy="118.52" r="0.85" fill="rgb(112,112,112)" opacity="0.75"/><circle cx="470.32" cy="103.26" r="0.74" fill="rgb(106,106,106)" opacity="0.75"/><circle cx="489.08" cy="112.15" r="1.23" fill="rgb(135,135,135)" opacity="0.75"/><circle cx="474.67" cy="109.38" r="0.87" fill="rgb(138,138,138)" opacity="0.75"/><circle cx="488.12" cy="114.24" r="0.50" fill="rgb(111,111,111)" opacity="0.75"/><circle cx="482.25" cy="122.59" r="1.29" fill="rgb(131,131,131)" opacity="0.75"/><circle cx="466.46" cy="114.48" r="1.18" fill="rgb(136,136,136)" opacity="0.75"/><circle cx="471.44" cy="129.43" r="1.28" fill="rgb(133,133,133)" opacity="0.75"/><circle cx="479.60" cy="101.79" r="0.90" fill="rgb(107,107,107)" opacity="0.75"/><circle cx="465.25" cy="105.08" r="0.86" fill="rgb(94,94,94)" opacity="0.75"/><circle cx="477.30" cy="117.04" r="1.20" fill="rgb(107,107,107)" opacity="0.75"/><circle cx="471.81" cy="99.50" r="0.65" fill="rgb(97,97,97)" opacity="0.75"/><circle cx="471.70" cy="105.45" r="0.84" fill="rgb(132,132,132)" opacity="0.75"/><circle cx="490.00" cy="112.72" r="1.08" fill="rgb(94,94,94)" opacity="0.75"/><circle cx="462.36" cy="115.25" r="0.88" fill="rgb(99,99,99)" opacity="0.75"/><circle cx="483.69" cy="110.58" r="1.35" fill="rgb(140,140,140)" opacity="0.75"/><circle cx="479.94" cy="132.29" r="0.76" fill="rgb(135,135,135)" opacity="0.75"/><circle cx="472.13" cy="100.74" r="0.95" fill="rgb(119,119,119)" opacity="0.75"/><circle cx="464.91" cy="117.11" r="0.76" fill="rgb(115,115,115)" opacity="0.75"/><circle cx="475.70" cy="106.43" r="1.30" fill="rgb(112,112,112)" opacity="0.75"/><circle cx="466.42" cy="112.03" r="0.60" fill="rgb(125,125,125)" opacity="0.75"/><circle cx="466.06" cy="115.85" r="1.01" fill="rgb(94,94,94)" opacity="0.75"/><circle cx="481.95" cy="115.36" r="1.15" fill="rgb(116,116,116)" opacity="0.75"/><circle cx="494.19" cy="112.59" r="0.68" fill="rgb(109,109,109)" opacity="0.75"/><circle cx="481.03" cy="115.33" r="1.15" fill="rgb(132,132,132)" opacity="0.75"/><circle cx="463.53" cy="115.95" r="0.63" fill="rgb(114,114,114)" opacity="0.75"/><circle cx="493.57" cy="123.60" r="0.52" fill="rgb(135,135,135)" opacity="0.75"/><circle cx="490.19" cy="110.15" r="0.81" fill="rgb(139,139,139)" opacity="0.75"/><circle cx="494.53" cy="129.25" r="0.84" fill="rgb(117,117,117)" opacity="0.75"/><circle cx="477.09" cy="130.29" r="1.24" fill="rgb(122,122,122)" opacity="0.75"/><circle cx="473.15" cy="125.95" r="0.51" fill="rgb(124,124,124)" opacity="0.75"/><circle cx="492.50" cy="121.07" r="0.57" fill="rgb(137,137,137)" opacity="0.75"/><circle cx="474.52" cy="128.56" r="1.30" fill="rgb(104,104,104)" opacity="0.75"/><circle cx="487.82" cy="98.96" r="0.99" fill="rgb(119,119,119)" opacity="0.75"/><circle cx="498.53" cy="110.52" r="1.26" fill="rgb(135,135,135)" opacity="0.75"/><circle cx="476.48" cy="117.75" r="1.37" fill="rgb(114,114,114)" opacity="0.75"/><circle cx="471.61" cy="116.38" r="0.95" fill="rgb(134,134,134)" opacity="0.75"/><circle cx="471.70" cy="99.65" r="1.37" fill="rgb(133,133,133)" opacity="0.75"/><circle cx="477.70" cy="126.06" r="1.40" fill="rgb(91,91,91)" opacity="0.75"/><circle cx="474.52" cy="125.55" r="1.32" fill="rgb(129,129,129)" opacity="0.75"/><circle cx="492.77" cy="114.70" r="1.30" fill="rgb(93,93,93)" opacity="0.75"/><circle cx="494.00" cy="115.65" r="1.31" fill="rgb(139,139,139)" opacity="0.75"/><circle cx="475.79" cy="104.08" r="0.95" fill="rgb(94,94,94)" opacity="0.75"/><circle cx="490.50" cy="120.50" r="0.68" fill="rgb(137,137,137)" opacity="0.75"/><circle cx="485.02" cy="126.38" r="0.97" fill="rgb(123,123,123)" opacity="0.75"/><circle cx="477.65" cy="122.27" r="0.93" fill="rgb(106,106,106)" opacity="0.75"/><circle cx="492.91" cy="121.63" r="0.98" fill="rgb(107,107,107)" opacity="0.75"/><circle cx="490.07" cy="119.32" r="1.21" fill="rgb(122,122,122)" opacity="0.75"/><circle cx="473.48" cy="116.03" r="1.37" fill="rgb(119,119,119)" opacity="0.75"/><circle cx="471.91" cy="123.97" r="1.38" fill="rgb(131,131,131)" opacity="0.75"/><circle cx="490.07" cy="129.22" r="1.26" fill="rgb(115,115,115)" opacity="0.75"/><circle cx="483.62" cy="101.39" r="1.02" fill="rgb(97,97,97)" opacity="0.75"/><circle cx="469.92" cy="116.51" r="1.16" fill="rgb(134,134,134)" opacity="0.75"/><circle cx="469.34" cy="108.83" r="0.98" fill="rgb(126,126,126)" opacity="0.75"/><circle cx="474.37" cy="106.32" r="0.61" fill="rgb(124,124,124)" opacity="0.75"/><circle cx="474.42" cy="128.69" r="0.84" fill="rgb(97,97,97)" opacity="0.75"/><circle cx="484.19" cy="132.98" r="1.03" fill="rgb(129,129,129)" opacity="0.75"/><circle cx="469.93" cy="116.62" r="1.29" fill="rgb(106,106,106)" opacity="0.75"/><circle cx="482.61" cy="127.24" r="1.31" fill="rgb(118,118,118)" opacity="0.75"/><circle cx="475.54" cy="101.76" r="0.87" fill="rgb(135,135,135)" opacity="0.75"/><circle cx="483.62" cy="100.10" r="1.15" fill="rgb(117,117,117)" opacity="0.75"/><circle cx="464.24" cy="127.06" r="1.21" fill="rgb(111,111,111)" opacity="0.75"/><circle cx="474.13" cy="111.98" r="1.23" fill="rgb(111,111,111)" opacity="0.75"/><circle cx="465.23" cy="122.72" r="0.59" fill="rgb(123,123,123)" opacity="0.75"/><circle cx="463.82" cy="119.58" r="0.73" fill="rgb(96,96,96)" opacity="0.75"/><circle cx="469.02" cy="103.47" r="0.80" fill="rgb(108,108,108)" opacity="0.75"/><circle cx="489.41" cy="123.64" r="0.93" fill="rgb(103,103,103)" opacity="0.75"/><circle cx="463.09" cy="111.89" r="0.84" fill="rgb(135,135,135)" opacity="0.75"/><circle cx="487.48" cy="102.74" r="1.17" fill="rgb(90,90,90)" opacity="0.75"/><circle cx="468.10" cy="112.82" r="1.21" fill="rgb(138,138,138)" opacity="0.75"/><circle cx="482.41" cy="97.58" r="1.24" fill="rgb(128,128,128)" opacity="0.75"/><circle cx="479.53" cy="115.58" r="1.30" fill="rgb(102,102,102)" opacity="0.75"/><circle cx="479.82" cy="102.72" r="1.39" fill="rgb(132,132,132)" opacity="0.75"/><circle cx="472.23" cy="120.93" r="1.04" fill="rgb(122,122,122)" opacity="0.75"/><circle cx="477.18" cy="101.90" r="0.54" fill="rgb(97,97,97)" opacity="0.75"/><circle cx="497.31" cy="107.02" r="1.24" fill="rgb(96,96,96)" opacity="0.75"/><circle cx="469.70" cy="126.41" r="1.28" fill="rgb(103,103,103)" opacity="0.75"/><circle cx="477.27" cy="134.59" r="1.28" fill="rgb(117,117,117)" opacity="0.75"/><circle cx="489.06" cy="101.86" r="0.71" fill="rgb(134,134,134)" opacity="0.75"/><circle cx="491.80" cy="119.35" r="1.00" fill="rgb(117,117,117)" opacity="0.75"/><circle cx="497.77" cy="118.67" r="1.04" fill="rgb(136,136,136)" opacity="0.75"/><circle cx="476.72" cy="102.79" r="0.91" fill="rgb(100,100,100)" opacity="0.75"/><circle cx="467.16" cy="125.57" r="0.75" fill="rgb(103,103,103)" opacity="0.75"/><circle cx="463.76" cy="116.78" r="0.81" fill="rgb(96,96,96)" opacity="0.75"/><circle cx="475.10" cy="107.42" r="0.91" fill="rgb(118,118,118)" opacity="0.75"/><circle cx="471.36" cy="119.21" r="1.06" fill="rgb(111,111,111)" opacity="0.75"/><circle cx="467.78" cy="114.94" r="1.16" fill="rgb(96,96,96)" opacity="0.75"/><circle cx="461.36" cy="117.36" r="1.28" fill="rgb(94,94,94)" opacity="0.75"/><circle cx="477.51" cy="127.26" r="1.22" fill="rgb(136,136,136)" opacity="0.75"/><circle cx="463.10" cy="110.77" r="1.19" fill="rgb(135,135,135)" opacity="0.75"/><circle cx="470.42" cy="132.49" r="1.10" fill="rgb(137,137,137)" opacity="0.75"/><circle cx="468.27" cy="129.71" r="1.12" fill="rgb(92,92,92)" opacity="0.75"/><circle cx="472.26" cy="120.22" r="1.26" fill="rgb(106,106,106)" opacity="0.75"/><circle cx="485.85" cy="127.97" r="1.29" fill="rgb(126,126,126)" opacity="0.75"/><circle cx="497.32" cy="114.88" r="1.00" fill="rgb(108,108,108)" opacity="0.75"/><circle cx="485.02" cy="113.95" r="1.24" fill="rgb(92,92,92)" opacity="0.75"/><circle cx="467.14" cy="116.61" r="0.94" fill="rgb(137,137,137)" opacity="0.75"/><circle cx="484.79" cy="126.95" r="0.79" fill="rgb(127,127,127)" opacity="0.75"/><circle cx="486.33" cy="106.65" r="0.85" fill="rgb(133,133,133)" opacity="0.75"/><circle cx="468.68" cy="106.72" r="0.54" fill="rgb(135,135,135)" opacity="0.75"/><circle cx="484.34" cy="98.79" r="1.18" fill="rgb(132,132,132)" opacity="0.75"/><circle cx="496.69" cy="111.34" r="1.14" fill="rgb(138,138,138)" opacity="0.75"/><circle cx="492.04" cy="126.67" r="0.61" fill="rgb(96,96,96)" opacity="0.75"/><circle cx="480.32" cy="131.04" r="0.92" fill="rgb(119,119,119)" opacity="0.75"/><circle cx="470.29" cy="115.76" r="0.68" fill="rgb(128,128,128)" opacity="0.75"/><circle cx="469.70" cy="114.25" r="1.01" fill="rgb(119,119,119)" opacity="0.75"/><circle cx="495.22" cy="126.24" r="1.17" fill="rgb(107,107,107)" opacity="0.75"/><circle cx="476.22" cy="103.59" r="0.71" fill="rgb(133,133,133)" opacity="0.75"/><circle cx="485.83" cy="106.59" r="1.38" fill="rgb(114,114,114)" opacity="0.75"/><circle cx="479.67" cy="99.03" r="0.70" fill="rgb(140,140,140)" opacity="0.75"/><circle cx="472.23" cy="124.19" r="1.07" fill="rgb(91,91,91)" opacity="0.75"/><circle cx="493.44" cy="123.73" r="1.07" fill="rgb(100,100,100)" opacity="0.75"/><circle cx="499.92" cy="116.29" r="1.31" fill="rgb(102,102,102)" opacity="0.75"/><circle cx="489.34" cy="100.74" r="1.16" fill="rgb(110,110,110)" opacity="0.75"/><circle cx="486.41" cy="128.79" r="1.27" fill="rgb(112,112,112)" opacity="0.75"/><circle cx="480.32" cy="128.21" r="0.62" fill="rgb(133,133,133)" opacity="0.75"/><circle cx="492.14" cy="112.66" r="1.05" fill="rgb(104,104,104)" opacity="0.75"/><circle cx="483.33" cy="111.44" r="1.40" fill="rgb(128,128,128)" opacity="0.75"/><circle cx="480.16" cy="124.06" r="0.76" fill="rgb(135,135,135)" opacity="0.75"/><circle cx="473.39" cy="109.56" r="1.38" fill="rgb(100,100,100)" opacity="0.75"/><circle cx="500.17" cy="114.98" r="0.70" fill="rgb(129,129,129)" opacity="0.75"/><circle cx="478.72" cy="110.56" r="0.74" fill="rgb(130,130,130)" opacity="0.75"/><circle cx="496.45" cy="125.89" r="0.74" fill="rgb(111,111,111)" opacity="0.75"/><circle cx="489.99" cy="124.05" r="0.51" fill="rgb(99,99,99)" opacity="0.75"/><circle cx="492.17" cy="129.13" r="1.16" fill="rgb(103,103,103)" opacity="0.75"/><circle cx="481.33" cy="113.03" r="1.25" fill="rgb(110,110,110)" opacity="0.75"/><circle cx="471.50" cy="104.91" r="0.54" fill="rgb(106,106,106)" opacity="0.75"/><circle cx="481.86" cy="127.56" r="1.24" fill="rgb(104,104,104)" opacity="0.75"/><circle cx="486.89" cy="102.87" r="0.82" fill="rgb(118,118,118)" opacity="0.75"/><circle cx="474.55" cy="100.90" r="0.94" fill="rgb(97,97,97)" opacity="0.75"/><circle cx="472.93" cy="123.84" r="1.00" fill="rgb(110,110,110)" opacity="0.75"/><circle cx="474.00" cy="116.36" r="1.34" fill="rgb(128,128,128)" opacity="0.75"/><circle cx="490.68" cy="121.32" r="1.37" fill="rgb(136,136,136)" opacity="0.75"/><circle cx="461.89" cy="112.07" r="1.39" fill="rgb(113,113,113)" opacity="0.75"/><circle cx="490.05" cy="114.22" r="0.75" fill="rgb(128,128,128)" opacity="0.75"/><circle cx="477.03" cy="99.34" r="0.77" fill="rgb(109,109,109)" opacity="0.75"/><circle cx="469.63" cy="113.17" r="1.06" fill="rgb(113,113,113)" opacity="0.75"/><circle cx="489.72" cy="103.70" r="1.25" fill="rgb(119,119,119)" opacity="0.75"/><circle cx="481.66" cy="113.82" r="0.59" fill="rgb(131,131,131)" opacity="0.75"/><circle cx="470.46" cy="103.99" r="0.76" fill="rgb(117,117,117)" opacity="0.75"/><circle cx="496.47" cy="122.87" r="1.37" fill="rgb(95,95,95)" opacity="0.75"/><circle cx="468.18" cy="105.34" r="0.97" fill="rgb(94,94,94)" opacity="0.75"/><circle cx="495.92" cy="117.35" r="1.06" fill="rgb(97,97,97)" opacity="0.75"/><circle cx="488.81" cy="123.59" r="0.97" fill="rgb(97,97,97)" opacity="0.75"/><circle cx="483.42" cy="126.13" r="1.09" fill="rgb(92,92,92)" opacity="0.75"/><circle cx="483.18" cy="115.01" r="1.20" fill="rgb(107,107,107)" opacity="0.75"/><circle cx="463.04" cy="115.05" r="1.26" fill="rgb(97,97,97)" opacity="0.75"/><circle cx="485.69" cy="133.99" r="0.96" fill="rgb(118,118,118)" opacity="0.75"/><circle cx="490.87" cy="125.84" r="0.74" fill="rgb(131,131,131)" opacity="0.75"/><circle cx="490.95" cy="102.08" r="0.90" fill="rgb(122,122,122)" opacity="0.75"/><circle cx="468.95" cy="125.32" r="1.22" fill="rgb(128,128,128)" opacity="0.75"/><circle cx="492.27" cy="105.46" r="0.76" fill="rgb(133,133,133)" opacity="0.75"/><circle cx="470.01" cy="124.24" r="1.13" fill="rgb(130,130,130)" opacity="0.75"/><circle cx="478.69" cy="104.35" r="0.51" fill="rgb(110,110,110)" opacity="0.75"/><circle cx="478.35" cy="109.01" r="0.64" fill="rgb(100,100,100)" opacity="0.75"/><circle cx="479.86" cy="118.87" r="1.14" fill="rgb(102,102,102)" opacity="0.75"/><circle cx="465.11" cy="120.18" r="0.60" fill="rgb(94,94,94)" opacity="0.75"/><circle cx="483.70" cy="125.14" r="0.72" fill="rgb(125,125,125)" opacity="0.75"/><circle cx="467.39" cy="124.12" r="1.12" fill="rgb(94,94,94)" opacity="0.75"/><circle cx="494.37" cy="103.96" r="1.09" fill="rgb(133,133,133)" opacity="0.75"/><circle cx="481.70" cy="102.60" r="1.12" fill="rgb(125,125,125)" opacity="0.75"/><circle cx="472.10" cy="124.97" r="0.79" fill="rgb(135,135,135)" opacity="0.75"/><circle cx="492.52" cy="130.69" r="1.38" fill="rgb(138,138,138)" opacity="0.75"/><circle cx="472.37" cy="126.93" r="1.35" fill="rgb(98,98,98)" opacity="0.75"/><circle cx="479.13" cy="110.36" r="0.54" fill="rgb(131,131,131)" opacity="0.75"/><circle cx="467.05" cy="128.12" r="0.86" fill="rgb(92,92,92)" opacity="0.75"/><circle cx="488.68" cy="131.21" r="0.93" fill="rgb(110,110,110)" opacity="0.75"/><circle cx="472.64" cy="117.28" r="0.73" fill="rgb(125,125,125)" opacity="0.75"/><circle cx="485.51" cy="123.05" r="0.95" fill="rgb(112,112,112)" opacity="0.75"/><circle cx="461.73" cy="118.30" r="1.01" fill="rgb(96,96,96)" opacity="0.75"/><circle cx="489.69" cy="109.88" r="0.52" fill="rgb(94,94,94)" opacity="0.75"/><circle cx="493.81" cy="105.91" r="1.12" fill="rgb(94,94,94)" opacity="0.75"/><circle cx="499.70" cy="116.28" r="1.23" fill="rgb(118,118,118)" opacity="0.75"/><circle cx="472.35" cy="119.34" r="0.59" fill="rgb(108,108,108)" opacity="0.75"/><circle cx="485.06" cy="101.46" r="1.36" fill="rgb(140,140,140)" opacity="0.75"/><circle cx="463.68" cy="124.20" r="1.33" fill="rgb(94,94,94)" opacity="0.75"/><circle cx="490.65" cy="112.91" r="0.72" fill="rgb(128,128,128)" opacity="0.75"/><circle cx="482.26" cy="134.49" r="0.58" fill="rgb(135,135,135)" opacity="0.75"/><circle cx="474.15" cy="115.74" r="1.07" fill="rgb(133,133,133)" opacity="0.75"/><circle cx="481.11" cy="133.13" r="0.59" fill="rgb(130,130,130)" opacity="0.75"/><circle cx="470.93" cy="131.61" r="1.40" fill="rgb(98,98,98)" opacity="0.75"/><circle cx="477.92" cy="100.43" r="0.81" fill="rgb(111,111,111)" opacity="0.75"/><circle cx="486.44" cy="98.42" r="0.99" fill="rgb(114,114,114)" opacity="0.75"/><circle cx="478.83" cy="99.96" r="1.19" fill="rgb(91,91,91)" opacity="0.75"/><circle cx="468.47" cy="103.22" r="0.77" fill="rgb(94,94,94)" opacity="0.75"/><circle cx="480.84" cy="103.80" r="0.61" fill="rgb(115,115,115)" opacity="0.75"/><circle cx="464.20" cy="120.25" r="1.27" fill="rgb(124,124,124)" opacity="0.75"/><circle cx="472.83" cy="128.71" r="1.38" fill="rgb(123,123,123)" opacity="0.75"/><circle cx="477.04" cy="132.73" r="0.56" fill="rgb(107,107,107)" opacity="0.75"/><circle cx="477.57" cy="99.50" r="0.54" fill="rgb(106,106,106)" opacity="0.75"/><circle cx="469.49" cy="123.02" r="0.61" fill="rgb(122,122,122)" opacity="0.75"/><circle cx="484.10" cy="101.29" r="0.73" fill="rgb(116,116,116)" opacity="0.75"/><circle cx="467.72" cy="114.29" r="1.34" fill="rgb(140,140,140)" opacity="0.75"/><circle cx="466.94" cy="130.10" r="0.68" fill="rgb(110,110,110)" opacity="0.75"/><circle cx="493.61" cy="107.44" r="0.94" fill="rgb(131,131,131)" opacity="0.75"/><circle cx="471.77" cy="124.95" r="1.33" fill="rgb(121,121,121)" opacity="0.75"/><circle cx="486.33" cy="134.75" r="1.12" fill="rgb(139,139,139)" opacity="0.75"/><circle cx="467.76" cy="112.19" r="0.78" fill="rgb(122,122,122)" opacity="0.75"/><circle cx="493.40" cy="131.03" r="1.10" fill="rgb(116,116,116)" opacity="0.75"/><circle cx="497.02" cy="125.92" r="0.63" fill="rgb(110,110,110)" opacity="0.75"/><circle cx="480.68" cy="124.90" r="0.76" fill="rgb(99,99,99)" opacity="0.75"/><circle cx="476.33" cy="119.52" r="0.91" fill="rgb(126,126,126)" opacity="0.75"/><circle cx="474.92" cy="117.29" r="0.53" fill="rgb(92,92,92)" opacity="0.75"/><circle cx="484.56" cy="114.09" r="1.09" fill="rgb(129,129,129)" opacity="0.75"/><circle cx="480.17" cy="133.04" r="0.98" fill="rgb(123,123,123)" opacity="0.75"/><circle cx="482.37" cy="118.28" r="1.17" fill="rgb(93,93,93)" opacity="0.75"/><circle cx="483.76" cy="110.64" r="0.64" fill="rgb(135,135,135)" opacity="0.75"/><circle cx="473.64" cy="115.02" r="1.07" fill="rgb(90,90,90)" opacity="0.75"/><circle cx="474.39" cy="100.26" r="0.79" fill="rgb(130,130,130)" opacity="0.75"/><circle cx="470.53" cy="131.08" r="1.14" fill="rgb(127,127,127)" opacity="0.75"/><circle cx="479.71" cy="112.33" r="0.89" fill="rgb(114,114,114)" opacity="0.75"/><circle cx="474.85" cy="104.99" r="1.24" fill="rgb(98,98,98)" opacity="0.75"/><circle cx="495.85" cy="110.10" r="1.15" fill="rgb(103,103,103)" opacity="0.75"/><circle cx="493.25" cy="116.50" r="0.59" fill="rgb(134,134,134)" opacity="0.75"/><circle cx="472.00" cy="110.78" r="0.84" fill="rgb(135,135,135)" opacity="0.75"/><circle cx="489.47" cy="118.28" r="0.67" fill="rgb(139,139,139)" opacity="0.75"/><circle cx="486.02" cy="125.83" r="0.68" fill="rgb(90,90,90)" opacity="0.75"/><circle cx="476.87" cy="101.18" r="0.93" fill="rgb(105,105,105)" opacity="0.75"/><circle cx="463.10" cy="109.19" r="0.83" fill="rgb(98,98,98)" opacity="0.75"/><circle cx="474.78" cy="106.99" r="1.37" fill="rgb(122,122,122)" opacity="0.75"/><circle cx="473.34" cy="103.01" r="0.65" fill="rgb(134,134,134)" opacity="0.75"/><circle cx="473.34" cy="124.66" r="0.56" fill="rgb(173,173,173)" opacity="0.7"/><circle cx="497.68" cy="113.65" r="0.57" fill="rgb(186,186,186)" opacity="0.7"/><circle cx="487.93" cy="129.52" r="0.98" fill="rgb(181,181,181)" opacity="0.7"/><circle cx="474.87" cy="132.58" r="0.90" fill="rgb(182,182,182)" opacity="0.7"/><circle cx="492.40" cy="104.59" r="0.68" fill="rgb(182,182,182)" opacity="0.7"/><circle cx="494.79" cy="117.76" r="0.61" fill="rgb(194,194,194)" opacity="0.7"/><circle cx="462.98" cy="112.65" r="0.99" fill="rgb(166,166,166)" opacity="0.7"/><circle cx="482.96" cy="113.24" r="0.85" fill="rgb(177,177,177)" opacity="0.7"/><circle cx="472.50" cy="124.43" r="0.80" fill="rgb(195,195,195)" opacity="0.7"/><circle cx="493.10" cy="102.34" r="0.76" fill="rgb(170,170,170)" opacity="0.7"/><circle cx="496.86" cy="108.00" r="0.74" fill="rgb(179,179,179)" opacity="0.7"/><circle cx="488.34" cy="112.86" r="0.85" fill="rgb(191,191,191)" opacity="0.7"/><circle cx="476.26" cy="119.84" r="0.80" fill="rgb(171,171,171)" opacity="0.7"/><circle cx="475.82" cy="126.65" r="0.57" fill="rgb(168,168,168)" opacity="0.7"/><circle cx="482.13" cy="106.22" r="0.54" fill="rgb(183,183,183)" opacity="0.7"/><circle cx="470.19" cy="103.85" r="0.97" fill="rgb(174,174,174)" opacity="0.7"/><circle cx="485.09" cy="110.79" r="0.53" fill="rgb(182,182,182)" opacity="0.7"/><circle cx="469.68" cy="115.27" r="0.48" fill="rgb(174,174,174)" opacity="0.7"/><circle cx="465.76" cy="108.20" r="0.57" fill="rgb(166,166,166)" opacity="0.7"/><circle cx="480.09" cy="106.29" r="0.86" fill="rgb(194,194,194)" opacity="0.7"/><circle cx="484.75" cy="128.58" r="0.82" fill="rgb(165,165,165)" opacity="0.7"/><circle cx="469.69" cy="105.47" r="0.49" fill="rgb(172,172,172)" opacity="0.7"/><circle cx="483.13" cy="133.85" r="0.86" fill="rgb(166,166,166)" opacity="0.7"/><circle cx="492.40" cy="114.81" r="0.82" fill="rgb(193,193,193)" opacity="0.7"/><circle cx="469.15" cy="112.59" r="0.57" fill="rgb(192,192,192)" opacity="0.7"/><circle cx="497.72" cy="110.04" r="0.81" fill="rgb(170,170,170)" opacity="0.7"/><circle cx="468.97" cy="102.64" r="0.78" fill="rgb(165,165,165)" opacity="0.7"/><circle cx="474.96" cy="128.03" r="0.50" fill="rgb(169,169,169)" opacity="0.7"/><circle cx="489.36" cy="105.40" r="0.95" fill="rgb(182,182,182)" opacity="0.7"/><circle cx="493.39" cy="103.27" r="0.87" fill="rgb(169,169,169)" opacity="0.7"/><circle cx="493.76" cy="126.08" r="0.44" fill="rgb(195,195,195)" opacity="0.7"/><circle cx="478.46" cy="127.74" r="0.82" fill="rgb(179,179,179)" opacity="0.7"/><circle cx="469.46" cy="103.57" r="0.42" fill="rgb(175,175,175)" opacity="0.7"/><circle cx="494.18" cy="125.49" r="0.93" fill="rgb(175,175,175)" opacity="0.7"/><circle cx="492.44" cy="108.14" r="0.60" fill="rgb(170,170,170)" opacity="0.7"/><circle cx="472.38" cy="113.88" r="0.40" fill="rgb(181,181,181)" opacity="0.7"/><circle cx="469.92" cy="107.88" r="0.77" fill="rgb(195,195,195)" opacity="0.7"/><circle cx="467.39" cy="104.68" r="0.46" fill="rgb(184,184,184)" opacity="0.7"/><circle cx="478.56" cy="123.15" r="0.51" fill="rgb(177,177,177)" opacity="0.7"/><circle cx="465.05" cy="119.66" r="0.49" fill="rgb(185,185,185)" opacity="0.7"/><circle cx="479.44" cy="104.80" r="0.94" fill="rgb(195,195,195)" opacity="0.7"/><circle cx="477.83" cy="119.15" r="0.46" fill="rgb(168,168,168)" opacity="0.7"/><circle cx="478.61" cy="115.75" r="0.73" fill="rgb(180,180,180)" opacity="0.7"/><circle cx="472.91" cy="103.28" r="0.76" fill="rgb(189,189,189)" opacity="0.7"/><circle cx="461.90" cy="116.10" r="0.52" fill="rgb(176,176,176)" opacity="0.7"/><circle cx="477.00" cy="110.05" r="0.42" fill="rgb(189,189,189)" opacity="0.7"/><circle cx="483.27" cy="127.54" r="0.96" fill="rgb(191,191,191)" opacity="0.7"/><circle cx="496.96" cy="116.41" r="0.47" fill="rgb(184,184,184)" opacity="0.7"/><circle cx="486.04" cy="100.90" r="0.88" fill="rgb(171,171,171)" opacity="0.7"/><circle cx="462.64" cy="117.50" r="0.40" fill="rgb(172,172,172)" opacity="0.7"/><circle cx="481.26" cy="111.67" r="0.86" fill="rgb(171,171,171)" opacity="0.7"/><circle cx="489.20" cy="125.67" r="0.51" fill="rgb(177,177,177)" opacity="0.7"/><circle cx="495.29" cy="110.08" r="0.67" fill="rgb(171,171,171)" opacity="0.7"/><circle cx="495.00" cy="118.85" r="0.81" fill="rgb(189,189,189)" opacity="0.7"/><circle cx="481.93" cy="97.62" r="0.98" fill="rgb(166,166,166)" opacity="0.7"/><circle cx="476.17" cy="110.34" r="0.50" fill="rgb(182,182,182)" opacity="0.7"/><circle cx="484.75" cy="121.63" r="0.76" fill="rgb(166,166,166)" opacity="0.7"/><circle cx="474.68" cy="110.17" r="0.60" fill="rgb(195,195,195)" opacity="0.7"/><circle cx="483.32" cy="133.49" r="0.96" fill="rgb(179,179,179)" opacity="0.7"/><circle cx="476.69" cy="127.01" r="0.65" fill="rgb(171,171,171)" opacity="0.7"/><circle cx="487.29" cy="128.28" r="0.94" fill="rgb(166,166,166)" opacity="0.7"/><circle cx="473.43" cy="121.50" r="0.81" fill="rgb(193,193,193)" opacity="0.7"/><circle cx="481.07" cy="98.69" r="0.84" fill="rgb(182,182,182)" opacity="0.7"/><circle cx="466.69" cy="126.35" r="0.91" fill="rgb(182,182,182)" opacity="0.7"/><circle cx="498.25" cy="113.97" r="0.49" fill="rgb(178,178,178)" opacity="0.7"/><circle cx="498.44" cy="124.44" r="0.62" fill="rgb(180,180,180)" opacity="0.7"/><circle cx="491.50" cy="120.04" r="0.66" fill="rgb(190,190,190)" opacity="0.7"/><circle cx="466.48" cy="109.99" r="0.84" fill="rgb(167,167,167)" opacity="0.7"/><circle cx="473.03" cy="121.71" r="0.83" fill="rgb(189,189,189)" opacity="0.7"/><circle cx="465.79" cy="109.27" r="0.58" fill="rgb(178,178,178)" opacity="0.7"/><circle cx="474.81" cy="130.43" r="0.97" fill="rgb(194,194,194)" opacity="0.7"/><circle cx="490.94" cy="127.45" r="0.61" fill="rgb(180,180,180)" opacity="0.7"/><circle cx="463.92" cy="123.01" r="0.54" fill="rgb(190,190,190)" opacity="0.7"/><circle cx="490.05" cy="117.39" r="0.43" fill="rgb(185,185,185)" opacity="0.7"/><circle cx="477.24" cy="100.18" r="0.71" fill="rgb(175,175,175)" opacity="0.7"/><circle cx="468.53" cy="119.46" r="0.45" fill="rgb(177,177,177)" opacity="0.7"/><circle cx="493.94" cy="108.51" r="0.85" fill="rgb(178,178,178)" opacity="0.7"/><circle cx="483.37" cy="98.30" r="0.81" fill="rgb(184,184,184)" opacity="0.7"/><circle cx="469.25" cy="107.64" r="0.85" fill="rgb(176,176,176)" opacity="0.7"/><circle cx="497.41" cy="107.13" r="0.77" fill="rgb(185,185,185)" opacity="0.7"/><circle cx="474.88" cy="106.15" r="0.75" fill="rgb(182,182,182)" opacity="0.7"/><circle cx="485.26" cy="124.12" r="0.99" fill="rgb(188,188,188)" opacity="0.7"/><circle cx="483.21" cy="135.58" r="0.56" fill="rgb(175,175,175)" opacity="0.7"/><circle cx="475.47" cy="102.73" r="0.84" fill="rgb(168,168,168)" opacity="0.7"/><circle cx="476.60" cy="114.01" r="0.69" fill="rgb(172,172,172)" opacity="0.7"/><circle cx="490.23" cy="105.64" r="0.87" fill="rgb(184,184,184)" opacity="0.7"/><circle cx="497.23" cy="120.91" r="0.60" fill="rgb(171,171,171)" opacity="0.7"/><circle cx="490.63" cy="106.47" r="0.85" fill="rgb(174,174,174)" opacity="0.7"/><circle cx="470.99" cy="114.38" r="0.56" fill="rgb(171,171,171)" opacity="0.7"/><circle cx="492.03" cy="114.27" r="0.49" fill="rgb(190,190,190)" opacity="0.7"/><circle cx="473.17" cy="102.80" r="0.40" fill="rgb(170,170,170)" opacity="0.7"/><circle cx="499.77" cy="115.23" r="0.45" fill="rgb(182,182,182)" opacity="0.7"/><circle cx="483.70" cy="129.72" r="0.52" fill="rgb(168,168,168)" opacity="0.7"/><circle cx="465.50" cy="124.67" r="0.87" fill="rgb(176,176,176)" opacity="0.7"/><circle cx="465.70" cy="124.84" r="0.42" fill="rgb(171,171,171)" opacity="0.7"/><circle cx="465.49" cy="109.21" r="0.63" fill="rgb(171,171,171)" opacity="0.7"/><circle cx="475.17" cy="130.93" r="0.75" fill="rgb(170,170,170)" opacity="0.7"/><circle cx="465.41" cy="121.39" r="0.87" fill="rgb(189,189,189)" opacity="0.7"/><circle cx="468.03" cy="120.97" r="0.45" fill="rgb(180,180,180)" opacity="0.7"/><circle cx="470.40" cy="127.09" r="0.70" fill="rgb(172,172,172)" opacity="0.7"/><circle cx="485.48" cy="100.63" r="0.97" fill="rgb(179,179,179)" opacity="0.7"/><circle cx="477.20" cy="106.86" r="1.00" fill="rgb(184,184,184)" opacity="0.7"/><circle cx="473.90" cy="133.35" r="0.81" fill="rgb(194,194,194)" opacity="0.7"/><circle cx="468.78" cy="123.56" r="0.88" fill="rgb(189,189,189)" opacity="0.7"/><circle cx="478.61" cy="115.79" r="0.91" fill="rgb(177,177,177)" opacity="0.7"/><circle cx="492.23" cy="110.78" r="0.97" fill="rgb(195,195,195)" opacity="0.7"/><circle cx="465.61" cy="112.49" r="0.70" fill="rgb(175,175,175)" opacity="0.7"/><circle cx="486.78" cy="116.87" r="0.67" fill="rgb(183,183,183)" opacity="0.7"/><circle cx="492.86" cy="113.70" r="0.41" fill="rgb(191,191,191)" opacity="0.7"/><circle cx="471.06" cy="133.27" r="0.78" fill="rgb(170,170,170)" opacity="0.7"/><circle cx="472.61" cy="113.19" r="0.72" fill="rgb(186,186,186)" opacity="0.7"/><circle cx="491.66" cy="120.54" r="0.71" fill="rgb(173,173,173)" opacity="0.7"/><circle cx="481.70" cy="134.49" r="0.45" fill="rgb(171,171,171)" opacity="0.7"/><circle cx="480.60" cy="135.09" r="0.99" fill="rgb(192,192,192)" opacity="0.7"/><circle cx="470.94" cy="108.80" r="0.99" fill="rgb(175,175,175)" opacity="0.7"/><circle cx="498.97" cy="117.03" r="0.60" fill="rgb(172,172,172)" opacity="0.7"/><circle cx="464.45" cy="121.07" r="0.47" fill="rgb(184,184,184)" opacity="0.7"/><circle cx="464.26" cy="115.54" r="0.45" fill="rgb(175,175,175)" opacity="0.7"/><circle cx="490.22" cy="105.22" r="0.42" fill="rgb(183,183,183)" opacity="0.7"/><circle cx="497.39" cy="121.76" r="0.88" fill="rgb(181,181,181)" opacity="0.7"/><circle cx="468.43" cy="115.87" r="0.94" fill="rgb(178,178,178)" opacity="0.7"/><circle cx="480.39" cy="102.11" r="0.94" fill="rgb(185,185,185)" opacity="0.7"/><circle cx="492.76" cy="123.62" r="0.63" fill="rgb(189,189,189)" opacity="0.7"/><circle cx="487.13" cy="111.36" r="0.56" fill="rgb(174,174,174)" opacity="0.7"/><circle cx="490.57" cy="127.57" r="0.63" fill="rgb(172,172,172)" opacity="0.7"/><circle cx="469.09" cy="113.56" r="0.90" fill="rgb(191,191,191)" opacity="0.7"/><circle cx="489.73" cy="100.85" r="0.65" fill="rgb(187,187,187)" opacity="0.7"/><circle cx="482.45" cy="112.79" r="0.48" fill="rgb(169,169,169)" opacity="0.7"/><circle cx="484.34" cy="114.31" r="0.55" fill="rgb(167,167,167)" opacity="0.7"/><circle cx="491.08" cy="116.49" r="0.57" fill="rgb(184,184,184)" opacity="0.7"/><circle cx="493.55" cy="102.42" r="0.63" fill="rgb(191,191,191)" opacity="0.7"/><circle cx="497.03" cy="126.15" r="0.78" fill="rgb(190,190,190)" opacity="0.7"/><circle cx="485.91" cy="128.70" r="0.51" fill="rgb(176,176,176)" opacity="0.7"/><circle cx="492.63" cy="104.10" r="0.90" fill="rgb(168,168,168)" opacity="0.7"/><circle cx="487.76" cy="125.52" r="0.88" fill="rgb(165,165,165)" opacity="0.7"/><circle cx="468.53" cy="122.24" r="0.40" fill="rgb(171,171,171)" opacity="0.7"/><circle cx="477.40" cy="107.29" r="0.48" fill="rgb(165,165,165)" opacity="0.7"/><circle cx="486.82" cy="121.01" r="0.62" fill="rgb(183,183,183)" opacity="0.7"/><circle cx="492.85" cy="108.05" r="0.67" fill="rgb(166,166,166)" opacity="0.7"/><circle cx="466.31" cy="127.75" r="0.44" fill="rgb(182,182,182)" opacity="0.7"/><circle cx="498.29" cy="109.14" r="0.62" fill="rgb(166,166,166)" opacity="0.7"/><circle cx="490.73" cy="127.55" r="0.78" fill="rgb(165,165,165)" opacity="0.7"/><circle cx="484.66" cy="124.33" r="0.82" fill="rgb(178,178,178)" opacity="0.7"/><circle cx="489.83" cy="132.88" r="0.68" fill="rgb(185,185,185)" opacity="0.7"/><circle cx="483.53" cy="105.20" r="0.66" fill="rgb(175,175,175)" opacity="0.7"/><circle cx="473.27" cy="110.47" r="0.51" fill="rgb(165,165,165)" opacity="0.7"/><circle cx="489.79" cy="110.21" r="0.79" fill="rgb(187,187,187)" opacity="0.7"/><circle cx="466.82" cy="104.87" r="0.50" fill="rgb(191,191,191)" opacity="0.7"/><circle cx="493.38" cy="117.13" r="0.78" fill="rgb(191,191,191)" opacity="0.7"/><circle cx="482.99" cy="104.84" r="0.91" fill="rgb(172,172,172)" opacity="0.7"/><circle cx="484.48" cy="106.34" r="0.78" fill="rgb(168,168,168)" opacity="0.7"/><circle cx="466.51" cy="116.66" r="0.83" fill="rgb(179,179,179)" opacity="0.7"/><circle cx="477.85" cy="134.34" r="0.84" fill="rgb(188,188,188)" opacity="0.7"/><circle cx="494.01" cy="118.10" r="0.58" fill="rgb(195,195,195)" opacity="0.7"/><circle cx="476.84" cy="100.83" r="0.81" fill="rgb(180,180,180)" opacity="0.7"/><circle cx="500.16" cy="119.28" r="0.91" fill="rgb(166,166,166)" opacity="0.7"/><circle cx="473.10" cy="124.49" r="0.49" fill="rgb(185,185,185)" opacity="0.7"/><circle cx="467.24" cy="120.49" r="0.43" fill="rgb(167,167,167)" opacity="0.7"/><circle cx="481.10" cy="120.16" r="0.58" fill="rgb(189,189,189)" opacity="0.7"/><circle cx="480.38" cy="114.26" r="0.92" fill="rgb(186,186,186)" opacity="0.7"/></g>
<line x1="493.20" y1="93.10" x2="502.30" y2="93.10" stroke="#aaaaaa" stroke-width="1.1"/>
<circle cx="503.20" cy="92.10" r="0.50" fill="#aaa" />
<text x="50.30" y="51.10" font-size="10.4" text-anchor="middle" fill="#151515" stroke="#151515" stroke-width="0.15" textLength="10.9" lengthAdjust="spacingAndGlyphs" >35</text>
<text x="98.65" y="51.10" font-size="10.4" text-anchor="middle" fill="#151515" stroke="#151515" stroke-width="0.15" textLength="5.799999999999992" lengthAdjust="spacingAndGlyphs" >9</text>
<text x="149.35" y="51.10" font-size="10.4" text-anchor="middle" fill="#151515" stroke="#151515" stroke-width="0.15" textLength="5.800000000000006" lengthAdjust="spacingAndGlyphs" >5</text>
<text x="200.00" y="51.10" font-size="10.4" text-anchor="middle" fill="#151515" stroke="#151515" stroke-width="0.15" textLength="3.9" lengthAdjust="spacingAndGlyphs" >1</text>
<text x="248.85" y="51.10" font-size="10.4" text-anchor="middle" fill="#151515" stroke="#151515" stroke-width="0.15" textLength="6.200000000000012" lengthAdjust="spacingAndGlyphs" >6</text>
<text x="299.25" y="51.10" font-size="10.4" text-anchor="middle" fill="#151515" stroke="#151515" stroke-width="0.15" textLength="6.4" lengthAdjust="spacingAndGlyphs" >0</text>
<text x="349.60" y="51.10" font-size="10.4" text-anchor="middle" fill="#151515" stroke="#151515" stroke-width="0.15" textLength="6.3000000000000345" lengthAdjust="spacingAndGlyphs" >0</text>
<text x="407.75" y="51.10" font-size="10.4" text-anchor="middle" fill="#151515" stroke="#151515" stroke-width="0.15" textLength="6.4" lengthAdjust="spacingAndGlyphs" >0</text>
<text x="461.60" y="51.10" font-size="10.4" text-anchor="middle" fill="#151515" stroke="#151515" stroke-width="0.15" textLength="20.099999999999987" lengthAdjust="spacingAndGlyphs" >476*</text>
<text x="48.15" y="101.60" font-size="10.4" text-anchor="middle" fill="#151515" stroke="#151515" stroke-width="0.15" textLength="16.0" lengthAdjust="spacingAndGlyphs" >146</text>
<text x="101.00" y="101.60" font-size="10.4" text-anchor="middle" fill="#151515" stroke="#151515" stroke-width="0.15" textLength="10.9" lengthAdjust="spacingAndGlyphs" >98</text>
<text x="149.50" y="101.60" font-size="10.4" text-anchor="middle" fill="#151515" stroke="#151515" stroke-width="0.15" textLength="15.500000000000023" lengthAdjust="spacingAndGlyphs" >102</text>
<text x="199.40" y="101.60" font-size="10.4" text-anchor="middle" fill="#151515" stroke="#151515" stroke-width="0.15" textLength="16.300000000000004" lengthAdjust="spacingAndGlyphs" >120</text>
<text x="247.20" y="101.60" font-size="10.4" text-anchor="middle" fill="#151515" stroke="#151515" stroke-width="0.15" textLength="10.9" lengthAdjust="spacingAndGlyphs" >56</text>
<text x="297.10" y="101.60" font-size="10.4" text-anchor="middle" fill="#151515" stroke="#151515" stroke-width="0.15" textLength="11.700000000000012" lengthAdjust="spacingAndGlyphs" >43</text>
<text x="349.85" y="101.60" font-size="10.4" text-anchor="middle" fill="#151515" stroke="#151515" stroke-width="0.15" textLength="11.599999999999989" lengthAdjust="spacingAndGlyphs" >52</text>
<text x="407.55" y="101.60" font-size="10.4" text-anchor="middle" fill="#151515" stroke="#151515" stroke-width="0.15" textLength="7.000000000000023" lengthAdjust="spacingAndGlyphs" >0</text>
<text x="459.45" y="101.60" font-size="10.4" text-anchor="middle" fill="#151515" stroke="#151515" stroke-width="0.15" textLength="15.799999999999978" lengthAdjust="spacingAndGlyphs" >649</text>
<circle cx="404.10" cy="41.80" r="0.80" fill="#aaa" />
<circle cx="404.10" cy="92.80" r="0.80" fill="#aaa" />
<rect x="36.70" y="151.80" width="49.85" height="9.00" fill="#f9dde3" />
<rect x="86.55" y="151.80" width="49.85" height="9.00" fill="#fdf0f3" />
<rect x="136.40" y="151.80" width="49.85" height="9.00" fill="#c8102e" />
<rect x="186.25" y="151.80" width="49.85" height="9.00" fill="#ffffff" />
<rect x="236.10" y="151.80" width="49.85" height="9.00" fill="#fae1e6" />
<rect x="285.95" y="151.80" width="49.85" height="9.00" fill="#fbe6ea" />
<rect x="335.80" y="151.80" width="49.85" height="9.00" fill="#f5cad2" />
<rect x="385.65" y="151.80" width="49.85" height="9.00" fill="#ffffff" />
<rect x="36.70" y="160.80" width="49.85" height="9.00" fill="#f7d4db" />
<rect x="86.55" y="160.80" width="49.85" height="9.00" fill="#f2bfc9" />
<rect x="136.40" y="160.80" width="49.85" height="9.00" fill="#fbe5ea" />
<rect x="186.25" y="160.80" width="49.85" height="9.00" fill="#fce8ec" />
<rect x="236.10" y="160.80" width="49.85" height="9.00" fill="#eba0ae" />
<rect x="285.95" y="160.80" width="49.85" height="9.00" fill="#f0b4bf" />
<rect x="335.80" y="160.80" width="49.85" height="9.00" fill="#fdf1f3" />
<rect x="385.65" y="160.80" width="49.85" height="9.00" fill="#ffffff" />
<rect x="36.70" y="169.80" width="49.85" height="9.00" fill="#fbe7eb" />
<rect x="86.55" y="169.80" width="49.85" height="9.00" fill="#fce8ec" />
<rect x="136.40" y="169.80" width="49.85" height="9.00" fill="#d6405a" />
<rect x="186.25" y="169.80" width="49.85" height="9.00" fill="#ffffff" />
<rect x="236.10" y="169.80" width="49.85" height="9.00" fill="#f8d8de" />
<rect x="285.95" y="169.80" width="49.85" height="9.00" fill="#eda8b5" />
<rect x="335.80" y="169.80" width="49.85" height="9.00" fill="#fce9ed" />
<rect x="385.65" y="169.80" width="49.85" height="9.00" fill="#ffffff" />
<rect x="36.70" y="178.80" width="49.85" height="9.00" fill="#fce9ed" />
<rect x="86.55" y="178.80" width="49.85" height="9.00" fill="#fbe5e9" />
<rect x="136.40" y="178.80" width="49.85" height="9.00" fill="#e88f9f" />
<rect x="186.25" y="178.80" width="49.85" height="9.00" fill="#fce9ed" />
<rect x="236.10" y="178.80" width="49.85" height="9.00" fill="#efaab7" />
<rect x="285.95" y="178.80" width="49.85" height="9.00" fill="#f6ccd4" />
<rect x="335.80" y="178.80" width="49.85" height="9.00" fill="#f5cad2" />
<rect x="385.65" y="178.80" width="49.85" height="9.00" fill="#ffffff" />
<rect x="36.70" y="187.80" width="49.85" height="9.00" fill="#fbe3e8" />
<rect x="86.55" y="187.80" width="49.85" height="9.00" fill="#fbe5e9" />
<rect x="136.40" y="187.80" width="49.85" height="9.00" fill="#fdeef1" />
<rect x="186.25" y="187.80" width="49.85" height="9.00" fill="#fdf0f3" />
<rect x="236.10" y="187.80" width="49.85" height="9.00" fill="#e07487" />
<rect x="285.95" y="187.80" width="49.85" height="9.00" fill="#d13b56" />
<rect x="335.80" y="187.80" width="49.85" height="9.00" fill="#ffffff" />
<rect x="385.65" y="187.80" width="49.85" height="9.00" fill="#ffffff" />
<rect x="36.70" y="196.80" width="49.85" height="9.00" fill="#f1bbc6" />
<rect x="86.55" y="196.80" width="49.85" height="9.00" fill="#fdf3f5" />
<rect x="136.40" y="196.80" width="49.85" height="9.00" fill="#f8d9df" />
<rect x="186.25" y="196.80" width="49.85" height="9.00" fill="#fdf0f3" />
<rect x="236.10" y="196.80" width="49.85" height="9.00" fill="#eda4b2" />
<rect x="285.95" y="196.80" width="49.85" height="9.00" fill="#eda6b3" />
<rect x="335.80" y="196.80" width="49.85" height="9.00" fill="#fde9ed" />
<rect x="385.65" y="196.80" width="49.85" height="9.00" fill="#ffffff" />
<rect x="36.70" y="205.80" width="49.85" height="9.00" fill="#f1bbc6" />
<rect x="86.55" y="205.80" width="49.85" height="9.00" fill="#fdf3f5" />
<rect x="136.40" y="205.80" width="49.85" height="9.00" fill="#f7d3da" />
<rect x="186.25" y="205.80" width="49.85" height="9.00" fill="#fdf3f5" />
<rect x="236.10" y="205.80" width="49.85" height="9.00" fill="#f6cfd7" />
<rect x="285.95" y="205.80" width="49.85" height="9.00" fill="#d8506a" />
<rect x="335.80" y="205.80" width="49.85" height="9.00" fill="#fdeef1" />
<rect x="385.65" y="205.80" width="49.85" height="9.00" fill="#ffffff" />
<line x1="36.20" y1="151.80" x2="436.00" y2="151.80" stroke="rgba(0,0,0,0.36)" stroke-width="1.4"/>
<line x1="36.20" y1="160.80" x2="436.00" y2="160.80" stroke="rgba(0,0,0,0.36)" stroke-width="1.4"/>
<line x1="36.20" y1="169.80" x2="436.00" y2="169.80" stroke="rgba(0,0,0,0.36)" stroke-width="1.4"/>
<line x1="36.20" y1="178.80" x2="436.00" y2="178.80" stroke="rgba(0,0,0,0.36)" stroke-width="1.4"/>
<line x1="36.20" y1="187.80" x2="436.00" y2="187.80" stroke="rgba(0,0,0,0.36)" stroke-width="1.4"/>
<line x1="36.20" y1="196.80" x2="436.00" y2="196.80" stroke="rgba(0,0,0,0.36)" stroke-width="1.4"/>
<line x1="36.20" y1="205.80" x2="436.00" y2="205.80" stroke="rgba(0,0,0,0.36)" stroke-width="1.4"/>
<line x1="36.20" y1="214.80" x2="436.00" y2="214.80" stroke="rgba(0,0,0,0.36)" stroke-width="1.4"/>
<line x1="36.70" y1="151.10" x2="36.70" y2="215.50" stroke="rgba(0,0,0,0.62)" stroke-width="1.0"/>
<line x1="86.55" y1="151.10" x2="86.55" y2="215.50" stroke="rgba(0,0,0,0.62)" stroke-width="1.0"/>
<line x1="136.40" y1="151.10" x2="136.40" y2="215.50" stroke="rgba(0,0,0,0.62)" stroke-width="1.0"/>
<line x1="186.25" y1="151.10" x2="186.25" y2="215.50" stroke="rgba(0,0,0,0.62)" stroke-width="1.0"/>
<line x1="236.10" y1="151.10" x2="236.10" y2="215.50" stroke="rgba(0,0,0,0.62)" stroke-width="1.0"/>
<line x1="285.95" y1="151.10" x2="285.95" y2="215.50" stroke="rgba(0,0,0,0.62)" stroke-width="1.0"/>
<line x1="335.80" y1="151.10" x2="335.80" y2="215.50" stroke="rgba(0,0,0,0.62)" stroke-width="1.0"/>
<line x1="385.65" y1="151.10" x2="385.65" y2="215.50" stroke="rgba(0,0,0,0.62)" stroke-width="1.0"/>
<line x1="435.50" y1="151.10" x2="435.50" y2="215.50" stroke="rgba(0,0,0,0.62)" stroke-width="1.0"/>
<line x1="33.50" y1="156.30" x2="37.00" y2="156.30" stroke="#222" stroke-width="0.9"/>
<text x="32.40" y="159.20" font-size="8.3" text-anchor="end" fill="#151515" stroke="#151515" stroke-width="0.04" textLength="9.6" lengthAdjust="spacingAndGlyphs" >#A</text>
<line x1="33.50" y1="165.30" x2="37.00" y2="165.30" stroke="#222" stroke-width="0.9"/>
<text x="32.40" y="168.20" font-size="8.3" text-anchor="end" fill="#151515" stroke="#151515" stroke-width="0.04" textLength="9.6" lengthAdjust="spacingAndGlyphs" >#B</text>
<line x1="33.50" y1="174.30" x2="37.00" y2="174.30" stroke="#222" stroke-width="0.9"/>
<text x="32.40" y="177.20" font-size="8.3" text-anchor="end" fill="#151515" stroke="#151515" stroke-width="0.04" textLength="9.6" lengthAdjust="spacingAndGlyphs" >#C</text>
<line x1="33.50" y1="183.30" x2="37.00" y2="183.30" stroke="#222" stroke-width="0.9"/>
<text x="32.40" y="186.20" font-size="8.3" text-anchor="end" fill="#151515" stroke="#151515" stroke-width="0.04" textLength="9.6" lengthAdjust="spacingAndGlyphs" >#D</text>
<line x1="33.50" y1="192.30" x2="37.00" y2="192.30" stroke="#222" stroke-width="0.9"/>
<text x="32.40" y="195.20" font-size="8.3" text-anchor="end" fill="#151515" stroke="#151515" stroke-width="0.04" textLength="9.6" lengthAdjust="spacingAndGlyphs" >#E</text>
<line x1="33.50" y1="201.30" x2="37.00" y2="201.30" stroke="#222" stroke-width="0.9"/>
<text x="32.40" y="204.20" font-size="8.3" text-anchor="end" fill="#151515" stroke="#151515" stroke-width="0.04" textLength="9.6" lengthAdjust="spacingAndGlyphs" >#F</text>
<line x1="33.50" y1="210.30" x2="37.00" y2="210.30" stroke="#222" stroke-width="0.9"/>
<text x="32.40" y="213.20" font-size="8.3" text-anchor="end" fill="#151515" stroke="#151515" stroke-width="0.04" textLength="9.6" lengthAdjust="spacingAndGlyphs" >#G</text>
<rect x="36.70" y="222.50" width="49.85" height="8.45" fill="#b9cde0" />
<rect x="86.55" y="222.50" width="49.85" height="8.45" fill="#b9cde0" />
<rect x="136.40" y="222.50" width="49.85" height="8.45" fill="#d3e0eb" />
<rect x="186.25" y="222.50" width="49.85" height="8.45" fill="#d8e3ee" />
<rect x="236.10" y="222.50" width="49.85" height="8.45" fill="#d3e0eb" />
<rect x="285.95" y="222.50" width="49.85" height="8.45" fill="#dfe8f1" />
<rect x="335.80" y="222.50" width="49.85" height="8.45" fill="#eef3f7" />
<rect x="385.65" y="222.50" width="49.85" height="8.45" fill="#ffffff" />
<rect x="36.70" y="230.95" width="49.85" height="8.45" fill="#bed1e2" />
<rect x="86.55" y="230.95" width="49.85" height="8.45" fill="#d3e0ec" />
<rect x="136.40" y="230.95" width="49.85" height="8.45" fill="#d3e0eb" />
<rect x="186.25" y="230.95" width="49.85" height="8.45" fill="#d3e0eb" />
<rect x="236.10" y="230.95" width="49.85" height="8.45" fill="#dfe8f1" />
<rect x="285.95" y="230.95" width="49.85" height="8.45" fill="#eef3f7" />
<rect x="335.80" y="230.95" width="49.85" height="8.45" fill="#d6e2ed" />
<rect x="385.65" y="230.95" width="49.85" height="8.45" fill="#ffffff" />
<rect x="36.70" y="239.40" width="49.85" height="8.45" fill="#f2f5f9" />
<rect x="86.55" y="239.40" width="49.85" height="8.45" fill="#d6e2ed" />
<rect x="136.40" y="239.40" width="49.85" height="8.45" fill="#a9c1d8" />
<rect x="186.25" y="239.40" width="49.85" height="8.45" fill="#88a9c8" />
<rect x="236.10" y="239.40" width="49.85" height="8.45" fill="#d3e0eb" />
<rect x="285.95" y="239.40" width="49.85" height="8.45" fill="#b4c9dd" />
<rect x="335.80" y="239.40" width="49.85" height="8.45" fill="#eef3f7" />
<rect x="385.65" y="239.40" width="49.85" height="8.45" fill="#ffffff" />
<rect x="36.70" y="247.85" width="49.85" height="8.45" fill="#8eacc8" />
<rect x="86.55" y="247.85" width="49.85" height="8.45" fill="#f2f5f9" />
<rect x="136.40" y="247.85" width="49.85" height="8.45" fill="#0d4a80" />
<rect x="186.25" y="247.85" width="49.85" height="8.45" fill="#f2f5f9" />
<rect x="236.10" y="247.85" width="49.85" height="8.45" fill="#f5f8fb" />
<rect x="285.95" y="247.85" width="49.85" height="8.45" fill="#c9d8e6" />
<rect x="335.80" y="247.85" width="49.85" height="8.45" fill="#eef3f7" />
<rect x="385.65" y="247.85" width="49.85" height="8.45" fill="#ffffff" />
<rect x="36.70" y="256.30" width="49.85" height="8.45" fill="#5b89b3" />
<rect x="86.55" y="256.30" width="49.85" height="8.45" fill="#d0dde9" />
<rect x="136.40" y="256.30" width="49.85" height="8.45" fill="#a9c1d8" />
<rect x="186.25" y="256.30" width="49.85" height="8.45" fill="#dfe8f1" />
<rect x="236.10" y="256.30" width="49.85" height="8.45" fill="#d3e0eb" />
<rect x="285.95" y="256.30" width="49.85" height="8.45" fill="#d3e0eb" />
<rect x="335.80" y="256.30" width="49.85" height="8.45" fill="#eef3f7" />
<rect x="385.65" y="256.30" width="49.85" height="8.45" fill="#ffffff" />
<rect x="36.70" y="264.75" width="49.85" height="8.45" fill="#8eacc8" />
<rect x="86.55" y="264.75" width="49.85" height="8.45" fill="#b9cde0" />
<rect x="136.40" y="264.75" width="49.85" height="8.45" fill="#d3e0eb" />
<rect x="186.25" y="264.75" width="49.85" height="8.45" fill="#d3e0eb" />
<rect x="236.10" y="264.75" width="49.85" height="8.45" fill="#dfe8f1" />
<rect x="285.95" y="264.75" width="49.85" height="8.45" fill="#a9c1d8" />
<rect x="335.80" y="264.75" width="49.85" height="8.45" fill="#eef3f7" />
<rect x="385.65" y="264.75" width="49.85" height="8.45" fill="#ffffff" />
<rect x="36.70" y="273.20" width="49.85" height="8.45" fill="#f0f4f8" />
<rect x="86.55" y="273.20" width="49.85" height="8.45" fill="#b4c9dd" />
<rect x="136.40" y="273.20" width="49.85" height="8.45" fill="#f5f8fb" />
<rect x="186.25" y="273.20" width="49.85" height="8.45" fill="#dfe8f1" />
<rect x="236.10" y="273.20" width="49.85" height="8.45" fill="#d3e0eb" />
<rect x="285.95" y="273.20" width="49.85" height="8.45" fill="#5b89b3" />
<rect x="335.80" y="273.20" width="49.85" height="8.45" fill="#d3e0eb" />
<rect x="385.65" y="273.20" width="49.85" height="8.45" fill="#ffffff" />
<rect x="36.70" y="281.65" width="49.85" height="8.45" fill="#bed1e2" />
<rect x="86.55" y="281.65" width="49.85" height="8.45" fill="#f5f8fb" />
<rect x="136.40" y="281.65" width="49.85" height="8.45" fill="#d3e0eb" />
<rect x="186.25" y="281.65" width="49.85" height="8.45" fill="#f5f8fb" />
<rect x="236.10" y="281.65" width="49.85" height="8.45" fill="#c6d6e6" />
<rect x="285.95" y="281.65" width="49.85" height="8.45" fill="#a0bbd4" />
<rect x="335.80" y="281.65" width="49.85" height="8.45" fill="#d3e0eb" />
<rect x="385.65" y="281.65" width="49.85" height="8.45" fill="#ffffff" />
<line x1="36.20" y1="222.50" x2="436.00" y2="222.50" stroke="rgba(0,0,0,0.48)" stroke-width="1.4"/>
<line x1="36.20" y1="230.95" x2="436.00" y2="230.95" stroke="rgba(0,0,0,0.48)" stroke-width="1.4"/>
<line x1="36.20" y1="239.40" x2="436.00" y2="239.40" stroke="rgba(0,0,0,0.48)" stroke-width="1.4"/>
<line x1="36.20" y1="247.85" x2="436.00" y2="247.85" stroke="rgba(0,0,0,0.48)" stroke-width="1.4"/>
<line x1="36.20" y1="256.30" x2="436.00" y2="256.30" stroke="rgba(0,0,0,0.48)" stroke-width="1.4"/>
<line x1="36.20" y1="264.75" x2="436.00" y2="264.75" stroke="rgba(0,0,0,0.48)" stroke-width="1.4"/>
<line x1="36.20" y1="273.20" x2="436.00" y2="273.20" stroke="rgba(0,0,0,0.48)" stroke-width="1.4"/>
<line x1="36.20" y1="281.65" x2="436.00" y2="281.65" stroke="rgba(0,0,0,0.48)" stroke-width="1.4"/>
<line x1="36.20" y1="290.10" x2="436.00" y2="290.10" stroke="rgba(0,0,0,0.48)" stroke-width="1.4"/>
<line x1="36.70" y1="221.80" x2="36.70" y2="290.80" stroke="rgba(0,0,0,0.62)" stroke-width="1.0"/>
<line x1="86.55" y1="221.80" x2="86.55" y2="290.80" stroke="rgba(0,0,0,0.62)" stroke-width="1.0"/>
<line x1="136.40" y1="221.80" x2="136.40" y2="290.80" stroke="rgba(0,0,0,0.62)" stroke-width="1.0"/>
<line x1="186.25" y1="221.80" x2="186.25" y2="290.80" stroke="rgba(0,0,0,0.62)" stroke-width="1.0"/>
<line x1="236.10" y1="221.80" x2="236.10" y2="290.80" stroke="rgba(0,0,0,0.62)" stroke-width="1.0"/>
<line x1="285.95" y1="221.80" x2="285.95" y2="290.80" stroke="rgba(0,0,0,0.62)" stroke-width="1.0"/>
<line x1="335.80" y1="221.80" x2="335.80" y2="290.80" stroke="rgba(0,0,0,0.62)" stroke-width="1.0"/>
<line x1="385.65" y1="221.80" x2="385.65" y2="290.80" stroke="rgba(0,0,0,0.62)" stroke-width="1.0"/>
<line x1="435.50" y1="221.80" x2="435.50" y2="290.80" stroke="rgba(0,0,0,0.62)" stroke-width="1.0"/>
<line x1="33.50" y1="225.62" x2="37.00" y2="225.62" stroke="#222" stroke-width="0.9"/>
<text x="32.40" y="228.53" font-size="8.3" text-anchor="end" fill="#151515" stroke="#151515" stroke-width="0.04" textLength="9.6" lengthAdjust="spacingAndGlyphs" >#1</text>
<line x1="33.50" y1="234.08" x2="37.00" y2="234.08" stroke="#222" stroke-width="0.9"/>
<text x="32.40" y="236.98" font-size="8.3" text-anchor="end" fill="#151515" stroke="#151515" stroke-width="0.04" textLength="9.6" lengthAdjust="spacingAndGlyphs" >#2</text>
<line x1="33.50" y1="242.53" x2="37.00" y2="242.53" stroke="#222" stroke-width="0.9"/>
<text x="32.40" y="245.43" font-size="8.3" text-anchor="end" fill="#151515" stroke="#151515" stroke-width="0.04" textLength="9.6" lengthAdjust="spacingAndGlyphs" >#3</text>
<line x1="33.50" y1="250.97" x2="37.00" y2="250.97" stroke="#222" stroke-width="0.9"/>
<text x="32.40" y="253.88" font-size="8.3" text-anchor="end" fill="#151515" stroke="#151515" stroke-width="0.04" textLength="9.6" lengthAdjust="spacingAndGlyphs" >#4</text>
<line x1="33.50" y1="259.42" x2="37.00" y2="259.42" stroke="#222" stroke-width="0.9"/>
<text x="32.40" y="262.32" font-size="8.3" text-anchor="end" fill="#151515" stroke="#151515" stroke-width="0.04" textLength="9.6" lengthAdjust="spacingAndGlyphs" >#5</text>
<line x1="33.50" y1="267.88" x2="37.00" y2="267.88" stroke="#222" stroke-width="0.9"/>
<text x="32.40" y="270.77" font-size="8.3" text-anchor="end" fill="#151515" stroke="#151515" stroke-width="0.04" textLength="9.6" lengthAdjust="spacingAndGlyphs" >#7</text>
<line x1="33.50" y1="276.32" x2="37.00" y2="276.32" stroke="#222" stroke-width="0.9"/>
<text x="32.40" y="279.22" font-size="8.3" text-anchor="end" fill="#151515" stroke="#151515" stroke-width="0.04" textLength="9.6" lengthAdjust="spacingAndGlyphs" >#8</text>
<line x1="33.50" y1="284.77" x2="37.00" y2="284.77" stroke="#222" stroke-width="0.9"/>
<text x="32.40" y="287.67" font-size="8.3" text-anchor="end" fill="#151515" stroke="#151515" stroke-width="0.04" textLength="9.6" lengthAdjust="spacingAndGlyphs" >#9</text>
<text x="16.50" y="183.30" font-size="8.8" text-anchor="middle" fill="#151515" stroke="#151515" stroke-width="0.05" textLength="26.3" lengthAdjust="spacingAndGlyphs" transform="rotate(-90 16.50 183.30)" >Healthy</text>
<text x="16.50" y="256.50" font-size="8.8" text-anchor="middle" fill="#151515" stroke="#151515" stroke-width="0.05" textLength="25.5" lengthAdjust="spacingAndGlyphs" transform="rotate(-90 16.50 256.50)" >Patients</text>
<rect x="443.50" y="187.80" width="11.00" height="7.80" fill="#0d4a80" stroke="#222" stroke-width="0.9" />
<rect x="458.20" y="187.80" width="11.00" height="7.80" fill="#c8102e" stroke="#222" stroke-width="0.9" />
<rect x="443.50" y="195.60" width="11.00" height="11.70" fill="#336b9c" stroke="#222" stroke-width="0.9" />
<rect x="458.20" y="195.60" width="11.00" height="11.70" fill="#d63c58" stroke="#222" stroke-width="0.9" />
<rect x="443.50" y="207.30" width="11.00" height="11.70" fill="#6a93bb" stroke="#222" stroke-width="0.9" />
<rect x="458.20" y="207.30" width="11.00" height="11.70" fill="#e27085" stroke="#222" stroke-width="0.9" />
<rect x="443.50" y="219.00" width="11.00" height="12.10" fill="#9ab8d3" stroke="#222" stroke-width="0.9" />
<rect x="458.20" y="219.00" width="11.00" height="12.10" fill="#ec9fae" stroke="#222" stroke-width="0.9" />
<rect x="443.50" y="231.10" width="11.00" height="11.90" fill="#d2e0ec" stroke="#222" stroke-width="0.9" />
<rect x="458.20" y="231.10" width="11.00" height="11.90" fill="#f6d0d8" stroke="#222" stroke-width="0.9" />
<rect x="443.50" y="243.00" width="11.00" height="11.70" fill="#ffffff" stroke="#222" stroke-width="0.9" />
<rect x="458.20" y="243.00" width="11.00" height="11.70" fill="#ffffff" stroke="#222" stroke-width="0.9" />
<text x="481.00" y="198.60" font-size="8.6" text-anchor="end" fill="#151515" stroke="#151515" stroke-width="0.05" >50</text>
<text x="481.00" y="210.30" font-size="8.6" text-anchor="end" fill="#151515" stroke="#151515" stroke-width="0.05" >40</text>
<text x="481.00" y="222.00" font-size="8.6" text-anchor="end" fill="#151515" stroke="#151515" stroke-width="0.05" >30</text>
<text x="481.00" y="234.10" font-size="8.6" text-anchor="end" fill="#151515" stroke="#151515" stroke-width="0.05" >20</text>
<text x="481.00" y="246.00" font-size="8.6" text-anchor="end" fill="#151515" stroke="#151515" stroke-width="0.05" >10</text>
<text x="481.00" y="257.70" font-size="8.6" text-anchor="end" fill="#151515" stroke="#151515" stroke-width="0.05" >0</text>
<line x1="486.70" y1="186.00" x2="486.70" y2="257.30" stroke="#222" stroke-width="1"/>
<line x1="481.50" y1="186.40" x2="487.20" y2="186.40" stroke="#222" stroke-width="0.9"/>
<line x1="481.50" y1="256.90" x2="487.20" y2="256.90" stroke="#222" stroke-width="0.9"/>
<text x="494.30" y="221.60" font-size="9.2" text-anchor="middle" fill="#151515" stroke="#151515" stroke-width="0.05" textLength="50.5" lengthAdjust="spacingAndGlyphs" transform="rotate(90 494.30 221.60)" >Spike-response</text>
<text x="504.90" y="221.90" font-size="9.2" text-anchor="middle" fill="#151515" stroke="#151515" stroke-width="0.05" textLength="31" lengthAdjust="spacingAndGlyphs" transform="rotate(90 504.90 221.90)" >% of total</text>
<text x="8.50" y="313.50" font-size="11.5" text-anchor="start" fill="#000" font-weight="bold" >B</text>
<text x="67.30" y="316.20" font-size="9" text-anchor="middle" fill="#151515" stroke="#151515" stroke-width="0.05" textLength="31.8" lengthAdjust="spacingAndGlyphs" >Healthy</text>
<text x="67.30" y="326.50" font-size="8.8" text-anchor="middle" fill="#151515" stroke="#151515" stroke-width="0.05" textLength="34.2" lengthAdjust="spacingAndGlyphs" >controls</text>
<text x="125.50" y="316.20" font-size="9" text-anchor="middle" fill="#151515" stroke="#151515" stroke-width="0.05" textLength="60" lengthAdjust="spacingAndGlyphs" >aCD19-CAR-T</text>
<text x="125.50" y="326.50" font-size="8.8" text-anchor="middle" fill="#151515" stroke="#151515" stroke-width="0.05" textLength="35" lengthAdjust="spacingAndGlyphs" >patients</text>
<line x1="43.60" y1="322.70" x2="43.60" y2="438.50" stroke="#222" stroke-width="1"/>
<line x1="40.20" y1="438.00" x2="43.60" y2="438.00" stroke="#222" stroke-width="0.9"/>
<text x="37.20" y="440.80" font-size="8" text-anchor="end" fill="#151515" stroke="#151515" stroke-width="0.04" >0</text>
<line x1="40.20" y1="416.06" x2="43.60" y2="416.06" stroke="#222" stroke-width="0.9"/>
<text x="37.20" y="418.86" font-size="8" text-anchor="end" fill="#151515" stroke="#151515" stroke-width="0.04" >20</text>
<line x1="40.20" y1="394.12" x2="43.60" y2="394.12" stroke="#222" stroke-width="0.9"/>
<text x="37.20" y="396.92" font-size="8" text-anchor="end" fill="#151515" stroke="#151515" stroke-width="0.04" >40</text>
<line x1="40.20" y1="372.18" x2="43.60" y2="372.18" stroke="#222" stroke-width="0.9"/>
<text x="37.20" y="374.98" font-size="8" text-anchor="end" fill="#151515" stroke="#151515" stroke-width="0.04" >60</text>
<line x1="40.20" y1="350.24" x2="43.60" y2="350.24" stroke="#222" stroke-width="0.9"/>
<text x="37.20" y="353.04" font-size="8" text-anchor="end" fill="#151515" stroke="#151515" stroke-width="0.04" >80</text>
<line x1="40.20" y1="328.30" x2="43.60" y2="328.30" stroke="#222" stroke-width="0.9"/>
<text x="37.20" y="331.10" font-size="8" text-anchor="end" fill="#151515" stroke="#151515" stroke-width="0.04" >100</text>
<line x1="43.10" y1="438.00" x2="154.60" y2="438.00" stroke="#222" stroke-width="1.1"/>
<line x1="47.00" y1="438.00" x2="47.00" y2="440.50" stroke="#222" stroke-width="0.9"/>
<text x="47.00" y="450.50" font-size="7.6" text-anchor="middle" fill="#151515" stroke="#151515" stroke-width="0.02" >0</text>
<line x1="53.50" y1="438.00" x2="53.50" y2="440.50" stroke="#222" stroke-width="0.9"/>
<text x="53.50" y="450.50" font-size="7.6" text-anchor="middle" fill="#151515" stroke="#151515" stroke-width="0.02" >1</text>
<line x1="60.00" y1="438.00" x2="60.00" y2="440.50" stroke="#222" stroke-width="0.9"/>
<text x="60.00" y="450.50" font-size="7.6" text-anchor="middle" fill="#151515" stroke="#151515" stroke-width="0.02" >2</text>
<line x1="66.50" y1="438.00" x2="66.50" y2="440.50" stroke="#222" stroke-width="0.9"/>
<text x="66.50" y="450.50" font-size="7.6" text-anchor="middle" fill="#151515" stroke="#151515" stroke-width="0.02" >3</text>
<line x1="73.00" y1="438.00" x2="73.00" y2="440.50" stroke="#222" stroke-width="0.9"/>
<text x="73.00" y="450.50" font-size="7.6" text-anchor="middle" fill="#151515" stroke="#151515" stroke-width="0.02" >4</text>
<line x1="79.50" y1="438.00" x2="79.50" y2="440.50" stroke="#222" stroke-width="0.9"/>
<text x="79.50" y="450.50" font-size="7.6" text-anchor="middle" fill="#151515" stroke="#151515" stroke-width="0.02" >5</text>
<line x1="86.00" y1="438.00" x2="86.00" y2="440.50" stroke="#222" stroke-width="0.9"/>
<text x="86.00" y="450.50" font-size="7.6" text-anchor="middle" fill="#151515" stroke="#151515" stroke-width="0.02" >6</text>
<line x1="92.50" y1="438.00" x2="92.50" y2="440.50" stroke="#222" stroke-width="0.9"/>
<text x="92.50" y="450.50" font-size="7.6" text-anchor="middle" fill="#151515" stroke="#151515" stroke-width="0.02" >7</text>
<line x1="103.00" y1="438.00" x2="103.00" y2="440.50" stroke="#222" stroke-width="0.9"/>
<text x="103.00" y="450.50" font-size="7.6" text-anchor="middle" fill="#151515" stroke="#151515" stroke-width="0.02" >0</text>
<line x1="109.50" y1="438.00" x2="109.50" y2="440.50" stroke="#222" stroke-width="0.9"/>
<text x="109.50" y="450.50" font-size="7.6" text-anchor="middle" fill="#151515" stroke="#151515" stroke-width="0.02" >1</text>
<line x1="116.00" y1="438.00" x2="116.00" y2="440.50" stroke="#222" stroke-width="0.9"/>
<text x="116.00" y="450.50" font-size="7.6" text-anchor="middle" fill="#151515" stroke="#151515" stroke-width="0.02" >2</text>
<line x1="122.50" y1="438.00" x2="122.50" y2="440.50" stroke="#222" stroke-width="0.9"/>
<text x="122.50" y="450.50" font-size="7.6" text-anchor="middle" fill="#151515" stroke="#151515" stroke-width="0.02" >3</text>
<line x1="129.00" y1="438.00" x2="129.00" y2="440.50" stroke="#222" stroke-width="0.9"/>
<text x="129.00" y="450.50" font-size="7.6" text-anchor="middle" fill="#151515" stroke="#151515" stroke-width="0.02" >4</text>
<line x1="135.50" y1="438.00" x2="135.50" y2="440.50" stroke="#222" stroke-width="0.9"/>
<text x="135.50" y="450.50" font-size="7.6" text-anchor="middle" fill="#151515" stroke="#151515" stroke-width="0.02" >5</text>
<line x1="142.00" y1="438.00" x2="142.00" y2="440.50" stroke="#222" stroke-width="0.9"/>
<text x="142.00" y="450.50" font-size="7.6" text-anchor="middle" fill="#151515" stroke="#151515" stroke-width="0.02" >6</text>
<line x1="148.50" y1="438.00" x2="148.50" y2="440.50" stroke="#222" stroke-width="0.9"/>
<text x="148.50" y="450.50" font-size="7.6" text-anchor="middle" fill="#151515" stroke="#151515" stroke-width="0.02" >7</text>
<rect x="83.95" y="422.31" width="4.10" height="15.69" fill="#c8102e" />
<rect x="90.45" y="343.99" width="4.10" height="94.01" fill="#c8102e" />
<rect x="126.95" y="424.29" width="4.10" height="13.71" fill="#0d4a80" />
<rect x="139.95" y="383.15" width="4.10" height="54.85" fill="#0d4a80" />
<rect x="146.45" y="396.86" width="4.10" height="41.14" fill="#0d4a80" />
<text x="41.70" y="463.30" font-size="9.2" text-anchor="start" fill="#151515" stroke="#151515" stroke-width="0.05" textLength="114.5" lengthAdjust="spacingAndGlyphs" >No of positive Spike-peptide pools</text>
<text x="16.90" y="380.40" font-size="9.5" text-anchor="middle" fill="#151515" stroke="#151515" stroke-width="0.05" textLength="62" lengthAdjust="spacingAndGlyphs" transform="rotate(-90 16.90 380.40)" >% of donors tested</text>
<text x="185.00" y="314.00" font-size="11.4" text-anchor="start" fill="#000" font-weight="bold" >C</text>
<text x="209.60" y="330.30" font-size="8.8" text-anchor="middle" fill="#151515" stroke="#151515" stroke-width="0.05" textLength="32.3" lengthAdjust="spacingAndGlyphs" >Healthy</text>
<text x="210.00" y="402.20" font-size="8.8" text-anchor="middle" fill="#151515" stroke="#151515" stroke-width="0.05" textLength="34" lengthAdjust="spacingAndGlyphs" >Patients</text>
<path d="M209.50,358.70 L209.50,334.70 A24,24 0 0 1 231.72,349.63 Z" fill="#c8102e" stroke="rgba(255,255,255,0.6)" stroke-width="0.25" stroke-linejoin="round"/>
<path d="M209.50,358.70 L231.72,349.63 A24,24 0 0 1 232.90,364.04 Z" fill="#e06a80" stroke="rgba(255,255,255,0.6)" stroke-width="0.25" stroke-linejoin="round"/>
<path d="M209.50,358.70 L232.90,364.04 A24,24 0 0 1 214.36,382.20 Z" fill="#d23e59" stroke="rgba(255,255,255,0.6)" stroke-width="0.25" stroke-linejoin="round"/>
<path d="M209.50,358.70 L214.36,382.20 A24,24 0 0 1 209.01,382.69 Z" fill="#f5d3da" stroke="rgba(255,255,255,0.6)" stroke-width="0.25" stroke-linejoin="round"/>
<path d="M209.50,358.70 L209.01,382.69 A24,24 0 0 1 186.34,364.99 Z" fill="#efb5c0" stroke="rgba(255,255,255,0.6)" stroke-width="0.25" stroke-linejoin="round"/>
<path d="M209.50,358.70 L186.34,364.99 A24,24 0 0 1 198.64,337.30 Z" fill="#e9a3b0" stroke="rgba(255,255,255,0.6)" stroke-width="0.25" stroke-linejoin="round"/>
<path d="M209.50,358.70 L198.64,337.30 A24,24 0 0 1 209.50,334.70 Z" fill="#e38a9b" stroke="rgba(255,255,255,0.6)" stroke-width="0.25" stroke-linejoin="round"/>
<path d="M210.00,429.00 L210.00,405.00 A24,24 0 0 1 232.79,421.47 Z" fill="#0d4a80" stroke="rgba(255,255,255,0.4)" stroke-width="0.2" stroke-linejoin="round"/>
<path d="M210.00,429.00 L232.79,421.47 A24,24 0 0 1 228.04,444.83 Z" fill="#3a6e9e" stroke="rgba(255,255,255,0.4)" stroke-width="0.2" stroke-linejoin="round"/>
<path d="M210.00,429.00 L228.04,444.83 A24,24 0 0 1 208.46,452.95 Z" fill="#5b86b0" stroke="rgba(255,255,255,0.4)" stroke-width="0.2" stroke-linejoin="round"/>
<path d="M210.00,429.00 L208.46,452.95 A24,24 0 0 1 199.50,450.58 Z" fill="#7fa1c3" stroke="rgba(255,255,255,0.4)" stroke-width="0.2" stroke-linejoin="round"/>
<path d="M210.00,429.00 L199.50,450.58 A24,24 0 0 1 188.49,439.65 Z" fill="#cfdce9" stroke="rgba(255,255,255,0.4)" stroke-width="0.2" stroke-linejoin="round"/>
<path d="M210.00,429.00 L188.49,439.65 A24,24 0 0 1 203.75,405.83 Z" fill="#a3bed6" stroke="rgba(255,255,255,0.4)" stroke-width="0.2" stroke-linejoin="round"/>
<path d="M210.00,429.00 L203.75,405.83 A24,24 0 0 1 210.00,405.00 Z" fill="#b9cde0" stroke="rgba(255,255,255,0.4)" stroke-width="0.2" stroke-linejoin="round"/>
<rect x="246.00" y="326.30" width="5.80" height="2.00" fill="#c8102e" />
<text x="254.70" y="329.70" font-size="7.7" text-anchor="start" fill="#151515" stroke="#151515" stroke-width="0.02" textLength="47.28" lengthAdjust="spacingAndGlyphs" >18.83% 1–180</text>
<rect x="246.00" y="336.03" width="5.80" height="2.00" fill="#e06a80" />
<text x="254.70" y="339.43" font-size="7.7" text-anchor="start" fill="#151515" stroke="#151515" stroke-width="0.02" textLength="51.35" lengthAdjust="spacingAndGlyphs" >9.74% 171–345</text>
<rect x="246.00" y="345.76" width="5.80" height="2.00" fill="#d23e59" />
<text x="254.70" y="349.16" font-size="7.7" text-anchor="start" fill="#151515" stroke="#151515" stroke-width="0.02" textLength="55.43" lengthAdjust="spacingAndGlyphs" >18.18% 336–510</text>
<rect x="246.00" y="355.49" width="5.80" height="2.00" fill="#f5d3da" />
<text x="254.70" y="358.89" font-size="7.7" text-anchor="start" fill="#151515" stroke="#151515" stroke-width="0.02" textLength="51.35" lengthAdjust="spacingAndGlyphs" >3.57% 501–705</text>
<rect x="246.00" y="365.22" width="5.80" height="2.00" fill="#efb5c0" />
<text x="254.70" y="368.62" font-size="7.7" text-anchor="start" fill="#151515" stroke="#151515" stroke-width="0.02" textLength="55.43" lengthAdjust="spacingAndGlyphs" >20.45% 696–895</text>
<rect x="246.00" y="374.95" width="5.80" height="2.00" fill="#e9a3b0" />
<text x="254.70" y="378.35" font-size="7.7" text-anchor="start" fill="#151515" stroke="#151515" stroke-width="0.02" textLength="59.5" lengthAdjust="spacingAndGlyphs" >21.75% 886–1085</text>
<rect x="246.00" y="384.68" width="5.80" height="2.00" fill="#e38a9b" />
<text x="254.70" y="388.08" font-size="7.7" text-anchor="start" fill="#151515" stroke="#151515" stroke-width="0.02" textLength="59.5" lengthAdjust="spacingAndGlyphs" >7.47% 1076–1273</text>
<rect x="246.00" y="400.80" width="5.80" height="2.00" fill="#0d4a80" />
<text x="254.70" y="404.20" font-size="7.7" text-anchor="start" fill="#151515" stroke="#151515" stroke-width="0.02" textLength="47.28" lengthAdjust="spacingAndGlyphs" >19.92% 1–180</text>
<rect x="246.00" y="409.78" width="5.80" height="2.00" fill="#3a6e9e" />
<text x="254.70" y="413.18" font-size="7.7" text-anchor="start" fill="#151515" stroke="#151515" stroke-width="0.02" textLength="55.43" lengthAdjust="spacingAndGlyphs" >16.55% 171–345</text>
<rect x="246.00" y="418.76" width="5.80" height="2.00" fill="#5b86b0" />
<text x="254.70" y="422.16" font-size="7.7" text-anchor="start" fill="#151515" stroke="#151515" stroke-width="0.02" textLength="55.43" lengthAdjust="spacingAndGlyphs" >14.56% 336–510</text>
<rect x="246.00" y="427.74" width="5.80" height="2.00" fill="#7fa1c3" />
<text x="254.70" y="431.14" font-size="7.7" text-anchor="start" fill="#151515" stroke="#151515" stroke-width="0.02" textLength="51.35" lengthAdjust="spacingAndGlyphs" >6.18% 501–705</text>
<rect x="246.00" y="436.72" width="5.80" height="2.00" fill="#cfdce9" />
<text x="254.70" y="440.12" font-size="7.7" text-anchor="start" fill="#151515" stroke="#151515" stroke-width="0.02" textLength="55.43" lengthAdjust="spacingAndGlyphs" >10.48% 696–895</text>
<rect x="246.00" y="445.70" width="5.80" height="2.00" fill="#a3bed6" />
<text x="254.70" y="449.10" font-size="7.7" text-anchor="start" fill="#151515" stroke="#151515" stroke-width="0.02" textLength="59.5" lengthAdjust="spacingAndGlyphs" >28.13% 886–1085</text>
<rect x="246.00" y="454.68" width="5.80" height="2.00" fill="#b9cde0" />
<text x="254.70" y="458.08" font-size="7.7" text-anchor="start" fill="#151515" stroke="#151515" stroke-width="0.02" textLength="59.5" lengthAdjust="spacingAndGlyphs" >4.19% 1076–1273</text>
<text x="341.60" y="313.60" font-size="11.7" text-anchor="start" fill="#000" font-weight="bold" >D</text>
<line x1="382.30" y1="337.80" x2="382.30" y2="438.00" stroke="#222" stroke-width="1"/>
<line x1="379.00" y1="437.50" x2="382.30" y2="437.50" stroke="#222" stroke-width="0.9"/>
<text x="377.20" y="440.30" font-size="8" text-anchor="end" fill="#151515" stroke="#151515" stroke-width="0.04" >0</text>
<line x1="379.00" y1="418.82" x2="382.30" y2="418.82" stroke="#222" stroke-width="0.9"/>
<text x="377.20" y="421.62" font-size="8" text-anchor="end" fill="#151515" stroke="#151515" stroke-width="0.04" >200</text>
<line x1="379.00" y1="400.14" x2="382.30" y2="400.14" stroke="#222" stroke-width="0.9"/>
<text x="377.20" y="402.94" font-size="8" text-anchor="end" fill="#151515" stroke="#151515" stroke-width="0.04" >400</text>
<line x1="379.00" y1="381.46" x2="382.30" y2="381.46" stroke="#222" stroke-width="0.9"/>
<text x="377.20" y="384.26" font-size="8" text-anchor="end" fill="#151515" stroke="#151515" stroke-width="0.04" >600</text>
<line x1="379.00" y1="362.78" x2="382.30" y2="362.78" stroke="#222" stroke-width="0.9"/>
<text x="377.20" y="365.58" font-size="8" text-anchor="end" fill="#151515" stroke="#151515" stroke-width="0.04" >800</text>
<line x1="379.00" y1="344.10" x2="382.30" y2="344.10" stroke="#222" stroke-width="0.9"/>
<text x="377.20" y="346.90" font-size="8" text-anchor="end" fill="#151515" stroke="#151515" stroke-width="0.04" >1000</text>
<line x1="381.80" y1="437.50" x2="505.00" y2="437.50" stroke="#222" stroke-width="1.1"/>
<rect x="384.30" y="415.36" width="2.80" height="22.14" fill="#c8102e" />
<rect x="388.50" y="415.74" width="2.80" height="21.76" fill="#0d4a84" />
<rect x="392.70" y="420.03" width="2.80" height="17.47" fill="#2db34a" />
<line x1="389.90" y1="437.50" x2="389.90" y2="440.00" stroke="#222" stroke-width="0.9"/>
<text x="389.90" y="451.20" font-size="8.3" text-anchor="middle" fill="#151515" stroke="#151515" stroke-width="0.04" >#1</text>
<rect x="399.82" y="365.02" width="2.80" height="72.48" fill="#c8102e" />
<rect x="404.02" y="371.28" width="2.80" height="66.22" fill="#0d4a84" />
<rect x="408.22" y="369.41" width="2.80" height="68.09" fill="#2db34a" />
<line x1="405.42" y1="437.50" x2="405.42" y2="440.00" stroke="#222" stroke-width="0.9"/>
<text x="405.42" y="451.20" font-size="8.3" text-anchor="middle" fill="#151515" stroke="#151515" stroke-width="0.04" >#2</text>
<rect x="415.34" y="375.58" width="2.80" height="61.92" fill="#c8102e" />
<rect x="419.54" y="379.50" width="2.80" height="58.00" fill="#0d4a84" />
<rect x="423.74" y="382.21" width="2.80" height="55.29" fill="#2db34a" />
<line x1="420.94" y1="437.50" x2="420.94" y2="440.00" stroke="#222" stroke-width="0.9"/>
<text x="420.94" y="451.20" font-size="8.3" text-anchor="middle" fill="#151515" stroke="#151515" stroke-width="0.04" >#3</text>
<rect x="430.86" y="398.18" width="2.80" height="39.32" fill="#c8102e" />
<rect x="435.06" y="373.71" width="2.80" height="63.79" fill="#0d4a84" />
<rect x="439.26" y="398.18" width="2.80" height="39.32" fill="#2db34a" />
<line x1="436.46" y1="437.50" x2="436.46" y2="440.00" stroke="#222" stroke-width="0.9"/>
<text x="436.46" y="451.20" font-size="8.3" text-anchor="middle" fill="#151515" stroke="#151515" stroke-width="0.04" >#4</text>
<rect x="446.38" y="344.57" width="2.80" height="92.93" fill="#c8102e" />
<rect x="450.58" y="391.92" width="2.80" height="45.58" fill="#0d4a84" />
<rect x="454.78" y="355.12" width="2.80" height="82.38" fill="#2db34a" />
<line x1="451.98" y1="437.50" x2="451.98" y2="440.00" stroke="#222" stroke-width="0.9"/>
<text x="451.98" y="451.20" font-size="8.3" text-anchor="middle" fill="#151515" stroke="#151515" stroke-width="0.04" >#5</text>
<rect x="461.90" y="405.56" width="2.80" height="31.94" fill="#c8102e" />
<rect x="466.10" y="403.41" width="2.80" height="34.09" fill="#0d4a84" />
<rect x="470.30" y="406.12" width="2.80" height="31.38" fill="#2db34a" />
<line x1="467.50" y1="437.50" x2="467.50" y2="440.00" stroke="#222" stroke-width="0.9"/>
<text x="467.50" y="451.20" font-size="8.3" text-anchor="middle" fill="#151515" stroke="#151515" stroke-width="0.04" >#7</text>
<rect x="477.42" y="395.94" width="2.80" height="41.56" fill="#c8102e" />
<rect x="481.62" y="386.78" width="2.80" height="50.72" fill="#0d4a84" />
<rect x="485.82" y="412.75" width="2.80" height="24.75" fill="#2db34a" />
<line x1="483.02" y1="437.50" x2="483.02" y2="440.00" stroke="#222" stroke-width="0.9"/>
<text x="483.02" y="451.20" font-size="8.3" text-anchor="middle" fill="#151515" stroke="#151515" stroke-width="0.04" >#8</text>
<rect x="492.94" y="410.13" width="2.80" height="27.37" fill="#c8102e" />
<rect x="497.14" y="413.22" width="2.80" height="24.28" fill="#0d4a84" />
<rect x="501.34" y="432.08" width="2.80" height="5.42" fill="#2db34a" />
<line x1="498.54" y1="437.50" x2="498.54" y2="440.00" stroke="#222" stroke-width="0.9"/>
<text x="498.54" y="451.20" font-size="8.3" text-anchor="middle" fill="#151515" stroke="#151515" stroke-width="0.04" >#9</text>
<text x="443.70" y="464.00" font-size="9.4" text-anchor="middle" fill="#151515" stroke="#151515" stroke-width="0.05" textLength="89.5" lengthAdjust="spacingAndGlyphs" >ID of aCD19-CAR-T patients</text>
<text x="352.30" y="387.60" font-size="8.6" text-anchor="middle" fill="#151515" stroke="#151515" stroke-width="0.05" textLength="67" lengthAdjust="spacingAndGlyphs" transform="rotate(-90 352.30 387.60)" >IFNγ-SFC/10<tspan dy="-2.8" font-size="6">6</tspan><tspan dy="2.8"> PBMC</tspan></text>
<rect x="474.20" y="336.00" width="3.60" height="3.50" fill="#c8102e" />
<text x="480.50" y="339.50" font-size="7.7" text-anchor="start" fill="#151515" stroke="#151515" stroke-width="0.02" textLength="31" lengthAdjust="spacingAndGlyphs" >Ancestral</text>
<rect x="474.20" y="345.55" width="3.60" height="3.50" fill="#0d4a84" />
<text x="480.50" y="349.05" font-size="7.7" text-anchor="start" fill="#151515" stroke="#151515" stroke-width="0.02" textLength="17.6" lengthAdjust="spacingAndGlyphs" >Delta</text>
<rect x="474.20" y="355.10" width="3.60" height="3.50" fill="#2db34a" />
<text x="480.50" y="358.60" font-size="7.7" text-anchor="start" fill="#151515" stroke="#151515" stroke-width="0.02" textLength="28.3" lengthAdjust="spacingAndGlyphs" >Omicron</text>
<text x="8.30" y="487.00" font-size="11.5" text-anchor="start" fill="#000" font-weight="bold" >E</text>
<line x1="48.70" y1="496.30" x2="48.70" y2="581.80" stroke="#222" stroke-width="1"/>
<line x1="45.40" y1="581.30" x2="48.70" y2="581.30" stroke="#222" stroke-width="0.9"/>
<text x="42.60" y="584.10" font-size="8" text-anchor="end" fill="#151515" stroke="#151515" stroke-width="0.04" >0</text>
<line x1="45.40" y1="565.32" x2="48.70" y2="565.32" stroke="#222" stroke-width="0.9"/>
<text x="42.60" y="568.12" font-size="8" text-anchor="end" fill="#151515" stroke="#151515" stroke-width="0.04" >20</text>
<line x1="45.40" y1="549.34" x2="48.70" y2="549.34" stroke="#222" stroke-width="0.9"/>
<text x="42.60" y="552.14" font-size="8" text-anchor="end" fill="#151515" stroke="#151515" stroke-width="0.04" >40</text>
<line x1="45.40" y1="533.36" x2="48.70" y2="533.36" stroke="#222" stroke-width="0.9"/>
<text x="42.60" y="536.16" font-size="8" text-anchor="end" fill="#151515" stroke="#151515" stroke-width="0.04" >60</text>
<line x1="45.40" y1="517.38" x2="48.70" y2="517.38" stroke="#222" stroke-width="0.9"/>
<text x="42.60" y="520.18" font-size="8" text-anchor="end" fill="#151515" stroke="#151515" stroke-width="0.04" >80</text>
<line x1="45.40" y1="501.40" x2="48.70" y2="501.40" stroke="#222" stroke-width="0.9"/>
<text x="42.60" y="504.20" font-size="8" text-anchor="end" fill="#151515" stroke="#151515" stroke-width="0.04" >100</text>
<rect x="52.10" y="501.40" width="6.10" height="79.90" fill="#0d4a80" />
<rect x="52.10" y="541.35" width="6.10" height="39.95" fill="#c8102e" />
<line x1="55.15" y1="581.50" x2="55.15" y2="584.00" stroke="#222" stroke-width="0.9"/>
<text x="55.15" y="594.80" font-size="8.3" text-anchor="middle" fill="#151515" stroke="#151515" stroke-width="0.04" >#5</text>
<rect x="64.07" y="501.40" width="6.10" height="79.90" fill="#0d4a80" />
<rect x="64.07" y="510.35" width="6.10" height="70.95" fill="#c8102e" />
<line x1="67.12" y1="581.50" x2="67.12" y2="584.00" stroke="#222" stroke-width="0.9"/>
<text x="67.12" y="594.80" font-size="8.3" text-anchor="middle" fill="#151515" stroke="#151515" stroke-width="0.04" >#9</text>
<rect x="76.04" y="501.40" width="6.10" height="79.90" fill="#0d4a80" />
<rect x="76.04" y="508.11" width="6.10" height="73.19" fill="#c8102e" />
<line x1="79.09" y1="581.50" x2="79.09" y2="584.00" stroke="#222" stroke-width="0.9"/>
<text x="79.09" y="594.80" font-size="8.3" text-anchor="middle" fill="#151515" stroke="#151515" stroke-width="0.04" >#2</text>
<rect x="88.01" y="501.40" width="6.10" height="79.90" fill="#0d4a80" />
<rect x="88.01" y="506.59" width="6.10" height="74.71" fill="#c8102e" />
<line x1="91.06" y1="581.50" x2="91.06" y2="584.00" stroke="#222" stroke-width="0.9"/>
<text x="91.06" y="594.80" font-size="8.3" text-anchor="middle" fill="#151515" stroke="#151515" stroke-width="0.04" >#3</text>
<rect x="99.98" y="501.40" width="6.10" height="79.90" fill="#0d4a80" />
<rect x="99.98" y="503.24" width="6.10" height="78.06" fill="#c8102e" />
<line x1="103.03" y1="581.50" x2="103.03" y2="584.00" stroke="#222" stroke-width="0.9"/>
<text x="103.03" y="594.80" font-size="8.3" text-anchor="middle" fill="#151515" stroke="#151515" stroke-width="0.04" >#1</text>
<rect x="111.95" y="501.40" width="6.10" height="79.90" fill="#0d4a80" />
<rect x="111.95" y="501.40" width="6.10" height="79.90" fill="#c8102e" />
<line x1="115.00" y1="581.50" x2="115.00" y2="584.00" stroke="#222" stroke-width="0.9"/>
<text x="115.00" y="594.80" font-size="8.3" text-anchor="middle" fill="#151515" stroke="#151515" stroke-width="0.04" >#4</text>
<rect x="123.92" y="501.40" width="6.10" height="79.90" fill="#0d4a80" />
<rect x="123.92" y="501.40" width="6.10" height="79.90" fill="#c8102e" />
<line x1="126.97" y1="581.50" x2="126.97" y2="584.00" stroke="#222" stroke-width="0.9"/>
<text x="126.97" y="594.80" font-size="8.3" text-anchor="middle" fill="#151515" stroke="#151515" stroke-width="0.04" >#7</text>
<rect x="135.89" y="501.40" width="6.10" height="79.90" fill="#0d4a80" />
<rect x="135.89" y="501.40" width="6.10" height="79.90" fill="#c8102e" />
<line x1="138.94" y1="581.50" x2="138.94" y2="584.00" stroke="#222" stroke-width="0.9"/>
<text x="138.94" y="594.80" font-size="8.3" text-anchor="middle" fill="#151515" stroke="#151515" stroke-width="0.04" >#8</text>
<line x1="48.20" y1="581.50" x2="145.10" y2="581.50" stroke="#222" stroke-width="1.1"/>
<text x="97.00" y="492.30" font-size="9.6" text-anchor="middle" fill="#151515" stroke="#151515" stroke-width="0.05" >Delta</text>
<line x1="245.10" y1="496.30" x2="245.10" y2="581.80" stroke="#222" stroke-width="1"/>
<line x1="241.80" y1="581.30" x2="245.10" y2="581.30" stroke="#222" stroke-width="0.9"/>
<text x="239.00" y="584.10" font-size="8" text-anchor="end" fill="#151515" stroke="#151515" stroke-width="0.04" >0</text>
<line x1="241.80" y1="565.32" x2="245.10" y2="565.32" stroke="#222" stroke-width="0.9"/>
<text x="239.00" y="568.12" font-size="8" text-anchor="end" fill="#151515" stroke="#151515" stroke-width="0.04" >20</text>
<line x1="241.80" y1="549.34" x2="245.10" y2="549.34" stroke="#222" stroke-width="0.9"/>
<text x="239.00" y="552.14" font-size="8" text-anchor="end" fill="#151515" stroke="#151515" stroke-width="0.04" >40</text>
<line x1="241.80" y1="533.36" x2="245.10" y2="533.36" stroke="#222" stroke-width="0.9"/>
<text x="239.00" y="536.16" font-size="8" text-anchor="end" fill="#151515" stroke="#151515" stroke-width="0.04" >60</text>
<line x1="241.80" y1="517.38" x2="245.10" y2="517.38" stroke="#222" stroke-width="0.9"/>
<text x="239.00" y="520.18" font-size="8" text-anchor="end" fill="#151515" stroke="#151515" stroke-width="0.04" >80</text>
<line x1="241.80" y1="501.40" x2="245.10" y2="501.40" stroke="#222" stroke-width="0.9"/>
<text x="239.00" y="504.20" font-size="8" text-anchor="end" fill="#151515" stroke="#151515" stroke-width="0.04" >100</text>
<rect x="248.80" y="501.40" width="6.10" height="79.90" fill="#0d4a80" />
<rect x="248.80" y="565.32" width="6.10" height="15.98" fill="#c8102e" />
<line x1="251.85" y1="581.50" x2="251.85" y2="584.00" stroke="#222" stroke-width="0.9"/>
<text x="251.85" y="594.80" font-size="8.3" text-anchor="middle" fill="#151515" stroke="#151515" stroke-width="0.04" >#9</text>
<rect x="260.80" y="501.40" width="6.10" height="79.90" fill="#0d4a80" />
<rect x="260.80" y="533.36" width="6.10" height="47.94" fill="#c8102e" />
<line x1="263.85" y1="581.50" x2="263.85" y2="584.00" stroke="#222" stroke-width="0.9"/>
<text x="263.85" y="594.80" font-size="8.3" text-anchor="middle" fill="#151515" stroke="#151515" stroke-width="0.04" >#8</text>
<rect x="272.80" y="501.40" width="6.10" height="79.90" fill="#0d4a80" />
<rect x="272.80" y="518.18" width="6.10" height="63.12" fill="#c8102e" />
<line x1="275.85" y1="581.50" x2="275.85" y2="584.00" stroke="#222" stroke-width="0.9"/>
<text x="275.85" y="594.80" font-size="8.3" text-anchor="middle" fill="#151515" stroke="#151515" stroke-width="0.04" >#1</text>
<rect x="284.80" y="501.40" width="6.10" height="79.90" fill="#0d4a80" />
<rect x="284.80" y="510.59" width="6.10" height="70.71" fill="#c8102e" />
<line x1="287.85" y1="581.50" x2="287.85" y2="584.00" stroke="#222" stroke-width="0.9"/>
<text x="287.85" y="594.80" font-size="8.3" text-anchor="middle" fill="#151515" stroke="#151515" stroke-width="0.04" >#5</text>
<rect x="296.80" y="501.40" width="6.10" height="79.90" fill="#0d4a80" />
<rect x="296.80" y="510.59" width="6.10" height="70.71" fill="#c8102e" />
<line x1="299.85" y1="581.50" x2="299.85" y2="584.00" stroke="#222" stroke-width="0.9"/>
<text x="299.85" y="594.80" font-size="8.3" text-anchor="middle" fill="#151515" stroke="#151515" stroke-width="0.04" >#3</text>
<rect x="308.80" y="501.40" width="6.10" height="79.90" fill="#0d4a80" />
<rect x="308.80" y="506.19" width="6.10" height="75.11" fill="#c8102e" />
<line x1="311.85" y1="581.50" x2="311.85" y2="584.00" stroke="#222" stroke-width="0.9"/>
<text x="311.85" y="594.80" font-size="8.3" text-anchor="middle" fill="#151515" stroke="#151515" stroke-width="0.04" >#2</text>
<rect x="320.80" y="501.40" width="6.10" height="79.90" fill="#0d4a80" />
<rect x="320.80" y="501.40" width="6.10" height="79.90" fill="#c8102e" />
<line x1="323.85" y1="581.50" x2="323.85" y2="584.00" stroke="#222" stroke-width="0.9"/>
<text x="323.85" y="594.80" font-size="8.3" text-anchor="middle" fill="#151515" stroke="#151515" stroke-width="0.04" >#4</text>
<rect x="332.80" y="501.40" width="6.10" height="79.90" fill="#0d4a80" />
<rect x="332.80" y="501.40" width="6.10" height="79.90" fill="#c8102e" />
<line x1="335.85" y1="581.50" x2="335.85" y2="584.00" stroke="#222" stroke-width="0.9"/>
<text x="335.85" y="594.80" font-size="8.3" text-anchor="middle" fill="#151515" stroke="#151515" stroke-width="0.04" >#7</text>
<line x1="244.60" y1="581.50" x2="341.50" y2="581.50" stroke="#222" stroke-width="1.1"/>
<text x="293.40" y="492.30" font-size="9.6" text-anchor="middle" fill="#151515" stroke="#151515" stroke-width="0.05" >Omicron</text>
<text x="97.00" y="608.20" font-size="9.4" text-anchor="middle" fill="#151515" stroke="#151515" stroke-width="0.05" textLength="89.5" lengthAdjust="spacingAndGlyphs" >ID of aCD19-CAR-T patients</text>
<text x="293.50" y="608.20" font-size="9.4" text-anchor="middle" fill="#151515" stroke="#151515" stroke-width="0.05" textLength="89.5" lengthAdjust="spacingAndGlyphs" >ID of aCD19-CAR-T patients</text>
<text x="22.10" y="539.50" font-size="9.2" text-anchor="middle" fill="#151515" stroke="#151515" stroke-width="0.05" textLength="82" lengthAdjust="spacingAndGlyphs" transform="rotate(-90 22.10 539.50)" >% of Spike-specific T cells</text>
<path d="M175.80,563.90 L175.80,546.10 A17.8,17.8 0 0 1 185.97,549.29 Z" fill="#0d4a80"/>
<path d="M175.80,563.90 L185.97,549.29 A17.8,17.8 0 1 1 175.80,546.10 Z" fill="#c8102e"/>
<path d="M373.20,563.90 L373.20,546.00 A17.9,17.9 0 0 1 390.49,559.26 Z" fill="#0d4a80"/>
<path d="M373.20,563.90 L390.49,559.26 A17.9,17.9 0 1 1 373.20,546.00 Z" fill="#c8102e"/>
<text x="175.50" y="542.00" font-size="10.2" text-anchor="middle" fill="#151515" stroke="#151515" stroke-width="0.05" textLength="26" lengthAdjust="spacingAndGlyphs" >9.68%</text>
<text x="373.00" y="542.00" font-size="10.2" text-anchor="middle" fill="#151515" stroke="#151515" stroke-width="0.05" textLength="31.7" lengthAdjust="spacingAndGlyphs" >20.83%</text>
<rect x="354.70" y="509.20" width="5.30" height="5.00" fill="#0d4a80" />
<rect x="354.70" y="518.90" width="5.30" height="5.00" fill="#c8102e" />
<text x="363.90" y="514.60" font-size="7.8" text-anchor="start" fill="#151515" stroke="#151515" stroke-width="0.04" textLength="37.2" lengthAdjust="spacingAndGlyphs" >% Inhibited</text>
<text x="363.90" y="524.30" font-size="7.8" text-anchor="start" fill="#151515" stroke="#151515" stroke-width="0.04" textLength="41.1" lengthAdjust="spacingAndGlyphs" >% Preserved</text>
</svg>
</body></html>
